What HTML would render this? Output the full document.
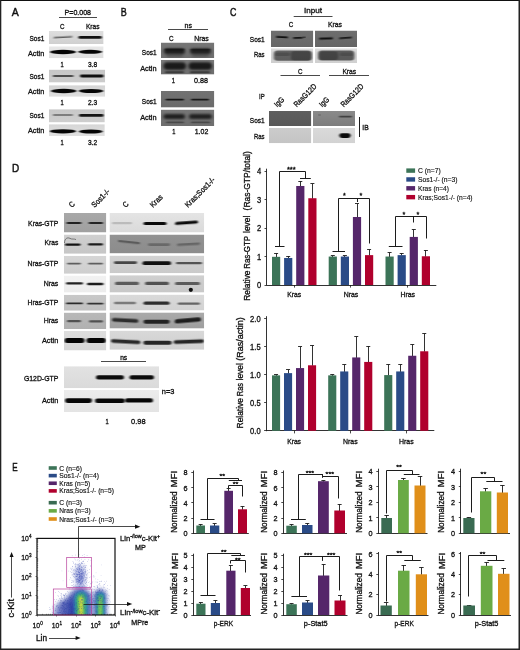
<!DOCTYPE html>
<html><head><meta charset="utf-8"><title>Figure</title>
<style>
html,body{margin:0;padding:0;background:#fff;}
body{width:520px;height:650px;overflow:hidden;position:relative;font-family:"Liberation Sans",sans-serif;}
svg{display:block}
svg text{font-family:"Liberation Sans",sans-serif;stroke:#111;stroke-width:0.32px;}
</style></head><body>
<svg width="520" height="650" viewBox="0 0 520 650">
<defs>
<filter id="bl" x="-20%" y="-100%" width="140%" height="300%"><feGaussianBlur stdDeviation="1.0 0.75"/></filter>
<filter id="bl0" x="-50%" y="-50%" width="200%" height="200%"><feGaussianBlur stdDeviation="0.5"/></filter>
<filter id="bl2" x="-20%" y="-100%" width="140%" height="300%"><feGaussianBlur stdDeviation="1.6 1.2"/></filter>
<filter id="bl3" x="-30%" y="-30%" width="160%" height="160%"><feGaussianBlur stdDeviation="2.2"/></filter>
<filter id="bl4" x="-30%" y="-30%" width="160%" height="160%"><feGaussianBlur stdDeviation="1.2"/></filter>
</defs>
<rect x="0" y="0" width="520" height="650" fill="#fff"/>

<text x="11.70" y="16.00" font-size="11.2" text-anchor="start" textLength="7.00" lengthAdjust="spacingAndGlyphs" fill="#111" style="stroke-width:0.45px">A</text>
<text x="77.80" y="15.00" font-size="7.4" text-anchor="middle" textLength="26.50" lengthAdjust="spacingAndGlyphs" fill="#111">P=0.008</text>
<line x1="59.00" y1="17.50" x2="97.00" y2="17.50" stroke="#1c1c1c" stroke-width="0.8"/>
<text x="62.20" y="29.00" font-size="7.8" text-anchor="middle" textLength="4.50" lengthAdjust="spacingAndGlyphs" fill="#111">C</text>
<text x="92.70" y="29.00" font-size="7.8" text-anchor="middle" textLength="13.60" lengthAdjust="spacingAndGlyphs" fill="#111">Kras</text>
<svg x="49.00" y="31.00" width="54.60" height="13.00" viewBox="49.00 31.00 54.60 13.00">
<linearGradient id="bg1" x1="0" y1="0" x2="0" y2="1"><stop offset="0" stop-color="#dedede"/><stop offset="1" stop-color="#d0d0d0"/></linearGradient>
<rect x="49.00" y="31.00" width="54.60" height="13.00" fill="url(#bg1)"/>
<rect x="53.50" y="36.40" width="19.00" height="1.60" rx="0.80" fill="#000" opacity="0.55" filter="url(#bl)" transform="rotate(-3 63.00 37.20)"/>
<rect x="78.40" y="36.00" width="23.40" height="2.80" rx="1.40" fill="#000" opacity="0.93" filter="url(#bl)"/>
</svg>
<svg x="49.00" y="46.30" width="54.60" height="11.90" viewBox="49.00 46.30 54.60 11.90">
<linearGradient id="bg2" x1="0" y1="0" x2="0" y2="1"><stop offset="0" stop-color="#e8e8e8"/><stop offset="1" stop-color="#dedede"/></linearGradient>
<rect x="49.00" y="46.30" width="54.60" height="11.90" fill="url(#bg2)"/>
<ellipse cx="63.00" cy="52.00" rx="13.00" ry="2.15" fill="#000" opacity="0.98" filter="url(#bl)"/>
<ellipse cx="90.20" cy="51.80" rx="12.20" ry="2.00" fill="#000" opacity="0.98" filter="url(#bl)"/>
</svg>
<svg x="49.00" y="69.60" width="56.20" height="13.00" viewBox="49.00 69.60 56.20 13.00">
<linearGradient id="bg3" x1="0" y1="0" x2="0" y2="1"><stop offset="0" stop-color="#c6c6c6"/><stop offset="1" stop-color="#cccccc"/></linearGradient>
<rect x="49.00" y="69.60" width="56.20" height="13.00" fill="url(#bg3)"/>
<rect x="52.80" y="75.10" width="20.80" height="1.80" rx="0.90" fill="#000" opacity="0.62" filter="url(#bl)"/>
<rect x="80.00" y="74.60" width="23.60" height="2.80" rx="1.40" fill="#000" opacity="0.92" filter="url(#bl)"/>
</svg>
<svg x="49.00" y="85.20" width="56.20" height="11.60" viewBox="49.00 85.20 56.20 11.60">
<linearGradient id="bg4" x1="0" y1="0" x2="0" y2="1"><stop offset="0" stop-color="#d4d4d4"/><stop offset="1" stop-color="#dedede"/></linearGradient>
<rect x="49.00" y="85.20" width="56.20" height="11.60" fill="url(#bg4)"/>
<ellipse cx="63.75" cy="91.00" rx="12.75" ry="2.15" fill="#000" opacity="0.98" filter="url(#bl)"/>
<ellipse cx="91.15" cy="91.00" rx="12.35" ry="2.00" fill="#000" opacity="0.98" filter="url(#bl)"/>
</svg>
<svg x="49.00" y="109.20" width="55.80" height="13.20" viewBox="49.00 109.20 55.80 13.20">
<linearGradient id="bg5" x1="0" y1="0" x2="0" y2="1"><stop offset="0" stop-color="#c8c8c8"/><stop offset="1" stop-color="#cecece"/></linearGradient>
<rect x="49.00" y="109.20" width="55.80" height="13.20" fill="url(#bg5)"/>
<rect x="52.80" y="114.20" width="20.20" height="1.60" rx="0.80" fill="#000" opacity="0.5" filter="url(#bl)"/>
<rect x="79.00" y="114.00" width="24.60" height="2.80" rx="1.40" fill="#000" opacity="0.9" filter="url(#bl)"/>
</svg>
<svg x="49.00" y="124.20" width="55.80" height="11.80" viewBox="49.00 124.20 55.80 11.80">
<linearGradient id="bg6" x1="0" y1="0" x2="0" y2="1"><stop offset="0" stop-color="#d6d6d6"/><stop offset="1" stop-color="#e0e0e0"/></linearGradient>
<rect x="49.00" y="124.20" width="55.80" height="11.80" fill="url(#bg6)"/>
<ellipse cx="62.90" cy="131.30" rx="13.10" ry="2.15" fill="#000" opacity="0.98" filter="url(#bl)"/>
<ellipse cx="90.80" cy="131.50" rx="12.00" ry="2.00" fill="#000" opacity="0.98" filter="url(#bl)"/>
</svg>
<text x="62.00" y="67.00" font-size="7.8" text-anchor="middle" textLength="3.20" lengthAdjust="spacingAndGlyphs" fill="#111">1</text>
<text x="92.50" y="67.00" font-size="7.8" text-anchor="middle" textLength="9.20" lengthAdjust="spacingAndGlyphs" fill="#111">3.8</text>
<text x="62.00" y="105.00" font-size="7.8" text-anchor="middle" textLength="3.20" lengthAdjust="spacingAndGlyphs" fill="#111">1</text>
<text x="92.50" y="105.00" font-size="7.8" text-anchor="middle" textLength="9.20" lengthAdjust="spacingAndGlyphs" fill="#111">2.3</text>
<text x="62.00" y="144.60" font-size="7.8" text-anchor="middle" textLength="3.20" lengthAdjust="spacingAndGlyphs" fill="#111">1</text>
<text x="92.50" y="144.60" font-size="7.8" text-anchor="middle" textLength="9.20" lengthAdjust="spacingAndGlyphs" fill="#111">3.2</text>
<text x="44.30" y="41.00" font-size="7.8" text-anchor="end" textLength="14.80" lengthAdjust="spacingAndGlyphs" fill="#111">Sos1</text>
<text x="44.30" y="55.60" font-size="7.8" text-anchor="end" textLength="16.40" lengthAdjust="spacingAndGlyphs" fill="#111">Actin</text>
<text x="44.30" y="79.30" font-size="7.8" text-anchor="end" textLength="14.80" lengthAdjust="spacingAndGlyphs" fill="#111">Sos1</text>
<text x="44.30" y="94.00" font-size="7.8" text-anchor="end" textLength="16.40" lengthAdjust="spacingAndGlyphs" fill="#111">Actin</text>
<text x="44.30" y="118.40" font-size="7.8" text-anchor="end" textLength="14.80" lengthAdjust="spacingAndGlyphs" fill="#111">Sos1</text>
<text x="44.30" y="133.00" font-size="7.8" text-anchor="end" textLength="16.40" lengthAdjust="spacingAndGlyphs" fill="#111">Actin</text>
<text x="120.80" y="15.80" font-size="11.2" text-anchor="start" textLength="6.00" lengthAdjust="spacingAndGlyphs" fill="#111" style="stroke-width:0.45px">B</text>
<text x="188.20" y="28.20" font-size="7.4" text-anchor="middle" textLength="7.40" lengthAdjust="spacingAndGlyphs" fill="#111">ns</text>
<line x1="168.00" y1="29.50" x2="208.00" y2="29.50" stroke="#1c1c1c" stroke-width="0.8"/>
<text x="171.20" y="41.00" font-size="7.8" text-anchor="middle" textLength="4.60" lengthAdjust="spacingAndGlyphs" fill="#111">C</text>
<text x="201.50" y="41.00" font-size="7.8" text-anchor="middle" textLength="14.60" lengthAdjust="spacingAndGlyphs" fill="#111">Nras</text>
<svg x="161.00" y="42.50" width="53.30" height="15.50" viewBox="161.00 42.50 53.30 15.50">
<linearGradient id="bg7" x1="0" y1="0" x2="0" y2="1"><stop offset="0" stop-color="#767676"/><stop offset="1" stop-color="#6e6e6e"/></linearGradient>
<rect x="161.00" y="42.50" width="53.30" height="15.50" fill="url(#bg7)"/>
<rect x="164.00" y="48.40" width="21.00" height="5.60" rx="2.80" fill="#000" opacity="0.72" filter="url(#bl2)"/>
<rect x="190.00" y="48.50" width="21.00" height="5.40" rx="2.70" fill="#000" opacity="0.7" filter="url(#bl2)"/>
<rect x="164.50" y="48.60" width="20.00" height="2.00" rx="1.00" fill="#000" opacity="0.5" filter="url(#bl)"/>
<rect x="190.50" y="48.70" width="20.00" height="1.80" rx="0.90" fill="#000" opacity="0.45" filter="url(#bl)"/>
<rect x="166.00" y="54.00" width="17.00" height="3.00" rx="1.50" fill="#000" opacity="0.25" filter="url(#bl2)"/>
<rect x="192.00" y="54.00" width="17.00" height="3.00" rx="1.50" fill="#000" opacity="0.25" filter="url(#bl2)"/>
</svg>
<svg x="161.00" y="60.00" width="53.30" height="14.60" viewBox="161.00 60.00 53.30 14.60">
<linearGradient id="bg8" x1="0" y1="0" x2="0" y2="1"><stop offset="0" stop-color="#7a7a7a"/><stop offset="1" stop-color="#6c6c6c"/></linearGradient>
<rect x="161.00" y="60.00" width="53.30" height="14.60" fill="url(#bg8)"/>
<rect x="163.50" y="62.25" width="22.50" height="7.50" rx="3.75" fill="#000" opacity="0.78" filter="url(#bl2)"/>
<rect x="188.50" y="62.25" width="23.50" height="7.50" rx="3.75" fill="#000" opacity="0.78" filter="url(#bl2)"/>
<rect x="165.00" y="71.30" width="19.00" height="2.00" rx="1.00" fill="#000" opacity="0.45" filter="url(#bl)"/>
<rect x="190.00" y="71.30" width="20.00" height="2.00" rx="1.00" fill="#000" opacity="0.45" filter="url(#bl)"/>
</svg>
<svg x="161.00" y="91.00" width="53.30" height="16.60" viewBox="161.00 91.00 53.30 16.60">
<linearGradient id="bg9" x1="0" y1="0" x2="0" y2="1"><stop offset="0" stop-color="#727272"/><stop offset="1" stop-color="#6a6a6a"/></linearGradient>
<rect x="161.00" y="91.00" width="53.30" height="16.60" fill="url(#bg9)"/>
<rect x="165.50" y="98.70" width="18.50" height="1.80" rx="0.90" fill="#000" opacity="0.8" filter="url(#bl)"/>
<rect x="191.00" y="98.70" width="18.00" height="1.80" rx="0.90" fill="#000" opacity="0.78" filter="url(#bl)"/>
</svg>
<svg x="161.00" y="109.60" width="53.30" height="16.40" viewBox="161.00 109.60 53.30 16.40">
<linearGradient id="bg10" x1="0" y1="0" x2="0" y2="1"><stop offset="0" stop-color="#767676"/><stop offset="1" stop-color="#6e6e6e"/></linearGradient>
<rect x="161.00" y="109.60" width="53.30" height="16.40" fill="url(#bg10)"/>
<rect x="163.50" y="113.90" width="21.50" height="5.00" rx="2.50" fill="#000" opacity="0.72" filter="url(#bl2)"/>
<rect x="189.00" y="113.90" width="23.00" height="5.00" rx="2.50" fill="#000" opacity="0.7" filter="url(#bl2)"/>
<rect x="166.00" y="121.50" width="18.00" height="1.80" rx="0.90" fill="#000" opacity="0.35" filter="url(#bl)"/>
<rect x="191.00" y="121.50" width="19.00" height="1.80" rx="0.90" fill="#000" opacity="0.35" filter="url(#bl)"/>
</svg>
<text x="173.30" y="83.00" font-size="7.8" text-anchor="middle" textLength="3.20" lengthAdjust="spacingAndGlyphs" fill="#111">1</text>
<text x="201.00" y="83.00" font-size="7.8" text-anchor="middle" textLength="14.00" lengthAdjust="spacingAndGlyphs" fill="#111">0.88</text>
<text x="173.80" y="134.40" font-size="7.8" text-anchor="middle" textLength="3.20" lengthAdjust="spacingAndGlyphs" fill="#111">1</text>
<text x="201.50" y="134.40" font-size="7.8" text-anchor="middle" textLength="13.60" lengthAdjust="spacingAndGlyphs" fill="#111">1.02</text>
<text x="156.60" y="54.60" font-size="7.8" text-anchor="end" textLength="14.80" lengthAdjust="spacingAndGlyphs" fill="#111">Sos1</text>
<text x="156.60" y="70.60" font-size="7.8" text-anchor="end" textLength="16.40" lengthAdjust="spacingAndGlyphs" fill="#111">Actin</text>
<text x="156.60" y="104.30" font-size="7.8" text-anchor="end" textLength="14.80" lengthAdjust="spacingAndGlyphs" fill="#111">Sos1</text>
<text x="156.60" y="120.20" font-size="7.8" text-anchor="end" textLength="16.40" lengthAdjust="spacingAndGlyphs" fill="#111">Actin</text>
<text x="230.00" y="16.00" font-size="11.2" text-anchor="start" textLength="6.40" lengthAdjust="spacingAndGlyphs" fill="#111" style="stroke-width:0.45px">C</text>
<text x="313.00" y="13.00" font-size="7.8" text-anchor="middle" textLength="18.00" lengthAdjust="spacingAndGlyphs" fill="#111">Input</text>
<line x1="293.70" y1="16.50" x2="332.50" y2="16.50" stroke="#1c1c1c" stroke-width="0.8"/>
<text x="291.00" y="27.00" font-size="7.8" text-anchor="middle" textLength="4.50" lengthAdjust="spacingAndGlyphs" fill="#111">C</text>
<text x="335.00" y="27.00" font-size="7.8" text-anchor="middle" textLength="14.00" lengthAdjust="spacingAndGlyphs" fill="#111">Kras</text>
<svg x="271.00" y="30.50" width="42.30" height="16.50" viewBox="271.00 30.50 42.30 16.50">
<linearGradient id="bg11" x1="0" y1="0" x2="0" y2="1"><stop offset="0" stop-color="#707070"/><stop offset="1" stop-color="#666666"/></linearGradient>
<rect x="271.00" y="30.50" width="42.30" height="16.50" fill="url(#bg11)"/>
<rect x="276.00" y="36.30" width="12.00" height="1.80" rx="0.90" fill="#000" opacity="0.85" filter="url(#bl)" transform="rotate(3 282.00 37.20)"/>
<rect x="293.00" y="36.90" width="10.00" height="1.80" rx="0.90" fill="#000" opacity="0.8" filter="url(#bl)" transform="rotate(-2 298.00 37.80)"/>
<rect x="303.00" y="36.40" width="2.50" height="1.60" rx="0.80" fill="#000" opacity="0.7" filter="url(#bl)"/>
</svg>
<svg x="315.00" y="30.50" width="42.00" height="16.50" viewBox="315.00 30.50 42.00 16.50">
<linearGradient id="bg12" x1="0" y1="0" x2="0" y2="1"><stop offset="0" stop-color="#6e6e6e"/><stop offset="1" stop-color="#646464"/></linearGradient>
<rect x="315.00" y="30.50" width="42.00" height="16.50" fill="url(#bg12)"/>
<rect x="319.00" y="37.60" width="14.00" height="2.00" rx="1.00" fill="#000" opacity="0.85" filter="url(#bl)" transform="rotate(-2 326.00 38.60)"/>
<rect x="339.00" y="36.90" width="13.00" height="1.80" rx="0.90" fill="#000" opacity="0.75" filter="url(#bl)" transform="rotate(-4 345.50 37.80)"/>
</svg>
<svg x="271.00" y="48.30" width="42.30" height="14.70" viewBox="271.00 48.30 42.30 14.70">
<linearGradient id="bg13" x1="0" y1="0" x2="0" y2="1"><stop offset="0" stop-color="#dadada"/><stop offset="1" stop-color="#cecece"/></linearGradient>
<rect x="271.00" y="48.30" width="42.30" height="14.70" fill="url(#bg13)"/>
<rect x="273.8" y="50.4" width="38.0" height="10.399999999999999" rx="3.5" fill="#000" opacity="0.55" filter="url(#bl)"/><rect x="291" y="51.2" width="20.5" height="9.199999999999996" rx="3" fill="#000" opacity="0.28" filter="url(#bl)"/><rect x="275" y="52.5" width="15" height="3.5" rx="1.5" fill="#000" opacity="0.18" filter="url(#bl)"/>
</svg>
<svg x="315.00" y="48.30" width="42.00" height="14.70" viewBox="315.00 48.30 42.00 14.70">
<linearGradient id="bg14" x1="0" y1="0" x2="0" y2="1"><stop offset="0" stop-color="#dcdcdc"/><stop offset="1" stop-color="#d0d0d0"/></linearGradient>
<rect x="315.00" y="48.30" width="42.00" height="14.70" fill="url(#bg14)"/>
<rect x="318" y="50.6" width="36.39999999999998" height="10.0" rx="3.5" fill="#000" opacity="0.58" filter="url(#bl)"/><rect x="319.5" y="51.5" width="18.5" height="8.5" rx="3" fill="#000" opacity="0.25" filter="url(#bl)"/><rect x="340" y="52.5" width="13" height="3.5" rx="1.5" fill="#000" opacity="0.15" filter="url(#bl)"/>
</svg>
<text x="300.30" y="74.40" font-size="7.8" text-anchor="middle" textLength="4.50" lengthAdjust="spacingAndGlyphs" fill="#111">C</text>
<line x1="280.50" y1="75.50" x2="320.00" y2="75.50" stroke="#1c1c1c" stroke-width="0.8"/>
<text x="349.30" y="74.40" font-size="7.8" text-anchor="middle" textLength="13.80" lengthAdjust="spacingAndGlyphs" fill="#111">Kras</text>
<line x1="329.00" y1="75.50" x2="369.00" y2="75.50" stroke="#1c1c1c" stroke-width="0.8"/>
<text x="259.00" y="99.00" font-size="7.8" text-anchor="start" textLength="5.60" lengthAdjust="spacingAndGlyphs" fill="#111">IP</text>
<text x="277.30" y="107.50" font-size="7.8" text-anchor="start" textLength="10.50" lengthAdjust="spacingAndGlyphs" fill="#111" transform="rotate(-45 277.30 107.50)">IgG</text>
<text x="296.70" y="107.50" font-size="7.8" text-anchor="start" textLength="29.00" lengthAdjust="spacingAndGlyphs" fill="#111" transform="rotate(-45 296.70 107.50)">RasG12D</text>
<text x="322.30" y="107.50" font-size="7.8" text-anchor="start" textLength="10.50" lengthAdjust="spacingAndGlyphs" fill="#111" transform="rotate(-45 322.30 107.50)">IgG</text>
<text x="343.70" y="107.50" font-size="7.8" text-anchor="start" textLength="29.00" lengthAdjust="spacingAndGlyphs" fill="#111" transform="rotate(-45 343.70 107.50)">RasG12D</text>
<svg x="269.00" y="111.00" width="42.30" height="15.00" viewBox="269.00 111.00 42.30 15.00">
<linearGradient id="bg15" x1="0" y1="0" x2="0" y2="1"><stop offset="0" stop-color="#5e5e5e"/><stop offset="1" stop-color="#585858"/></linearGradient>
<rect x="269.00" y="111.00" width="42.30" height="15.00" fill="url(#bg15)"/>
</svg>
<svg x="313.00" y="111.00" width="42.00" height="15.00" viewBox="313.00 111.00 42.00 15.00">
<linearGradient id="bg16" x1="0" y1="0" x2="0" y2="1"><stop offset="0" stop-color="#8a8a8a"/><stop offset="1" stop-color="#7c7c7c"/></linearGradient>
<rect x="313.00" y="111.00" width="42.00" height="15.00" fill="url(#bg16)"/>
<rect x="339.00" y="115.70" width="13.00" height="1.80" rx="0.90" fill="#000" opacity="0.5" filter="url(#bl)"/>
<rect x="318.50" y="114.20" width="2.00" height="1.60" rx="0.80" fill="#000" opacity="0.4" filter="url(#bl)"/>
</svg>
<svg x="269.00" y="128.00" width="42.30" height="15.20" viewBox="269.00 128.00 42.30 15.20">
<linearGradient id="bg17" x1="0" y1="0" x2="0" y2="1"><stop offset="0" stop-color="#cccccc"/><stop offset="1" stop-color="#c4c4c4"/></linearGradient>
<rect x="269.00" y="128.00" width="42.30" height="15.20" fill="url(#bg17)"/>
</svg>
<svg x="313.00" y="128.00" width="42.00" height="15.20" viewBox="313.00 128.00 42.00 15.20">
<linearGradient id="bg18" x1="0" y1="0" x2="0" y2="1"><stop offset="0" stop-color="#dadada"/><stop offset="1" stop-color="#d2d2d2"/></linearGradient>
<rect x="313.00" y="128.00" width="42.00" height="15.20" fill="url(#bg18)"/>
<rect x="339.30" y="133.20" width="11.30" height="4.80" rx="2.40" fill="#000" opacity="0.95" filter="url(#bl)"/>
</svg>
<line x1="359.50" y1="117.00" x2="359.50" y2="137.00" stroke="#1c1c1c" stroke-width="1.0"/>
<text x="362.30" y="130.00" font-size="7.8" text-anchor="start" textLength="6.40" lengthAdjust="spacingAndGlyphs" fill="#111">IB</text>
<text x="264.60" y="42.40" font-size="7.8" text-anchor="end" textLength="14.80" lengthAdjust="spacingAndGlyphs" fill="#111">Sos1</text>
<text x="264.60" y="57.40" font-size="7.8" text-anchor="end" textLength="10.60" lengthAdjust="spacingAndGlyphs" fill="#111">Ras</text>
<text x="264.60" y="123.20" font-size="7.8" text-anchor="end" textLength="14.80" lengthAdjust="spacingAndGlyphs" fill="#111">Sos1</text>
<text x="264.60" y="139.00" font-size="7.8" text-anchor="end" textLength="10.60" lengthAdjust="spacingAndGlyphs" fill="#111">Ras</text>
<text x="12.00" y="172.20" font-size="11.2" text-anchor="start" textLength="7.20" lengthAdjust="spacingAndGlyphs" fill="#111" style="stroke-width:0.45px">D</text>
<text x="72.00" y="208.00" font-size="7.8" text-anchor="start" textLength="4.80" lengthAdjust="spacingAndGlyphs" fill="#111" transform="rotate(-45 72.00 208.00)">C</text>
<text x="94.60" y="208.00" font-size="7.8" text-anchor="start" textLength="22.50" lengthAdjust="spacingAndGlyphs" fill="#111" transform="rotate(-45 94.60 208.00)">Sos1-/-</text>
<text x="125.80" y="208.00" font-size="7.8" text-anchor="start" textLength="4.80" lengthAdjust="spacingAndGlyphs" fill="#111" transform="rotate(-45 125.80 208.00)">C</text>
<text x="153.00" y="208.00" font-size="7.8" text-anchor="start" textLength="14.50" lengthAdjust="spacingAndGlyphs" fill="#111" transform="rotate(-45 153.00 208.00)">Kras</text>
<text x="188.00" y="208.00" font-size="7.8" text-anchor="start" textLength="39.00" lengthAdjust="spacingAndGlyphs" fill="#111" transform="rotate(-45 188.00 208.00)">Kras;Sos1-/-</text>
<svg x="64.00" y="213.00" width="42.30" height="19.50" viewBox="64.00 213.00 42.30 19.50">
<linearGradient id="bg19" x1="0" y1="0" x2="0" y2="1"><stop offset="0" stop-color="#a8a8a8"/><stop offset="1" stop-color="#a0a0a0"/></linearGradient>
<rect x="64.00" y="213.00" width="42.30" height="19.50" fill="url(#bg19)"/>
<rect x="66.50" y="222.10" width="15.00" height="2.00" rx="1.00" fill="#000" opacity="0.8" filter="url(#bl)"/>
<rect x="88.50" y="221.90" width="14.50" height="2.00" rx="1.00" fill="#000" opacity="0.78" filter="url(#bl)"/>
</svg>
<svg x="64.00" y="234.50" width="42.30" height="19.30" viewBox="64.00 234.50 42.30 19.30">
<linearGradient id="bg20" x1="0" y1="0" x2="0" y2="1"><stop offset="0" stop-color="#d0d0d0"/><stop offset="1" stop-color="#c6c6c6"/></linearGradient>
<rect x="64.00" y="234.50" width="42.30" height="19.30" fill="url(#bg20)"/>
<rect x="65.00" y="243.40" width="15.50" height="2.40" rx="1.20" fill="#000" opacity="0.9" filter="url(#bl)"/>
<rect x="88.00" y="243.30" width="15.00" height="2.20" rx="1.10" fill="#000" opacity="0.86" filter="url(#bl)"/>
<path d="M64.5 243 C64.5 238.5 67.5 237 70 238.4 C72 239.6 74.5 238.6 76 239.6" fill="none" stroke="#222" stroke-width="0.8" opacity="0.65" filter="url(#bl0)"/>
</svg>
<svg x="64.00" y="255.80" width="42.30" height="18.00" viewBox="64.00 255.80 42.30 18.00">
<linearGradient id="bg21" x1="0" y1="0" x2="0" y2="1"><stop offset="0" stop-color="#d6d6d6"/><stop offset="1" stop-color="#cecece"/></linearGradient>
<rect x="64.00" y="255.80" width="42.30" height="18.00" fill="url(#bg21)"/>
<rect x="67.00" y="262.80" width="14.00" height="1.60" rx="0.80" fill="#000" opacity="0.55" filter="url(#bl)"/>
<rect x="88.00" y="262.70" width="15.00" height="1.80" rx="0.90" fill="#000" opacity="0.55" filter="url(#bl)"/>
</svg>
<svg x="64.00" y="275.50" width="42.30" height="17.10" viewBox="64.00 275.50 42.30 17.10">
<linearGradient id="bg22" x1="0" y1="0" x2="0" y2="1"><stop offset="0" stop-color="#f2f2f2"/><stop offset="1" stop-color="#ececec"/></linearGradient>
<rect x="64.00" y="275.50" width="42.30" height="17.10" fill="url(#bg22)"/>
<rect x="66.00" y="282.30" width="17.00" height="2.20" rx="1.10" fill="#000" opacity="0.85" filter="url(#bl)"/>
<rect x="87.00" y="282.80" width="16.50" height="2.40" rx="1.20" fill="#000" opacity="0.88" filter="url(#bl)"/>
</svg>
<svg x="64.00" y="294.80" width="42.30" height="15.90" viewBox="64.00 294.80 42.30 15.90">
<linearGradient id="bg23" x1="0" y1="0" x2="0" y2="1"><stop offset="0" stop-color="#c8c8c8"/><stop offset="1" stop-color="#c0c0c0"/></linearGradient>
<rect x="64.00" y="294.80" width="42.30" height="15.90" fill="url(#bg23)"/>
<rect x="66.00" y="302.50" width="17.00" height="1.80" rx="0.90" fill="#000" opacity="0.78" filter="url(#bl)"/>
<rect x="87.00" y="302.70" width="16.50" height="1.80" rx="0.90" fill="#000" opacity="0.74" filter="url(#bl)"/>
</svg>
<svg x="64.00" y="312.60" width="42.30" height="16.40" viewBox="64.00 312.60 42.30 16.40">
<linearGradient id="bg24" x1="0" y1="0" x2="0" y2="1"><stop offset="0" stop-color="#b8b8b8"/><stop offset="1" stop-color="#b0b0b0"/></linearGradient>
<rect x="64.00" y="312.60" width="42.30" height="16.40" fill="url(#bg24)"/>
<rect x="67.00" y="320.10" width="14.00" height="2.20" rx="1.10" fill="#000" opacity="0.55" filter="url(#bl)"/>
<rect x="89.00" y="320.30" width="14.00" height="2.20" rx="1.10" fill="#000" opacity="0.55" filter="url(#bl)"/>
</svg>
<svg x="64.00" y="331.00" width="42.30" height="19.50" viewBox="64.00 331.00 42.30 19.50">
<linearGradient id="bg25" x1="0" y1="0" x2="0" y2="1"><stop offset="0" stop-color="#dedede"/><stop offset="1" stop-color="#d6d6d6"/></linearGradient>
<rect x="64.00" y="331.00" width="42.30" height="19.50" fill="url(#bg25)"/>
<rect x="64.60" y="337.90" width="19.90" height="5.00" rx="2.50" fill="#000" opacity="0.98" filter="url(#bl)"/>
<rect x="86.50" y="337.90" width="19.30" height="5.00" rx="2.50" fill="#000" opacity="0.98" filter="url(#bl)"/>
</svg>
<svg x="109.50" y="213.00" width="94.70" height="19.50" viewBox="109.50 213.00 94.70 19.50">
<linearGradient id="bg26" x1="0" y1="0" x2="0" y2="1"><stop offset="0" stop-color="#e4e4e4"/><stop offset="1" stop-color="#dadada"/></linearGradient>
<rect x="109.50" y="213.00" width="94.70" height="19.50" fill="url(#bg26)"/>
<rect x="112.00" y="222.10" width="20.00" height="2.20" rx="1.10" fill="#000" opacity="0.16" filter="url(#bl)"/>
<rect x="143.50" y="222.10" width="23.00" height="3.00" rx="1.50" fill="#000" opacity="0.95" filter="url(#bl)"/>
<rect x="175.00" y="221.30" width="23.00" height="3.00" rx="1.50" fill="#000" opacity="0.95" filter="url(#bl)" transform="rotate(-4 186.50 222.80)"/>
</svg>
<svg x="109.50" y="234.50" width="94.70" height="18.90" viewBox="109.50 234.50 94.70 18.90">
<linearGradient id="bg27" x1="0" y1="0" x2="0" y2="1"><stop offset="0" stop-color="#929292"/><stop offset="1" stop-color="#8c8c8c"/></linearGradient>
<rect x="109.50" y="234.50" width="94.70" height="18.90" fill="url(#bg27)"/>
<rect x="118.00" y="241.10" width="22.00" height="2.20" rx="1.10" fill="#000" opacity="0.36" filter="url(#bl)" transform="rotate(6 129.00 242.20)"/>
<rect x="148.00" y="243.30" width="22.00" height="2.60" rx="1.30" fill="#000" opacity="0.26" filter="url(#bl)"/>
<rect x="177.00" y="243.00" width="23.00" height="2.40" rx="1.20" fill="#000" opacity="0.28" filter="url(#bl)" transform="rotate(-3 188.50 244.20)"/>
</svg>
<svg x="109.50" y="255.60" width="94.70" height="17.60" viewBox="109.50 255.60 94.70 17.60">
<linearGradient id="bg28" x1="0" y1="0" x2="0" y2="1"><stop offset="0" stop-color="#d2d2d2"/><stop offset="1" stop-color="#cacaca"/></linearGradient>
<rect x="109.50" y="255.60" width="94.70" height="17.60" fill="url(#bg28)"/>
<rect x="114.00" y="261.30" width="23.00" height="2.60" rx="1.30" fill="#000" opacity="0.66" filter="url(#bl)"/>
<rect x="142.50" y="261.30" width="28.50" height="3.80" rx="1.90" fill="#000" opacity="0.92" filter="url(#bl)"/>
<rect x="176.00" y="262.10" width="26.00" height="2.20" rx="1.10" fill="#000" opacity="0.6" filter="url(#bl)"/>
</svg>
<svg x="109.50" y="275.20" width="94.70" height="17.40" viewBox="109.50 275.20 94.70 17.40">
<linearGradient id="bg29" x1="0" y1="0" x2="0" y2="1"><stop offset="0" stop-color="#d0d0d0"/><stop offset="1" stop-color="#c8c8c8"/></linearGradient>
<rect x="109.50" y="275.20" width="94.70" height="17.40" fill="url(#bg29)"/>
<rect x="115.00" y="281.80" width="24.00" height="3.20" rx="1.60" fill="#000" opacity="0.55" filter="url(#bl)"/>
<rect x="145.00" y="281.70" width="24.00" height="3.40" rx="1.70" fill="#000" opacity="0.6" filter="url(#bl)"/>
<rect x="175.00" y="282.10" width="25.00" height="3.00" rx="1.50" fill="#000" opacity="0.55" filter="url(#bl)"/>
<circle cx="190.8" cy="289.8" r="2.1" fill="#0a0a0a" filter="url(#bl0)"/>
</svg>
<svg x="109.50" y="294.60" width="94.70" height="15.90" viewBox="109.50 294.60 94.70 15.90">
<linearGradient id="bg30" x1="0" y1="0" x2="0" y2="1"><stop offset="0" stop-color="#dadada"/><stop offset="1" stop-color="#d2d2d2"/></linearGradient>
<rect x="109.50" y="294.60" width="94.70" height="15.90" fill="url(#bg30)"/>
<rect x="114.00" y="301.80" width="22.00" height="2.40" rx="1.20" fill="#000" opacity="0.42" filter="url(#bl)"/>
<rect x="143.50" y="301.60" width="26.10" height="3.20" rx="1.60" fill="#000" opacity="0.78" filter="url(#bl)"/>
<rect x="177.70" y="302.40" width="22.30" height="2.40" rx="1.20" fill="#000" opacity="0.52" filter="url(#bl)"/>
</svg>
<svg x="109.50" y="312.40" width="94.70" height="16.20" viewBox="109.50 312.40 94.70 16.20">
<linearGradient id="bg31" x1="0" y1="0" x2="0" y2="1"><stop offset="0" stop-color="#aaaaaa"/><stop offset="1" stop-color="#9e9e9e"/></linearGradient>
<rect x="109.50" y="312.40" width="94.70" height="16.20" fill="url(#bg31)"/>
<rect x="112.00" y="318.60" width="26.30" height="3.60" rx="1.80" fill="#000" opacity="0.72" filter="url(#bl)" transform="rotate(3 125.15 320.40)"/>
<rect x="143.50" y="319.70" width="26.10" height="4.00" rx="2.00" fill="#000" opacity="0.78" filter="url(#bl)"/>
<rect x="174.70" y="318.20" width="26.30" height="4.40" rx="2.20" fill="#000" opacity="0.82" filter="url(#bl)" transform="rotate(-5 187.85 320.40)"/>
</svg>
<svg x="109.50" y="330.60" width="94.70" height="19.20" viewBox="109.50 330.60 94.70 19.20">
<linearGradient id="bg32" x1="0" y1="0" x2="0" y2="1"><stop offset="0" stop-color="#d8d8d8"/><stop offset="1" stop-color="#d0d0d0"/></linearGradient>
<rect x="109.50" y="330.60" width="94.70" height="19.20" fill="url(#bg32)"/>
<rect x="111.00" y="339.70" width="29.40" height="3.80" rx="1.90" fill="#000" opacity="0.8" filter="url(#bl)" transform="rotate(3 125.70 341.60)"/>
<rect x="143.40" y="340.80" width="28.30" height="4.00" rx="2.00" fill="#000" opacity="0.82" filter="url(#bl)"/>
<rect x="173.70" y="339.70" width="30.30" height="3.80" rx="1.90" fill="#000" opacity="0.82" filter="url(#bl)" transform="rotate(-2 188.85 341.60)"/>
</svg>
<text x="58.30" y="226.40" font-size="7.8" text-anchor="end" textLength="30.20" lengthAdjust="spacingAndGlyphs" fill="#111">Kras-GTP</text>
<text x="58.30" y="245.20" font-size="7.8" text-anchor="end" textLength="13.80" lengthAdjust="spacingAndGlyphs" fill="#111">Kras</text>
<text x="58.30" y="266.40" font-size="7.8" text-anchor="end" textLength="30.70" lengthAdjust="spacingAndGlyphs" fill="#111">Nras-GTP</text>
<text x="58.30" y="285.80" font-size="7.8" text-anchor="end" textLength="14.60" lengthAdjust="spacingAndGlyphs" fill="#111">Nras</text>
<text x="58.30" y="305.40" font-size="7.8" text-anchor="end" textLength="30.70" lengthAdjust="spacingAndGlyphs" fill="#111">Hras-GTP</text>
<text x="58.30" y="323.00" font-size="7.8" text-anchor="end" textLength="14.60" lengthAdjust="spacingAndGlyphs" fill="#111">Hras</text>
<text x="58.30" y="343.00" font-size="7.8" text-anchor="end" textLength="16.40" lengthAdjust="spacingAndGlyphs" fill="#111">Actin</text>
<text x="123.70" y="359.50" font-size="6.8" text-anchor="middle" textLength="7.00" lengthAdjust="spacingAndGlyphs" fill="#111">ns</text>
<line x1="101.00" y1="361.50" x2="146.00" y2="361.50" stroke="#1c1c1c" stroke-width="0.8"/>
<svg x="64.00" y="366.20" width="95.00" height="22.00" viewBox="64.00 366.20 95.00 22.00">
<linearGradient id="bg33" x1="0" y1="0" x2="0" y2="1"><stop offset="0" stop-color="#e2e2e2"/><stop offset="1" stop-color="#dadada"/></linearGradient>
<rect x="64.00" y="366.20" width="95.00" height="22.00" fill="url(#bg33)"/>
<rect x="96.00" y="375.30" width="28.00" height="4.20" rx="2.10" fill="#000" opacity="0.95" filter="url(#bl)"/>
<rect x="129.50" y="375.30" width="24.50" height="4.20" rx="2.10" fill="#000" opacity="0.95" filter="url(#bl)"/>
</svg>
<svg x="64.00" y="390.00" width="95.00" height="22.00" viewBox="64.00 390.00 95.00 22.00">
<linearGradient id="bg34" x1="0" y1="0" x2="0" y2="1"><stop offset="0" stop-color="#ececec"/><stop offset="1" stop-color="#e4e4e4"/></linearGradient>
<rect x="64.00" y="390.00" width="95.00" height="22.00" fill="url(#bg34)"/>
<rect x="65.00" y="398.30" width="27.00" height="4.60" rx="2.30" fill="#000" opacity="0.97" filter="url(#bl)"/>
<rect x="95.00" y="398.50" width="30.00" height="4.60" rx="2.30" fill="#000" opacity="0.97" filter="url(#bl)"/>
<rect x="125.00" y="398.20" width="28.00" height="4.40" rx="2.20" fill="#000" opacity="0.97" filter="url(#bl)"/>
</svg>
<text x="58.30" y="380.60" font-size="7.8" text-anchor="end" textLength="34.40" lengthAdjust="spacingAndGlyphs" fill="#111">G12D-GTP</text>
<text x="58.30" y="402.80" font-size="7.8" text-anchor="end" textLength="16.40" lengthAdjust="spacingAndGlyphs" fill="#111">Actin</text>
<text x="161.80" y="393.80" font-size="7.8" text-anchor="start" textLength="12.60" lengthAdjust="spacingAndGlyphs" fill="#111">n=3</text>
<text x="107.00" y="424.00" font-size="7.8" text-anchor="middle" textLength="3.20" lengthAdjust="spacingAndGlyphs" fill="#111">1</text>
<text x="138.30" y="424.00" font-size="7.8" text-anchor="middle" textLength="14.50" lengthAdjust="spacingAndGlyphs" fill="#111">0.98</text>
<line x1="266.50" y1="168.70" x2="266.50" y2="285.40" stroke="#1c1c1c" stroke-width="0.9"/>
<line x1="264.50" y1="285.50" x2="266.70" y2="285.50" stroke="#1c1c1c" stroke-width="0.8"/>
<text x="261.20" y="287.98" font-size="8.4" text-anchor="end" textLength="4.20" lengthAdjust="spacingAndGlyphs" fill="#111">0</text>
<line x1="264.50" y1="256.50" x2="266.70" y2="256.50" stroke="#1c1c1c" stroke-width="0.8"/>
<text x="261.20" y="259.53" font-size="8.4" text-anchor="end" textLength="4.20" lengthAdjust="spacingAndGlyphs" fill="#111">1</text>
<line x1="264.50" y1="228.50" x2="266.70" y2="228.50" stroke="#1c1c1c" stroke-width="0.8"/>
<text x="261.20" y="231.08" font-size="8.4" text-anchor="end" textLength="4.20" lengthAdjust="spacingAndGlyphs" fill="#111">2</text>
<line x1="264.50" y1="199.50" x2="266.70" y2="199.50" stroke="#1c1c1c" stroke-width="0.8"/>
<text x="261.20" y="202.63" font-size="8.4" text-anchor="end" textLength="4.20" lengthAdjust="spacingAndGlyphs" fill="#111">3</text>
<line x1="264.50" y1="171.50" x2="266.70" y2="171.50" stroke="#1c1c1c" stroke-width="0.8"/>
<text x="261.20" y="174.18" font-size="8.4" text-anchor="end" textLength="4.20" lengthAdjust="spacingAndGlyphs" fill="#111">4</text>
<line x1="266.30" y1="285.50" x2="436.30" y2="285.50" stroke="#1c1c1c" stroke-width="0.9"/>
<text x="249.60" y="300.70" font-size="8.8" text-anchor="start" textLength="30.20" lengthAdjust="spacingAndGlyphs" fill="#111" transform="rotate(-90 249.60 300.70)">Relative</text>
<text x="249.60" y="268.70" font-size="8.8" text-anchor="start" textLength="32.70" lengthAdjust="spacingAndGlyphs" fill="#111" transform="rotate(-90 249.60 268.70)">Ras-GTP</text>
<text x="249.60" y="232.90" font-size="8.8" text-anchor="start" textLength="17.20" lengthAdjust="spacingAndGlyphs" fill="#111" transform="rotate(-90 249.60 232.90)">level</text>
<text x="249.60" y="210.40" font-size="8.8" text-anchor="start" textLength="59.20" lengthAdjust="spacingAndGlyphs" fill="#111" transform="rotate(-90 249.60 210.40)">(Ras-GTP/total)</text>
<line x1="276.50" y1="257.33" x2="276.50" y2="253.14" stroke="#1c1c1c" stroke-width="0.9"/>
<line x1="274.10" y1="253.50" x2="278.10" y2="253.50" stroke="#1c1c1c" stroke-width="0.9"/>
<rect x="272.00" y="256.83" width="8.20" height="28.17" fill="#3c7458"/>
<line x1="288.50" y1="258.47" x2="288.50" y2="256.27" stroke="#1c1c1c" stroke-width="0.9"/>
<line x1="286.20" y1="256.50" x2="290.20" y2="256.50" stroke="#1c1c1c" stroke-width="0.9"/>
<rect x="284.10" y="257.97" width="8.20" height="27.03" fill="#2a4b87"/>
<line x1="300.50" y1="186.49" x2="300.50" y2="181.16" stroke="#1c1c1c" stroke-width="0.9"/>
<line x1="298.30" y1="181.50" x2="302.30" y2="181.50" stroke="#1c1c1c" stroke-width="0.9"/>
<rect x="296.20" y="185.99" width="8.20" height="99.01" fill="#55266a"/>
<line x1="312.50" y1="198.73" x2="312.50" y2="183.72" stroke="#1c1c1c" stroke-width="0.9"/>
<line x1="310.40" y1="183.50" x2="314.40" y2="183.50" stroke="#1c1c1c" stroke-width="0.9"/>
<rect x="308.30" y="198.23" width="8.20" height="86.77" fill="#b0002d"/>
<line x1="294.50" y1="285.00" x2="294.50" y2="287.60" stroke="#1c1c1c" stroke-width="0.8"/>
<text x="294.25" y="297.10" font-size="7.8" text-anchor="middle" textLength="13.80" lengthAdjust="spacingAndGlyphs" fill="#111">Kras</text>
<line x1="332.50" y1="257.05" x2="332.50" y2="255.98" stroke="#1c1c1c" stroke-width="0.9"/>
<line x1="330.80" y1="255.50" x2="334.80" y2="255.50" stroke="#1c1c1c" stroke-width="0.9"/>
<rect x="328.70" y="256.55" width="8.20" height="28.45" fill="#3c7458"/>
<line x1="344.50" y1="257.05" x2="344.50" y2="255.98" stroke="#1c1c1c" stroke-width="0.9"/>
<line x1="342.90" y1="255.50" x2="346.90" y2="255.50" stroke="#1c1c1c" stroke-width="0.9"/>
<rect x="340.80" y="256.55" width="8.20" height="28.45" fill="#2a4b87"/>
<line x1="357.50" y1="217.50" x2="357.50" y2="203.63" stroke="#1c1c1c" stroke-width="0.9"/>
<line x1="355.00" y1="203.50" x2="359.00" y2="203.50" stroke="#1c1c1c" stroke-width="0.9"/>
<rect x="352.90" y="217.00" width="8.20" height="68.00" fill="#55266a"/>
<line x1="369.50" y1="255.63" x2="369.50" y2="249.44" stroke="#1c1c1c" stroke-width="0.9"/>
<line x1="367.10" y1="249.50" x2="371.10" y2="249.50" stroke="#1c1c1c" stroke-width="0.9"/>
<rect x="365.00" y="255.13" width="8.20" height="29.87" fill="#b0002d"/>
<line x1="350.50" y1="285.00" x2="350.50" y2="287.60" stroke="#1c1c1c" stroke-width="0.8"/>
<text x="350.95" y="297.10" font-size="7.8" text-anchor="middle" textLength="14.60" lengthAdjust="spacingAndGlyphs" fill="#111">Nras</text>
<line x1="389.50" y1="257.05" x2="389.50" y2="252.57" stroke="#1c1c1c" stroke-width="0.9"/>
<line x1="387.60" y1="252.50" x2="391.60" y2="252.50" stroke="#1c1c1c" stroke-width="0.9"/>
<rect x="385.50" y="256.55" width="8.20" height="28.45" fill="#3c7458"/>
<line x1="401.50" y1="255.63" x2="401.50" y2="253.14" stroke="#1c1c1c" stroke-width="0.9"/>
<line x1="399.70" y1="253.50" x2="403.70" y2="253.50" stroke="#1c1c1c" stroke-width="0.9"/>
<rect x="397.60" y="255.13" width="8.20" height="29.87" fill="#2a4b87"/>
<line x1="413.50" y1="237.42" x2="413.50" y2="229.52" stroke="#1c1c1c" stroke-width="0.9"/>
<line x1="411.80" y1="229.50" x2="415.80" y2="229.50" stroke="#1c1c1c" stroke-width="0.9"/>
<rect x="409.70" y="236.92" width="8.20" height="48.08" fill="#55266a"/>
<line x1="425.50" y1="256.77" x2="425.50" y2="250.01" stroke="#1c1c1c" stroke-width="0.9"/>
<line x1="423.90" y1="250.50" x2="427.90" y2="250.50" stroke="#1c1c1c" stroke-width="0.9"/>
<rect x="421.80" y="256.27" width="8.20" height="28.73" fill="#b0002d"/>
<line x1="407.50" y1="285.00" x2="407.50" y2="287.60" stroke="#1c1c1c" stroke-width="0.8"/>
<text x="407.75" y="297.10" font-size="7.8" text-anchor="middle" textLength="14.60" lengthAdjust="spacingAndGlyphs" fill="#111">Hras</text>
<polyline points="279.50,246.50 279.50,171.50 305.50,171.50 305.50,178.50" fill="none" stroke="#1c1c1c" stroke-width="1.0"/>
<line x1="275.00" y1="246.50" x2="284.50" y2="246.50" stroke="#1c1c1c" stroke-width="1.0"/>
<line x1="300.00" y1="178.50" x2="310.80" y2="178.50" stroke="#1c1c1c" stroke-width="1.0"/>
<text x="291.30" y="171.60" font-size="6.4" text-anchor="middle" textLength="8.80" lengthAdjust="spacingAndGlyphs" fill="#111">***</text>
<polyline points="338.50,251.50 338.50,198.50 369.50,198.50 369.50,243.50" fill="none" stroke="#1c1c1c" stroke-width="1.0"/>
<line x1="332.50" y1="251.50" x2="345.00" y2="251.50" stroke="#1c1c1c" stroke-width="1.0"/>
<line x1="357.50" y1="198.30" x2="357.50" y2="202.00" stroke="#1c1c1c" stroke-width="1.0"/>
<text x="344.50" y="198.40" font-size="6.4" text-anchor="middle" textLength="2.80" lengthAdjust="spacingAndGlyphs" fill="#111">*</text>
<text x="360.80" y="198.40" font-size="6.4" text-anchor="middle" textLength="2.80" lengthAdjust="spacingAndGlyphs" fill="#111">*</text>
<polyline points="395.50,246.50 395.50,216.50 426.50,216.50 426.50,238.50" fill="none" stroke="#1c1c1c" stroke-width="1.0"/>
<line x1="388.80" y1="246.50" x2="402.50" y2="246.50" stroke="#1c1c1c" stroke-width="1.0"/>
<line x1="413.50" y1="216.30" x2="413.50" y2="222.50" stroke="#1c1c1c" stroke-width="1.0"/>
<text x="403.80" y="216.80" font-size="6.4" text-anchor="middle" textLength="2.80" lengthAdjust="spacingAndGlyphs" fill="#111">*</text>
<text x="418.00" y="216.80" font-size="6.4" text-anchor="middle" textLength="2.80" lengthAdjust="spacingAndGlyphs" fill="#111">*</text>
<rect x="406.30" y="168.40" width="8.80" height="4.40" fill="#3c7458"/>
<text x="418.00" y="173.10" font-size="7.8" text-anchor="start" textLength="22.80" lengthAdjust="spacingAndGlyphs" fill="#111" style="stroke-width:0.15px">C (n=7)</text>
<rect x="406.30" y="177.25" width="8.80" height="4.40" fill="#2a4b87"/>
<text x="418.00" y="181.95" font-size="7.8" text-anchor="start" textLength="39.50" lengthAdjust="spacingAndGlyphs" fill="#111" style="stroke-width:0.15px">Sos1-/- (n=3)</text>
<rect x="406.30" y="186.10" width="8.80" height="4.40" fill="#55266a"/>
<text x="418.00" y="190.80" font-size="7.8" text-anchor="start" textLength="31.00" lengthAdjust="spacingAndGlyphs" fill="#111" style="stroke-width:0.15px">Kras (n=4)</text>
<rect x="406.30" y="194.95" width="8.80" height="4.40" fill="#b0002d"/>
<text x="418.00" y="199.65" font-size="7.8" text-anchor="start" textLength="54.60" lengthAdjust="spacingAndGlyphs" fill="#111" style="stroke-width:0.15px">Kras;Sos1-/- (n=4)</text>
<line x1="266.50" y1="316.20" x2="266.50" y2="431.20" stroke="#1c1c1c" stroke-width="0.9"/>
<line x1="264.10" y1="430.50" x2="266.30" y2="430.50" stroke="#1c1c1c" stroke-width="0.8"/>
<text x="260.60" y="433.78" font-size="8.4" text-anchor="end" textLength="10.51" lengthAdjust="spacingAndGlyphs" fill="#111">0.0</text>
<line x1="264.10" y1="402.50" x2="266.30" y2="402.50" stroke="#1c1c1c" stroke-width="0.8"/>
<text x="260.60" y="405.78" font-size="8.4" text-anchor="end" textLength="10.51" lengthAdjust="spacingAndGlyphs" fill="#111">0.5</text>
<line x1="264.10" y1="374.50" x2="266.30" y2="374.50" stroke="#1c1c1c" stroke-width="0.8"/>
<text x="260.60" y="377.78" font-size="8.4" text-anchor="end" textLength="10.51" lengthAdjust="spacingAndGlyphs" fill="#111">1.0</text>
<line x1="264.10" y1="346.50" x2="266.30" y2="346.50" stroke="#1c1c1c" stroke-width="0.8"/>
<text x="260.60" y="349.78" font-size="8.4" text-anchor="end" textLength="10.51" lengthAdjust="spacingAndGlyphs" fill="#111">1.5</text>
<line x1="264.10" y1="318.50" x2="266.30" y2="318.50" stroke="#1c1c1c" stroke-width="0.8"/>
<text x="260.60" y="321.78" font-size="8.4" text-anchor="end" textLength="10.51" lengthAdjust="spacingAndGlyphs" fill="#111">2.0</text>
<line x1="265.90" y1="430.50" x2="434.30" y2="430.50" stroke="#1c1c1c" stroke-width="0.9"/>
<text x="243.30" y="428.40" font-size="8.8" text-anchor="start" textLength="30.30" lengthAdjust="spacingAndGlyphs" fill="#111" transform="rotate(-90 243.30 428.40)">Relative</text>
<text x="243.30" y="396.20" font-size="8.8" text-anchor="start" textLength="13.20" lengthAdjust="spacingAndGlyphs" fill="#111" transform="rotate(-90 243.30 396.20)">Ras</text>
<text x="243.30" y="380.50" font-size="8.8" text-anchor="start" textLength="17.40" lengthAdjust="spacingAndGlyphs" fill="#111" transform="rotate(-90 243.30 380.50)">level</text>
<text x="243.30" y="360.80" font-size="8.8" text-anchor="start" textLength="43.50" lengthAdjust="spacingAndGlyphs" fill="#111" transform="rotate(-90 243.30 360.80)">(Ras/actin)</text>
<line x1="276.50" y1="375.86" x2="276.50" y2="374.80" stroke="#1c1c1c" stroke-width="0.9"/>
<line x1="274.05" y1="374.50" x2="278.05" y2="374.50" stroke="#1c1c1c" stroke-width="0.9"/>
<rect x="272.00" y="375.36" width="8.10" height="55.44" fill="#3c7458"/>
<line x1="288.50" y1="373.62" x2="288.50" y2="369.76" stroke="#1c1c1c" stroke-width="0.9"/>
<line x1="286.05" y1="369.50" x2="290.05" y2="369.50" stroke="#1c1c1c" stroke-width="0.9"/>
<rect x="284.00" y="373.12" width="8.10" height="57.68" fill="#2a4b87"/>
<line x1="300.50" y1="368.58" x2="300.50" y2="346.80" stroke="#1c1c1c" stroke-width="0.9"/>
<line x1="298.05" y1="346.50" x2="302.05" y2="346.50" stroke="#1c1c1c" stroke-width="0.9"/>
<rect x="296.00" y="368.08" width="8.10" height="62.72" fill="#55266a"/>
<line x1="312.50" y1="365.78" x2="312.50" y2="345.40" stroke="#1c1c1c" stroke-width="0.9"/>
<line x1="310.05" y1="345.50" x2="314.05" y2="345.50" stroke="#1c1c1c" stroke-width="0.9"/>
<rect x="308.00" y="365.28" width="8.10" height="65.52" fill="#b0002d"/>
<line x1="294.50" y1="430.80" x2="294.50" y2="433.40" stroke="#1c1c1c" stroke-width="0.8"/>
<text x="294.10" y="444.00" font-size="7.8" text-anchor="middle" textLength="13.80" lengthAdjust="spacingAndGlyphs" fill="#111">Kras</text>
<line x1="332.50" y1="375.86" x2="332.50" y2="374.80" stroke="#1c1c1c" stroke-width="0.9"/>
<line x1="330.25" y1="374.50" x2="334.25" y2="374.50" stroke="#1c1c1c" stroke-width="0.9"/>
<rect x="328.20" y="375.36" width="8.10" height="55.44" fill="#3c7458"/>
<line x1="344.50" y1="371.94" x2="344.50" y2="364.72" stroke="#1c1c1c" stroke-width="0.9"/>
<line x1="342.25" y1="364.50" x2="346.25" y2="364.50" stroke="#1c1c1c" stroke-width="0.9"/>
<rect x="340.20" y="371.44" width="8.10" height="59.36" fill="#2a4b87"/>
<line x1="356.50" y1="357.94" x2="356.50" y2="336.72" stroke="#1c1c1c" stroke-width="0.9"/>
<line x1="354.25" y1="336.50" x2="358.25" y2="336.50" stroke="#1c1c1c" stroke-width="0.9"/>
<rect x="352.20" y="357.44" width="8.10" height="73.36" fill="#55266a"/>
<line x1="368.50" y1="362.42" x2="368.50" y2="346.24" stroke="#1c1c1c" stroke-width="0.9"/>
<line x1="366.25" y1="346.50" x2="370.25" y2="346.50" stroke="#1c1c1c" stroke-width="0.9"/>
<rect x="364.20" y="361.92" width="8.10" height="68.88" fill="#b0002d"/>
<line x1="350.50" y1="430.80" x2="350.50" y2="433.40" stroke="#1c1c1c" stroke-width="0.8"/>
<text x="350.30" y="444.00" font-size="7.8" text-anchor="middle" textLength="14.60" lengthAdjust="spacingAndGlyphs" fill="#111">Nras</text>
<line x1="388.50" y1="375.58" x2="388.50" y2="364.44" stroke="#1c1c1c" stroke-width="0.9"/>
<line x1="386.25" y1="364.50" x2="390.25" y2="364.50" stroke="#1c1c1c" stroke-width="0.9"/>
<rect x="384.20" y="375.08" width="8.10" height="55.72" fill="#3c7458"/>
<line x1="400.50" y1="371.94" x2="400.50" y2="364.44" stroke="#1c1c1c" stroke-width="0.9"/>
<line x1="398.25" y1="364.50" x2="402.25" y2="364.50" stroke="#1c1c1c" stroke-width="0.9"/>
<rect x="396.20" y="371.44" width="8.10" height="59.36" fill="#2a4b87"/>
<line x1="412.50" y1="356.26" x2="412.50" y2="344.56" stroke="#1c1c1c" stroke-width="0.9"/>
<line x1="410.25" y1="344.50" x2="414.25" y2="344.50" stroke="#1c1c1c" stroke-width="0.9"/>
<rect x="408.20" y="355.76" width="8.10" height="75.04" fill="#55266a"/>
<line x1="424.50" y1="351.78" x2="424.50" y2="333.36" stroke="#1c1c1c" stroke-width="0.9"/>
<line x1="422.25" y1="333.50" x2="426.25" y2="333.50" stroke="#1c1c1c" stroke-width="0.9"/>
<rect x="420.20" y="351.28" width="8.10" height="79.52" fill="#b0002d"/>
<line x1="406.50" y1="430.80" x2="406.50" y2="433.40" stroke="#1c1c1c" stroke-width="0.8"/>
<text x="406.30" y="444.00" font-size="7.8" text-anchor="middle" textLength="14.60" lengthAdjust="spacingAndGlyphs" fill="#111">Hras</text>
<text x="12.20" y="471.20" font-size="11.2" text-anchor="start" textLength="5.40" lengthAdjust="spacingAndGlyphs" fill="#111" style="stroke-width:0.45px">E</text>
<rect x="48.70" y="466.20" width="8.10" height="3.60" fill="#3c7458"/>
<text x="59.30" y="470.50" font-size="7.4" text-anchor="start" textLength="22.60" lengthAdjust="spacingAndGlyphs" fill="#111" style="stroke-width:0.15px">C (n=6)</text>
<rect x="48.70" y="473.83" width="8.10" height="3.60" fill="#2a4b87"/>
<text x="59.30" y="478.13" font-size="7.4" text-anchor="start" textLength="39.60" lengthAdjust="spacingAndGlyphs" fill="#111" style="stroke-width:0.15px">Sos1-/- (n=4)</text>
<rect x="48.70" y="481.46" width="8.10" height="3.60" fill="#55266a"/>
<text x="59.30" y="485.76" font-size="7.4" text-anchor="start" textLength="31.00" lengthAdjust="spacingAndGlyphs" fill="#111" style="stroke-width:0.15px">Kras (n=5)</text>
<rect x="48.70" y="489.09" width="8.10" height="3.60" fill="#b0002d"/>
<text x="59.30" y="493.39" font-size="7.4" text-anchor="start" textLength="54.60" lengthAdjust="spacingAndGlyphs" fill="#111" style="stroke-width:0.15px">Kras;Sos1-/- (n=5)</text>
<rect x="48.70" y="500.90" width="8.10" height="3.60" fill="#3a6b52"/>
<text x="59.30" y="505.20" font-size="7.4" text-anchor="start" textLength="22.60" lengthAdjust="spacingAndGlyphs" fill="#111" style="stroke-width:0.15px">C (n=3)</text>
<rect x="48.70" y="509.05" width="8.10" height="3.60" fill="#6aaa45"/>
<text x="59.30" y="513.35" font-size="7.4" text-anchor="start" textLength="31.40" lengthAdjust="spacingAndGlyphs" fill="#111" style="stroke-width:0.15px">Nras (n=3)</text>
<rect x="48.70" y="517.20" width="8.10" height="3.60" fill="#e08f1a"/>
<text x="59.30" y="521.50" font-size="7.4" text-anchor="start" textLength="55.00" lengthAdjust="spacingAndGlyphs" fill="#111" style="stroke-width:0.15px">Nras;Sos1-/- (n=3)</text>
<svg x="37" y="538.4" width="78" height="76.60000000000002" viewBox="37 538.4 78 76.60000000000002">
<ellipse cx="66" cy="613" rx="12" ry="13" fill="#3344aa" opacity="0.6" filter="url(#bl3)"/>
<ellipse cx="72" cy="610" rx="12" ry="14" fill="#3040a6" opacity="0.5" filter="url(#bl3)"/>
<rect x="68" y="588" width="24.5" height="45" rx="12.25" fill="#2c3ea4" opacity="0.74" filter="url(#bl3)"/>
<rect x="93.5" y="589" width="13.299999999999997" height="45" rx="6.649999999999999" fill="#2c3ea4" opacity="0.72" filter="url(#bl3)"/>
<ellipse cx="80" cy="574" rx="5.2" ry="9.5" fill="#4456bc" opacity="0.42" filter="url(#bl3)"/>
<ellipse cx="80.5" cy="586" rx="4.5" ry="7" fill="#4456bc" opacity="0.35" filter="url(#bl3)"/>
<rect x="74" y="591" width="14" height="45" rx="7.0" fill="#2c8cb0" opacity="0.9" filter="url(#bl4)"/>
<rect x="95.8" y="592" width="9.200000000000003" height="45" rx="4.600000000000001" fill="#2c8cb0" opacity="0.88" filter="url(#bl4)"/>
<rect x="76.3" y="593.5" width="9.400000000000006" height="45" rx="4.700000000000003" fill="#4cb868" opacity="0.95" filter="url(#bl4)"/>
<rect x="97.6" y="595" width="5.400000000000006" height="45" rx="2.700000000000003" fill="#4cb868" opacity="0.92" filter="url(#bl4)"/>
<rect x="79" y="596.5" width="4" height="45" rx="2.0" fill="#d2dc3c" opacity="0.95" filter="url(#bl4)"/>
<rect x="99.2" y="598" width="2.200000000000003" height="45" rx="1.1000000000000014" fill="#9ad44c" opacity="0.85" filter="url(#bl4)"/>
<rect x="78.5" y="578.3" width="0.5" height="0.5" fill="#3848b0" opacity="0.75"/><rect x="78.6" y="572.1" width="0.5" height="0.5" fill="#3848b0" opacity="0.75"/><rect x="75.8" y="572.9" width="0.5" height="0.5" fill="#3848b0" opacity="0.75"/><rect x="83.9" y="577.7" width="0.5" height="0.5" fill="#3848b0" opacity="0.75"/><rect x="83.6" y="576.4" width="0.5" height="0.5" fill="#3848b0" opacity="0.75"/><rect x="81.1" y="575.9" width="0.5" height="0.5" fill="#3848b0" opacity="0.75"/><rect x="72.8" y="580.9" width="0.5" height="0.5" fill="#3848b0" opacity="0.75"/><rect x="81.5" y="578.2" width="0.5" height="0.5" fill="#3848b0" opacity="0.75"/><rect x="72.7" y="561.4" width="0.5" height="0.5" fill="#3848b0" opacity="0.75"/><rect x="75.9" y="571.0" width="0.5" height="0.5" fill="#3848b0" opacity="0.75"/><rect x="80.7" y="574.2" width="0.5" height="0.5" fill="#3848b0" opacity="0.75"/><rect x="81.6" y="569.7" width="0.5" height="0.5" fill="#3848b0" opacity="0.75"/><rect x="80.7" y="577.5" width="0.5" height="0.5" fill="#3848b0" opacity="0.75"/><rect x="76.9" y="587.4" width="0.5" height="0.5" fill="#3848b0" opacity="0.75"/><rect x="81.7" y="583.5" width="0.5" height="0.5" fill="#3848b0" opacity="0.75"/><rect x="77.0" y="569.0" width="0.5" height="0.5" fill="#3848b0" opacity="0.75"/><rect x="78.1" y="573.7" width="0.5" height="0.5" fill="#3848b0" opacity="0.75"/><rect x="82.0" y="576.4" width="0.5" height="0.5" fill="#3848b0" opacity="0.75"/><rect x="77.7" y="567.3" width="0.5" height="0.5" fill="#3848b0" opacity="0.75"/><rect x="77.4" y="583.7" width="0.5" height="0.5" fill="#3848b0" opacity="0.75"/><rect x="76.3" y="576.3" width="0.5" height="0.5" fill="#3848b0" opacity="0.75"/><rect x="81.2" y="563.3" width="0.5" height="0.5" fill="#3848b0" opacity="0.75"/><rect x="79.7" y="584.3" width="0.5" height="0.5" fill="#3848b0" opacity="0.75"/><rect x="71.4" y="572.1" width="0.5" height="0.5" fill="#3848b0" opacity="0.75"/><rect x="79.1" y="568.4" width="0.5" height="0.5" fill="#3848b0" opacity="0.75"/><rect x="81.5" y="574.0" width="0.5" height="0.5" fill="#3848b0" opacity="0.75"/><rect x="73.6" y="580.7" width="0.5" height="0.5" fill="#3848b0" opacity="0.75"/><rect x="82.2" y="581.6" width="0.5" height="0.5" fill="#3848b0" opacity="0.75"/><rect x="85.3" y="577.2" width="0.5" height="0.5" fill="#3848b0" opacity="0.75"/><rect x="80.0" y="564.8" width="0.5" height="0.5" fill="#3848b0" opacity="0.75"/><rect x="82.0" y="569.9" width="0.5" height="0.5" fill="#3848b0" opacity="0.75"/><rect x="77.7" y="565.0" width="0.5" height="0.5" fill="#3848b0" opacity="0.75"/><rect x="75.6" y="570.5" width="0.5" height="0.5" fill="#3848b0" opacity="0.75"/><rect x="84.7" y="559.3" width="0.5" height="0.5" fill="#3848b0" opacity="0.75"/><rect x="73.7" y="576.3" width="0.5" height="0.5" fill="#3848b0" opacity="0.75"/><rect x="85.3" y="578.8" width="0.5" height="0.5" fill="#3848b0" opacity="0.75"/><rect x="71.9" y="555.6" width="0.5" height="0.5" fill="#3848b0" opacity="0.75"/><rect x="80.9" y="569.0" width="0.5" height="0.5" fill="#3848b0" opacity="0.75"/><rect x="75.0" y="581.8" width="0.5" height="0.5" fill="#3848b0" opacity="0.75"/><rect x="83.9" y="575.7" width="0.5" height="0.5" fill="#3848b0" opacity="0.75"/><rect x="80.5" y="577.8" width="0.5" height="0.5" fill="#3848b0" opacity="0.75"/><rect x="85.9" y="579.1" width="0.5" height="0.5" fill="#3848b0" opacity="0.75"/><rect x="81.6" y="578.6" width="0.5" height="0.5" fill="#3848b0" opacity="0.75"/><rect x="73.2" y="584.1" width="0.5" height="0.5" fill="#3848b0" opacity="0.75"/><rect x="83.3" y="578.5" width="0.5" height="0.5" fill="#3848b0" opacity="0.75"/><rect x="71.6" y="569.7" width="0.5" height="0.5" fill="#3848b0" opacity="0.75"/><rect x="82.9" y="560.9" width="0.5" height="0.5" fill="#3848b0" opacity="0.75"/><rect x="78.8" y="582.1" width="0.5" height="0.5" fill="#3848b0" opacity="0.75"/><rect x="74.3" y="586.6" width="0.5" height="0.5" fill="#3848b0" opacity="0.75"/><rect x="81.7" y="573.4" width="0.5" height="0.5" fill="#3848b0" opacity="0.75"/><rect x="80.8" y="579.4" width="0.5" height="0.5" fill="#3848b0" opacity="0.75"/><rect x="80.0" y="583.1" width="0.5" height="0.5" fill="#3848b0" opacity="0.75"/><rect x="76.9" y="571.4" width="0.5" height="0.5" fill="#3848b0" opacity="0.75"/><rect x="83.7" y="574.7" width="0.5" height="0.5" fill="#3848b0" opacity="0.75"/><rect x="76.0" y="581.6" width="0.5" height="0.5" fill="#3848b0" opacity="0.75"/><rect x="85.4" y="571.2" width="0.5" height="0.5" fill="#3848b0" opacity="0.75"/><rect x="74.0" y="573.5" width="0.5" height="0.5" fill="#3848b0" opacity="0.75"/><rect x="78.9" y="572.3" width="0.5" height="0.5" fill="#3848b0" opacity="0.75"/><rect x="85.1" y="566.8" width="0.5" height="0.5" fill="#3848b0" opacity="0.75"/><rect x="84.5" y="565.0" width="0.5" height="0.5" fill="#3848b0" opacity="0.75"/><rect x="76.4" y="579.2" width="0.5" height="0.5" fill="#3848b0" opacity="0.75"/><rect x="84.0" y="580.9" width="0.5" height="0.5" fill="#3848b0" opacity="0.75"/><rect x="80.9" y="575.6" width="0.5" height="0.5" fill="#3848b0" opacity="0.75"/><rect x="80.1" y="578.8" width="0.5" height="0.5" fill="#3848b0" opacity="0.75"/><rect x="78.8" y="576.6" width="0.5" height="0.5" fill="#3848b0" opacity="0.75"/><rect x="81.8" y="574.5" width="0.5" height="0.5" fill="#3848b0" opacity="0.75"/><rect x="82.6" y="578.7" width="0.5" height="0.5" fill="#3848b0" opacity="0.75"/><rect x="87.5" y="576.9" width="0.5" height="0.5" fill="#3848b0" opacity="0.75"/><rect x="77.8" y="571.7" width="0.5" height="0.5" fill="#3848b0" opacity="0.75"/><rect x="79.4" y="581.4" width="0.5" height="0.5" fill="#3848b0" opacity="0.75"/><rect x="78.2" y="577.4" width="0.5" height="0.5" fill="#3848b0" opacity="0.75"/><rect x="86.8" y="555.3" width="0.5" height="0.5" fill="#3848b0" opacity="0.75"/><rect x="75.0" y="576.3" width="0.5" height="0.5" fill="#3848b0" opacity="0.75"/><rect x="81.1" y="576.3" width="0.5" height="0.5" fill="#3848b0" opacity="0.75"/><rect x="77.8" y="579.4" width="0.5" height="0.5" fill="#3848b0" opacity="0.75"/><rect x="80.6" y="570.6" width="0.5" height="0.5" fill="#3848b0" opacity="0.75"/><rect x="89.2" y="577.2" width="0.5" height="0.5" fill="#3848b0" opacity="0.75"/><rect x="77.3" y="573.8" width="0.5" height="0.5" fill="#3848b0" opacity="0.75"/><rect x="78.6" y="574.0" width="0.5" height="0.5" fill="#3848b0" opacity="0.75"/><rect x="68.6" y="570.8" width="0.5" height="0.5" fill="#3848b0" opacity="0.75"/><rect x="83.5" y="565.7" width="0.5" height="0.5" fill="#3848b0" opacity="0.75"/><rect x="79.2" y="581.7" width="0.5" height="0.5" fill="#3848b0" opacity="0.75"/><rect x="82.9" y="585.7" width="0.5" height="0.5" fill="#3848b0" opacity="0.75"/><rect x="72.7" y="571.8" width="0.5" height="0.5" fill="#3848b0" opacity="0.75"/><rect x="78.1" y="579.2" width="0.5" height="0.5" fill="#3848b0" opacity="0.75"/><rect x="83.9" y="554.4" width="0.5" height="0.5" fill="#3848b0" opacity="0.75"/><rect x="83.9" y="563.6" width="0.5" height="0.5" fill="#3848b0" opacity="0.75"/><rect x="82.2" y="563.3" width="0.5" height="0.5" fill="#3848b0" opacity="0.75"/><rect x="80.2" y="583.5" width="0.5" height="0.5" fill="#3848b0" opacity="0.75"/><rect x="78.9" y="575.9" width="0.5" height="0.5" fill="#3848b0" opacity="0.75"/><rect x="82.7" y="575.6" width="0.5" height="0.5" fill="#3848b0" opacity="0.75"/><rect x="79.1" y="586.0" width="0.5" height="0.5" fill="#3848b0" opacity="0.75"/><rect x="83.7" y="572.3" width="0.5" height="0.5" fill="#3848b0" opacity="0.75"/><rect x="90.5" y="565.9" width="0.5" height="0.5" fill="#3848b0" opacity="0.75"/><rect x="83.2" y="572.5" width="0.5" height="0.5" fill="#3848b0" opacity="0.75"/><rect x="80.0" y="579.8" width="0.5" height="0.5" fill="#3848b0" opacity="0.75"/><rect x="80.4" y="579.3" width="0.5" height="0.5" fill="#3848b0" opacity="0.75"/><rect x="73.4" y="563.2" width="0.5" height="0.5" fill="#3848b0" opacity="0.75"/><rect x="82.0" y="567.3" width="0.5" height="0.5" fill="#3848b0" opacity="0.75"/><rect x="75.4" y="563.5" width="0.5" height="0.5" fill="#3848b0" opacity="0.75"/><rect x="84.6" y="580.1" width="0.5" height="0.5" fill="#3848b0" opacity="0.75"/><rect x="85.4" y="567.5" width="0.5" height="0.5" fill="#3848b0" opacity="0.75"/><rect x="79.5" y="565.9" width="0.5" height="0.5" fill="#3848b0" opacity="0.75"/><rect x="82.6" y="586.4" width="0.5" height="0.5" fill="#3848b0" opacity="0.75"/><rect x="75.9" y="586.2" width="0.5" height="0.5" fill="#3848b0" opacity="0.75"/><rect x="83.5" y="573.2" width="0.5" height="0.5" fill="#3848b0" opacity="0.75"/><rect x="71.6" y="585.0" width="0.5" height="0.5" fill="#3848b0" opacity="0.75"/><rect x="79.1" y="570.0" width="0.5" height="0.5" fill="#3848b0" opacity="0.75"/><rect x="81.1" y="577.6" width="0.5" height="0.5" fill="#3848b0" opacity="0.75"/><rect x="85.5" y="566.8" width="0.5" height="0.5" fill="#3848b0" opacity="0.75"/><rect x="84.0" y="585.7" width="0.5" height="0.5" fill="#3848b0" opacity="0.75"/><rect x="85.3" y="573.1" width="0.5" height="0.5" fill="#3848b0" opacity="0.75"/><rect x="76.5" y="582.1" width="0.5" height="0.5" fill="#3848b0" opacity="0.75"/><rect x="80.0" y="575.4" width="0.5" height="0.5" fill="#3848b0" opacity="0.75"/><rect x="85.2" y="572.5" width="0.5" height="0.5" fill="#3848b0" opacity="0.75"/><rect x="70.3" y="571.6" width="0.5" height="0.5" fill="#3848b0" opacity="0.75"/><rect x="72.1" y="580.6" width="0.5" height="0.5" fill="#3848b0" opacity="0.75"/><rect x="80.8" y="569.9" width="0.5" height="0.5" fill="#3848b0" opacity="0.75"/><rect x="79.5" y="580.7" width="0.5" height="0.5" fill="#3848b0" opacity="0.75"/><rect x="79.8" y="584.4" width="0.5" height="0.5" fill="#3848b0" opacity="0.75"/><rect x="79.3" y="582.3" width="0.5" height="0.5" fill="#3848b0" opacity="0.75"/><rect x="85.5" y="586.6" width="0.5" height="0.5" fill="#3848b0" opacity="0.75"/><rect x="76.8" y="581.1" width="0.5" height="0.5" fill="#3848b0" opacity="0.75"/><rect x="72.0" y="566.4" width="0.5" height="0.5" fill="#3848b0" opacity="0.75"/><rect x="71.6" y="582.5" width="0.5" height="0.5" fill="#3848b0" opacity="0.75"/><rect x="74.6" y="574.4" width="0.5" height="0.5" fill="#3848b0" opacity="0.75"/><rect x="78.7" y="574.3" width="0.5" height="0.5" fill="#3848b0" opacity="0.75"/><rect x="77.1" y="576.3" width="0.5" height="0.5" fill="#3848b0" opacity="0.75"/><rect x="86.7" y="574.8" width="0.5" height="0.5" fill="#3848b0" opacity="0.75"/><rect x="81.6" y="582.0" width="0.5" height="0.5" fill="#3848b0" opacity="0.75"/><rect x="78.7" y="565.1" width="0.5" height="0.5" fill="#3848b0" opacity="0.75"/><rect x="77.3" y="582.6" width="0.5" height="0.5" fill="#3848b0" opacity="0.75"/><rect x="72.9" y="570.0" width="0.5" height="0.5" fill="#3848b0" opacity="0.75"/><rect x="83.5" y="580.4" width="0.5" height="0.5" fill="#3848b0" opacity="0.75"/><rect x="79.5" y="580.5" width="0.5" height="0.5" fill="#3848b0" opacity="0.75"/><rect x="80.2" y="565.7" width="0.5" height="0.5" fill="#3848b0" opacity="0.75"/><rect x="73.2" y="569.7" width="0.5" height="0.5" fill="#3848b0" opacity="0.75"/><rect x="83.2" y="570.3" width="0.5" height="0.5" fill="#3848b0" opacity="0.75"/><rect x="75.9" y="568.7" width="0.5" height="0.5" fill="#3848b0" opacity="0.75"/><rect x="73.4" y="573.6" width="0.5" height="0.5" fill="#3848b0" opacity="0.75"/><rect x="74.8" y="577.2" width="0.5" height="0.5" fill="#3848b0" opacity="0.75"/><rect x="70.1" y="577.0" width="0.5" height="0.5" fill="#3848b0" opacity="0.75"/><rect x="76.9" y="559.9" width="0.5" height="0.5" fill="#3848b0" opacity="0.75"/><rect x="82.4" y="572.4" width="0.5" height="0.5" fill="#3848b0" opacity="0.75"/><rect x="70.6" y="567.9" width="0.5" height="0.5" fill="#3848b0" opacity="0.75"/><rect x="80.7" y="571.1" width="0.5" height="0.5" fill="#3848b0" opacity="0.75"/><rect x="82.6" y="580.1" width="0.5" height="0.5" fill="#3848b0" opacity="0.75"/><rect x="82.2" y="576.9" width="0.5" height="0.5" fill="#3848b0" opacity="0.75"/><rect x="84.8" y="579.4" width="0.5" height="0.5" fill="#3848b0" opacity="0.75"/><rect x="81.3" y="558.9" width="0.5" height="0.5" fill="#3848b0" opacity="0.75"/><rect x="83.1" y="584.3" width="0.5" height="0.5" fill="#3848b0" opacity="0.75"/><rect x="78.3" y="571.0" width="0.5" height="0.5" fill="#3848b0" opacity="0.75"/><rect x="87.3" y="561.3" width="0.5" height="0.5" fill="#3848b0" opacity="0.75"/><rect x="81.4" y="592.7" width="0.5" height="0.5" fill="#3848b0" opacity="0.75"/><rect x="75.8" y="579.7" width="0.5" height="0.5" fill="#3848b0" opacity="0.75"/><rect x="87.0" y="573.6" width="0.5" height="0.5" fill="#3848b0" opacity="0.75"/><rect x="81.7" y="581.3" width="0.5" height="0.5" fill="#3848b0" opacity="0.75"/><rect x="75.9" y="573.8" width="0.5" height="0.5" fill="#3848b0" opacity="0.75"/><rect x="80.7" y="580.7" width="0.5" height="0.5" fill="#3848b0" opacity="0.75"/><rect x="79.4" y="573.0" width="0.5" height="0.5" fill="#3848b0" opacity="0.75"/><rect x="75.4" y="571.8" width="0.5" height="0.5" fill="#3848b0" opacity="0.75"/><rect x="83.1" y="575.3" width="0.5" height="0.5" fill="#3848b0" opacity="0.75"/><rect x="76.1" y="568.2" width="0.5" height="0.5" fill="#3848b0" opacity="0.75"/><rect x="90.2" y="583.0" width="0.5" height="0.5" fill="#3848b0" opacity="0.75"/><rect x="82.0" y="555.1" width="0.5" height="0.5" fill="#3848b0" opacity="0.75"/><rect x="82.0" y="578.1" width="0.5" height="0.5" fill="#3848b0" opacity="0.75"/><rect x="86.2" y="577.7" width="0.5" height="0.5" fill="#3848b0" opacity="0.75"/><rect x="79.2" y="578.4" width="0.5" height="0.5" fill="#3848b0" opacity="0.75"/><rect x="71.7" y="582.2" width="0.5" height="0.5" fill="#3848b0" opacity="0.75"/><rect x="80.8" y="569.2" width="0.5" height="0.5" fill="#3848b0" opacity="0.75"/><rect x="84.8" y="588.1" width="0.5" height="0.5" fill="#3848b0" opacity="0.75"/><rect x="73.9" y="569.5" width="0.5" height="0.5" fill="#3848b0" opacity="0.75"/><rect x="80.7" y="575.9" width="0.5" height="0.5" fill="#3848b0" opacity="0.75"/><rect x="77.9" y="567.2" width="0.5" height="0.5" fill="#3848b0" opacity="0.75"/><rect x="88.0" y="582.3" width="0.5" height="0.5" fill="#3848b0" opacity="0.75"/><rect x="74.7" y="564.4" width="0.5" height="0.5" fill="#3848b0" opacity="0.75"/><rect x="86.3" y="581.9" width="0.5" height="0.5" fill="#3848b0" opacity="0.75"/><rect x="86.8" y="580.6" width="0.5" height="0.5" fill="#3848b0" opacity="0.75"/><rect x="76.0" y="576.5" width="0.5" height="0.5" fill="#3848b0" opacity="0.75"/><rect x="70.9" y="568.9" width="0.5" height="0.5" fill="#3848b0" opacity="0.75"/><rect x="79.3" y="578.4" width="0.5" height="0.5" fill="#3848b0" opacity="0.75"/><rect x="76.6" y="573.6" width="0.5" height="0.5" fill="#3848b0" opacity="0.75"/><rect x="81.3" y="577.3" width="0.5" height="0.5" fill="#3848b0" opacity="0.75"/><rect x="82.1" y="576.1" width="0.5" height="0.5" fill="#3848b0" opacity="0.75"/><rect x="78.2" y="580.4" width="0.5" height="0.5" fill="#3848b0" opacity="0.75"/><rect x="79.7" y="568.3" width="0.5" height="0.5" fill="#3848b0" opacity="0.75"/><rect x="77.0" y="574.5" width="0.5" height="0.5" fill="#3848b0" opacity="0.75"/><rect x="79.1" y="575.7" width="0.5" height="0.5" fill="#3848b0" opacity="0.75"/><rect x="79.5" y="575.8" width="0.5" height="0.5" fill="#3848b0" opacity="0.75"/><rect x="79.0" y="565.1" width="0.5" height="0.5" fill="#3848b0" opacity="0.75"/><rect x="81.2" y="582.4" width="0.5" height="0.5" fill="#3848b0" opacity="0.75"/><rect x="81.2" y="573.1" width="0.5" height="0.5" fill="#3848b0" opacity="0.75"/><rect x="81.3" y="567.3" width="0.5" height="0.5" fill="#3848b0" opacity="0.75"/><rect x="71.9" y="574.9" width="0.5" height="0.5" fill="#3848b0" opacity="0.75"/><rect x="75.8" y="580.0" width="0.5" height="0.5" fill="#3848b0" opacity="0.75"/><rect x="75.2" y="554.8" width="0.5" height="0.5" fill="#3848b0" opacity="0.75"/><rect x="75.3" y="586.3" width="0.5" height="0.5" fill="#3848b0" opacity="0.75"/><rect x="78.0" y="564.2" width="0.5" height="0.5" fill="#3848b0" opacity="0.75"/><rect x="76.4" y="578.4" width="0.5" height="0.5" fill="#3848b0" opacity="0.75"/><rect x="81.5" y="575.8" width="0.5" height="0.5" fill="#3848b0" opacity="0.75"/><rect x="85.4" y="579.8" width="0.5" height="0.5" fill="#3848b0" opacity="0.75"/><rect x="79.4" y="579.0" width="0.5" height="0.5" fill="#3848b0" opacity="0.75"/><rect x="86.1" y="581.8" width="0.5" height="0.5" fill="#3848b0" opacity="0.75"/><rect x="83.6" y="566.4" width="0.5" height="0.5" fill="#3848b0" opacity="0.75"/><rect x="78.9" y="580.0" width="0.5" height="0.5" fill="#3848b0" opacity="0.75"/><rect x="78.3" y="582.5" width="0.5" height="0.5" fill="#3848b0" opacity="0.75"/><rect x="81.9" y="581.3" width="0.5" height="0.5" fill="#3848b0" opacity="0.75"/><rect x="78.7" y="593.6" width="0.5" height="0.5" fill="#3848b0" opacity="0.75"/><rect x="84.5" y="572.9" width="0.5" height="0.5" fill="#3848b0" opacity="0.75"/><rect x="79.9" y="594.0" width="0.5" height="0.5" fill="#3848b0" opacity="0.75"/><rect x="78.1" y="581.1" width="0.5" height="0.5" fill="#3848b0" opacity="0.75"/><rect x="83.4" y="574.5" width="0.5" height="0.5" fill="#3848b0" opacity="0.75"/><rect x="74.8" y="575.9" width="0.5" height="0.5" fill="#3848b0" opacity="0.75"/><rect x="80.9" y="583.0" width="0.5" height="0.5" fill="#3848b0" opacity="0.75"/><rect x="82.6" y="574.7" width="0.5" height="0.5" fill="#3848b0" opacity="0.75"/><rect x="82.9" y="578.5" width="0.5" height="0.5" fill="#3848b0" opacity="0.75"/><rect x="80.3" y="574.9" width="0.5" height="0.5" fill="#3848b0" opacity="0.75"/><rect x="78.5" y="579.6" width="0.5" height="0.5" fill="#3848b0" opacity="0.75"/><rect x="75.3" y="569.8" width="0.5" height="0.5" fill="#3848b0" opacity="0.75"/><rect x="79.5" y="563.5" width="0.5" height="0.5" fill="#3848b0" opacity="0.75"/><rect x="77.8" y="559.4" width="0.5" height="0.5" fill="#3848b0" opacity="0.75"/><rect x="76.8" y="578.8" width="0.5" height="0.5" fill="#3848b0" opacity="0.75"/><rect x="81.8" y="574.1" width="0.5" height="0.5" fill="#3848b0" opacity="0.75"/><rect x="78.6" y="563.9" width="0.5" height="0.5" fill="#3848b0" opacity="0.75"/><rect x="86.8" y="578.4" width="0.5" height="0.5" fill="#3848b0" opacity="0.75"/><rect x="83.9" y="567.9" width="0.5" height="0.5" fill="#3848b0" opacity="0.75"/><rect x="78.8" y="560.9" width="0.5" height="0.5" fill="#3848b0" opacity="0.75"/><rect x="82.6" y="581.5" width="0.5" height="0.5" fill="#3848b0" opacity="0.75"/><rect x="71.9" y="574.1" width="0.5" height="0.5" fill="#3848b0" opacity="0.75"/><rect x="82.0" y="561.3" width="0.5" height="0.5" fill="#3848b0" opacity="0.75"/><rect x="72.2" y="566.5" width="0.5" height="0.5" fill="#3848b0" opacity="0.75"/><rect x="77.0" y="564.0" width="0.5" height="0.5" fill="#3848b0" opacity="0.75"/><rect x="79.6" y="576.4" width="0.5" height="0.5" fill="#3848b0" opacity="0.75"/><rect x="82.0" y="579.8" width="0.5" height="0.5" fill="#3848b0" opacity="0.75"/><rect x="85.5" y="583.2" width="0.5" height="0.5" fill="#3848b0" opacity="0.75"/><rect x="74.3" y="570.7" width="0.5" height="0.5" fill="#3848b0" opacity="0.75"/><rect x="75.3" y="566.4" width="0.5" height="0.5" fill="#3848b0" opacity="0.75"/><rect x="79.2" y="574.5" width="0.5" height="0.5" fill="#3848b0" opacity="0.75"/><rect x="81.5" y="562.6" width="0.5" height="0.5" fill="#3848b0" opacity="0.75"/><rect x="74.5" y="574.3" width="0.5" height="0.5" fill="#3848b0" opacity="0.75"/><rect x="78.7" y="572.2" width="0.5" height="0.5" fill="#3848b0" opacity="0.75"/><rect x="79.2" y="568.8" width="0.5" height="0.5" fill="#3848b0" opacity="0.75"/><rect x="82.3" y="577.2" width="0.5" height="0.5" fill="#3848b0" opacity="0.75"/><rect x="79.1" y="569.5" width="0.5" height="0.5" fill="#3848b0" opacity="0.75"/><rect x="78.8" y="554.1" width="0.5" height="0.5" fill="#3848b0" opacity="0.75"/><rect x="75.6" y="574.8" width="0.5" height="0.5" fill="#3848b0" opacity="0.75"/><rect x="73.5" y="576.0" width="0.5" height="0.5" fill="#3848b0" opacity="0.75"/><rect x="80.1" y="564.2" width="0.5" height="0.5" fill="#3848b0" opacity="0.75"/><rect x="78.5" y="572.1" width="0.5" height="0.5" fill="#3848b0" opacity="0.75"/><rect x="81.3" y="579.1" width="0.5" height="0.5" fill="#3848b0" opacity="0.75"/><rect x="79.4" y="568.1" width="0.5" height="0.5" fill="#3848b0" opacity="0.75"/><rect x="78.9" y="574.0" width="0.5" height="0.5" fill="#3848b0" opacity="0.75"/><rect x="82.4" y="576.7" width="0.5" height="0.5" fill="#3848b0" opacity="0.75"/><rect x="76.6" y="564.3" width="0.5" height="0.5" fill="#3848b0" opacity="0.75"/><rect x="78.0" y="568.9" width="0.5" height="0.5" fill="#3848b0" opacity="0.75"/><rect x="75.1" y="573.6" width="0.5" height="0.5" fill="#3848b0" opacity="0.75"/><rect x="77.5" y="575.3" width="0.5" height="0.5" fill="#3848b0" opacity="0.75"/><rect x="81.6" y="571.4" width="0.5" height="0.5" fill="#3848b0" opacity="0.75"/><rect x="88.8" y="572.1" width="0.5" height="0.5" fill="#3848b0" opacity="0.75"/><rect x="83.9" y="575.4" width="0.5" height="0.5" fill="#3848b0" opacity="0.75"/><rect x="84.0" y="556.7" width="0.5" height="0.5" fill="#3848b0" opacity="0.75"/><rect x="76.5" y="576.4" width="0.5" height="0.5" fill="#3848b0" opacity="0.75"/><rect x="81.9" y="592.0" width="0.5" height="0.5" fill="#3848b0" opacity="0.75"/><rect x="80.8" y="584.1" width="0.5" height="0.5" fill="#3848b0" opacity="0.75"/><rect x="82.6" y="581.6" width="0.5" height="0.5" fill="#3848b0" opacity="0.75"/><rect x="81.5" y="573.3" width="0.5" height="0.5" fill="#3848b0" opacity="0.75"/><rect x="81.5" y="566.4" width="0.5" height="0.5" fill="#3848b0" opacity="0.75"/><rect x="84.2" y="566.9" width="0.5" height="0.5" fill="#3848b0" opacity="0.75"/><rect x="80.5" y="590.4" width="0.5" height="0.5" fill="#3848b0" opacity="0.75"/><rect x="78.6" y="574.6" width="0.5" height="0.5" fill="#3848b0" opacity="0.75"/><rect x="84.2" y="574.7" width="0.5" height="0.5" fill="#3848b0" opacity="0.75"/><rect x="76.3" y="576.4" width="0.5" height="0.5" fill="#3848b0" opacity="0.75"/><rect x="81.8" y="579.8" width="0.5" height="0.5" fill="#3848b0" opacity="0.75"/><rect x="76.4" y="587.6" width="0.5" height="0.5" fill="#3848b0" opacity="0.75"/><rect x="86.2" y="574.6" width="0.5" height="0.5" fill="#3848b0" opacity="0.75"/><rect x="80.6" y="571.3" width="0.5" height="0.5" fill="#3848b0" opacity="0.75"/><rect x="85.2" y="569.2" width="0.5" height="0.5" fill="#3848b0" opacity="0.75"/><rect x="82.2" y="570.9" width="0.5" height="0.5" fill="#3848b0" opacity="0.75"/><rect x="76.7" y="579.9" width="0.5" height="0.5" fill="#3848b0" opacity="0.75"/><rect x="84.8" y="574.4" width="0.5" height="0.5" fill="#3848b0" opacity="0.75"/><rect x="76.8" y="580.6" width="0.5" height="0.5" fill="#3848b0" opacity="0.75"/><rect x="79.3" y="576.8" width="0.5" height="0.5" fill="#3848b0" opacity="0.75"/><rect x="85.6" y="583.0" width="0.5" height="0.5" fill="#3848b0" opacity="0.75"/><rect x="77.4" y="591.6" width="0.5" height="0.5" fill="#3848b0" opacity="0.75"/><rect x="79.5" y="580.4" width="0.5" height="0.5" fill="#3848b0" opacity="0.75"/><rect x="76.9" y="574.2" width="0.5" height="0.5" fill="#3848b0" opacity="0.75"/><rect x="72.5" y="587.9" width="0.5" height="0.5" fill="#3848b0" opacity="0.75"/><rect x="85.0" y="565.4" width="0.5" height="0.5" fill="#3848b0" opacity="0.75"/><rect x="73.5" y="562.3" width="0.5" height="0.5" fill="#3848b0" opacity="0.75"/><rect x="84.2" y="571.1" width="0.5" height="0.5" fill="#3848b0" opacity="0.75"/><rect x="79.3" y="572.2" width="0.5" height="0.5" fill="#3848b0" opacity="0.75"/><rect x="79.0" y="566.3" width="0.5" height="0.5" fill="#3848b0" opacity="0.75"/><rect x="79.6" y="563.7" width="0.5" height="0.5" fill="#3848b0" opacity="0.75"/><rect x="79.2" y="576.8" width="0.5" height="0.5" fill="#3848b0" opacity="0.75"/><rect x="81.4" y="572.8" width="0.5" height="0.5" fill="#3848b0" opacity="0.75"/><rect x="75.9" y="575.7" width="0.5" height="0.5" fill="#3848b0" opacity="0.75"/><rect x="77.6" y="586.2" width="0.5" height="0.5" fill="#3848b0" opacity="0.75"/><rect x="82.6" y="573.6" width="0.5" height="0.5" fill="#3848b0" opacity="0.75"/><rect x="77.6" y="569.2" width="0.5" height="0.5" fill="#3848b0" opacity="0.75"/><rect x="75.8" y="571.9" width="0.5" height="0.5" fill="#3848b0" opacity="0.75"/><rect x="80.7" y="578.4" width="0.5" height="0.5" fill="#3848b0" opacity="0.75"/><rect x="81.8" y="590.2" width="0.5" height="0.5" fill="#3848b0" opacity="0.75"/><rect x="76.7" y="574.6" width="0.5" height="0.5" fill="#3848b0" opacity="0.75"/><rect x="90.7" y="560.5" width="0.5" height="0.5" fill="#3848b0" opacity="0.75"/><rect x="77.4" y="575.8" width="0.5" height="0.5" fill="#3848b0" opacity="0.75"/><rect x="80.1" y="577.6" width="0.5" height="0.5" fill="#3848b0" opacity="0.75"/><rect x="78.5" y="577.2" width="0.5" height="0.5" fill="#3848b0" opacity="0.75"/><rect x="79.7" y="580.3" width="0.5" height="0.5" fill="#3848b0" opacity="0.75"/><rect x="71.9" y="567.9" width="0.5" height="0.5" fill="#3848b0" opacity="0.75"/><rect x="79.5" y="566.8" width="0.5" height="0.5" fill="#3848b0" opacity="0.75"/><rect x="75.3" y="579.2" width="0.5" height="0.5" fill="#3848b0" opacity="0.75"/><rect x="76.9" y="579.3" width="0.5" height="0.5" fill="#3848b0" opacity="0.75"/><rect x="82.5" y="576.8" width="0.5" height="0.5" fill="#3848b0" opacity="0.75"/><rect x="81.5" y="573.7" width="0.5" height="0.5" fill="#3848b0" opacity="0.75"/><rect x="73.9" y="574.3" width="0.5" height="0.5" fill="#3848b0" opacity="0.75"/><rect x="81.3" y="570.5" width="0.5" height="0.5" fill="#3848b0" opacity="0.75"/><rect x="79.1" y="580.1" width="0.5" height="0.5" fill="#3848b0" opacity="0.75"/><rect x="76.0" y="579.3" width="0.5" height="0.5" fill="#3848b0" opacity="0.75"/><rect x="87.0" y="570.3" width="0.5" height="0.5" fill="#3848b0" opacity="0.75"/><rect x="80.1" y="573.4" width="0.5" height="0.5" fill="#3848b0" opacity="0.75"/><rect x="85.7" y="576.9" width="0.5" height="0.5" fill="#3848b0" opacity="0.75"/><rect x="83.1" y="569.3" width="0.5" height="0.5" fill="#3848b0" opacity="0.75"/><rect x="79.4" y="574.4" width="0.5" height="0.5" fill="#3848b0" opacity="0.75"/><rect x="72.4" y="585.3" width="0.5" height="0.5" fill="#3848b0" opacity="0.75"/><rect x="83.1" y="561.4" width="0.5" height="0.5" fill="#3848b0" opacity="0.75"/><rect x="82.5" y="573.5" width="0.5" height="0.5" fill="#3848b0" opacity="0.75"/><rect x="81.3" y="577.2" width="0.5" height="0.5" fill="#3848b0" opacity="0.75"/><rect x="73.5" y="572.9" width="0.5" height="0.5" fill="#3848b0" opacity="0.75"/><rect x="85.5" y="570.2" width="0.5" height="0.5" fill="#3848b0" opacity="0.75"/><rect x="75.4" y="564.3" width="0.5" height="0.5" fill="#3848b0" opacity="0.75"/><rect x="74.6" y="577.0" width="0.5" height="0.5" fill="#3848b0" opacity="0.75"/><rect x="86.3" y="577.7" width="0.5" height="0.5" fill="#3848b0" opacity="0.75"/><rect x="80.5" y="591.3" width="0.5" height="0.5" fill="#3848b0" opacity="0.75"/><rect x="77.4" y="569.4" width="0.5" height="0.5" fill="#3848b0" opacity="0.75"/><rect x="81.6" y="578.6" width="0.5" height="0.5" fill="#3848b0" opacity="0.75"/><rect x="75.4" y="565.7" width="0.5" height="0.5" fill="#3848b0" opacity="0.75"/><rect x="80.7" y="576.4" width="0.5" height="0.5" fill="#3848b0" opacity="0.75"/><rect x="74.3" y="573.0" width="0.5" height="0.5" fill="#3848b0" opacity="0.75"/><rect x="77.3" y="578.0" width="0.5" height="0.5" fill="#3848b0" opacity="0.75"/><rect x="79.0" y="573.9" width="0.5" height="0.5" fill="#3848b0" opacity="0.75"/><rect x="78.1" y="582.4" width="0.5" height="0.5" fill="#3848b0" opacity="0.75"/><rect x="85.1" y="571.7" width="0.5" height="0.5" fill="#3848b0" opacity="0.75"/><rect x="82.9" y="568.8" width="0.5" height="0.5" fill="#3848b0" opacity="0.75"/><rect x="79.8" y="580.1" width="0.5" height="0.5" fill="#3848b0" opacity="0.75"/><rect x="85.6" y="571.6" width="0.5" height="0.5" fill="#3848b0" opacity="0.75"/><rect x="79.2" y="576.0" width="0.5" height="0.5" fill="#3848b0" opacity="0.75"/><rect x="73.5" y="574.6" width="0.5" height="0.5" fill="#3848b0" opacity="0.75"/><rect x="76.8" y="577.3" width="0.5" height="0.5" fill="#3848b0" opacity="0.75"/><rect x="75.0" y="559.7" width="0.5" height="0.5" fill="#3848b0" opacity="0.75"/><rect x="79.7" y="576.5" width="0.5" height="0.5" fill="#3848b0" opacity="0.75"/><rect x="77.3" y="581.2" width="0.5" height="0.5" fill="#3848b0" opacity="0.75"/><rect x="78.4" y="570.0" width="0.5" height="0.5" fill="#3848b0" opacity="0.75"/><rect x="81.4" y="562.7" width="0.5" height="0.5" fill="#3848b0" opacity="0.75"/><rect x="76.8" y="574.3" width="0.5" height="0.5" fill="#3848b0" opacity="0.75"/><rect x="82.9" y="573.3" width="0.5" height="0.5" fill="#3848b0" opacity="0.75"/><rect x="80.7" y="569.6" width="0.5" height="0.5" fill="#3848b0" opacity="0.75"/><rect x="80.7" y="587.0" width="0.5" height="0.5" fill="#3848b0" opacity="0.75"/><rect x="76.8" y="592.2" width="0.5" height="0.5" fill="#3848b0" opacity="0.75"/><rect x="76.9" y="574.6" width="0.5" height="0.5" fill="#3848b0" opacity="0.75"/><rect x="80.2" y="582.2" width="0.5" height="0.5" fill="#3848b0" opacity="0.75"/><rect x="74.6" y="558.7" width="0.5" height="0.5" fill="#3848b0" opacity="0.75"/><rect x="81.9" y="580.5" width="0.5" height="0.5" fill="#3848b0" opacity="0.75"/><rect x="82.0" y="594.2" width="0.5" height="0.5" fill="#3848b0" opacity="0.75"/><rect x="80.3" y="576.4" width="0.5" height="0.5" fill="#3848b0" opacity="0.75"/><rect x="83.2" y="577.3" width="0.5" height="0.5" fill="#3848b0" opacity="0.75"/><rect x="86.2" y="565.2" width="0.5" height="0.5" fill="#3848b0" opacity="0.75"/><rect x="78.0" y="548.7" width="0.5" height="0.5" fill="#3848b0" opacity="0.75"/><rect x="82.7" y="571.7" width="0.5" height="0.5" fill="#3848b0" opacity="0.75"/><rect x="83.2" y="590.7" width="0.5" height="0.5" fill="#3848b0" opacity="0.75"/><rect x="79.5" y="572.6" width="0.5" height="0.5" fill="#3848b0" opacity="0.75"/><rect x="77.5" y="568.2" width="0.5" height="0.5" fill="#3848b0" opacity="0.75"/><rect x="77.0" y="579.3" width="0.5" height="0.5" fill="#3848b0" opacity="0.75"/><rect x="79.6" y="575.0" width="0.5" height="0.5" fill="#3848b0" opacity="0.75"/><rect x="78.8" y="581.4" width="0.5" height="0.5" fill="#3848b0" opacity="0.75"/><rect x="81.5" y="573.4" width="0.5" height="0.5" fill="#3848b0" opacity="0.75"/><rect x="82.2" y="573.4" width="0.5" height="0.5" fill="#3848b0" opacity="0.75"/><rect x="74.9" y="585.4" width="0.5" height="0.5" fill="#3848b0" opacity="0.75"/><rect x="81.4" y="567.3" width="0.5" height="0.5" fill="#3848b0" opacity="0.75"/><rect x="83.8" y="577.1" width="0.5" height="0.5" fill="#3848b0" opacity="0.75"/><rect x="73.2" y="586.6" width="0.5" height="0.5" fill="#3848b0" opacity="0.75"/><rect x="80.8" y="581.2" width="0.5" height="0.5" fill="#3848b0" opacity="0.75"/><rect x="80.3" y="573.4" width="0.5" height="0.5" fill="#3848b0" opacity="0.75"/><rect x="73.3" y="581.8" width="0.5" height="0.5" fill="#3848b0" opacity="0.75"/><rect x="79.6" y="572.4" width="0.5" height="0.5" fill="#3848b0" opacity="0.75"/><rect x="80.9" y="575.1" width="0.5" height="0.5" fill="#3848b0" opacity="0.75"/><rect x="82.2" y="571.7" width="0.5" height="0.5" fill="#3848b0" opacity="0.75"/><rect x="79.4" y="558.5" width="0.5" height="0.5" fill="#3848b0" opacity="0.75"/><rect x="77.8" y="579.6" width="0.5" height="0.5" fill="#3848b0" opacity="0.75"/><rect x="84.8" y="571.8" width="0.5" height="0.5" fill="#3848b0" opacity="0.75"/><rect x="79.0" y="586.4" width="0.5" height="0.5" fill="#3848b0" opacity="0.75"/><rect x="78.2" y="580.0" width="0.5" height="0.5" fill="#3848b0" opacity="0.75"/><rect x="86.2" y="574.8" width="0.5" height="0.5" fill="#3848b0" opacity="0.75"/><rect x="84.4" y="569.2" width="0.5" height="0.5" fill="#3848b0" opacity="0.75"/><rect x="80.3" y="573.9" width="0.5" height="0.5" fill="#3848b0" opacity="0.75"/><rect x="80.0" y="583.0" width="0.5" height="0.5" fill="#3848b0" opacity="0.75"/><rect x="89.1" y="569.5" width="0.5" height="0.5" fill="#3848b0" opacity="0.75"/><rect x="77.2" y="578.2" width="0.5" height="0.5" fill="#3848b0" opacity="0.75"/><rect x="75.3" y="578.2" width="0.5" height="0.5" fill="#3848b0" opacity="0.75"/><rect x="81.8" y="572.4" width="0.5" height="0.5" fill="#3848b0" opacity="0.75"/><rect x="81.6" y="562.9" width="0.5" height="0.5" fill="#3848b0" opacity="0.75"/><rect x="82.5" y="562.9" width="0.5" height="0.5" fill="#3848b0" opacity="0.75"/><rect x="76.7" y="570.3" width="0.5" height="0.5" fill="#3848b0" opacity="0.75"/><rect x="77.9" y="580.9" width="0.5" height="0.5" fill="#3848b0" opacity="0.75"/><rect x="79.8" y="571.5" width="0.5" height="0.5" fill="#3848b0" opacity="0.75"/><rect x="81.7" y="586.4" width="0.5" height="0.5" fill="#3848b0" opacity="0.75"/><rect x="79.5" y="577.2" width="0.5" height="0.5" fill="#3848b0" opacity="0.75"/><rect x="84.5" y="576.5" width="0.5" height="0.5" fill="#3848b0" opacity="0.75"/><rect x="74.4" y="593.2" width="0.5" height="0.5" fill="#3848b0" opacity="0.75"/><rect x="88.3" y="559.6" width="0.5" height="0.5" fill="#3848b0" opacity="0.75"/><rect x="79.3" y="577.6" width="0.5" height="0.5" fill="#3848b0" opacity="0.75"/><rect x="83.4" y="579.5" width="0.5" height="0.5" fill="#3848b0" opacity="0.75"/><rect x="78.4" y="566.6" width="0.5" height="0.5" fill="#3848b0" opacity="0.75"/><rect x="79.9" y="582.3" width="0.5" height="0.5" fill="#3848b0" opacity="0.75"/><rect x="75.1" y="566.8" width="0.5" height="0.5" fill="#3848b0" opacity="0.75"/><rect x="79.4" y="560.0" width="0.5" height="0.5" fill="#3848b0" opacity="0.75"/><rect x="78.5" y="571.2" width="0.5" height="0.5" fill="#3848b0" opacity="0.75"/><rect x="81.3" y="569.2" width="0.5" height="0.5" fill="#3848b0" opacity="0.75"/><rect x="76.0" y="571.5" width="0.5" height="0.5" fill="#3848b0" opacity="0.75"/><rect x="79.3" y="569.5" width="0.5" height="0.5" fill="#3848b0" opacity="0.75"/><rect x="79.5" y="580.1" width="0.5" height="0.5" fill="#3848b0" opacity="0.75"/><rect x="62.5" y="605.1" width="0.5" height="0.5" fill="#3040a6" opacity="0.75"/><rect x="62.9" y="607.8" width="0.5" height="0.5" fill="#3040a6" opacity="0.75"/><rect x="71.7" y="598.5" width="0.5" height="0.5" fill="#3040a6" opacity="0.75"/><rect x="71.2" y="607.8" width="0.5" height="0.5" fill="#3040a6" opacity="0.75"/><rect x="55.2" y="610.0" width="0.5" height="0.5" fill="#3040a6" opacity="0.75"/><rect x="76.4" y="594.9" width="0.5" height="0.5" fill="#3040a6" opacity="0.75"/><rect x="73.7" y="609.5" width="0.5" height="0.5" fill="#3040a6" opacity="0.75"/><rect x="71.3" y="611.1" width="0.5" height="0.5" fill="#3040a6" opacity="0.75"/><rect x="77.1" y="606.4" width="0.5" height="0.5" fill="#3040a6" opacity="0.75"/><rect x="74.1" y="605.1" width="0.5" height="0.5" fill="#3040a6" opacity="0.75"/><rect x="73.1" y="602.3" width="0.5" height="0.5" fill="#3040a6" opacity="0.75"/><rect x="71.1" y="606.9" width="0.5" height="0.5" fill="#3040a6" opacity="0.75"/><rect x="60.0" y="602.5" width="0.5" height="0.5" fill="#3040a6" opacity="0.75"/><rect x="69.4" y="614.6" width="0.5" height="0.5" fill="#3040a6" opacity="0.75"/><rect x="71.0" y="611.7" width="0.5" height="0.5" fill="#3040a6" opacity="0.75"/><rect x="65.3" y="604.2" width="0.5" height="0.5" fill="#3040a6" opacity="0.75"/><rect x="74.2" y="608.4" width="0.5" height="0.5" fill="#3040a6" opacity="0.75"/><rect x="66.1" y="604.0" width="0.5" height="0.5" fill="#3040a6" opacity="0.75"/><rect x="66.2" y="612.4" width="0.5" height="0.5" fill="#3040a6" opacity="0.75"/><rect x="70.5" y="599.5" width="0.5" height="0.5" fill="#3040a6" opacity="0.75"/><rect x="71.0" y="609.3" width="0.5" height="0.5" fill="#3040a6" opacity="0.75"/><rect x="61.0" y="613.4" width="0.5" height="0.5" fill="#3040a6" opacity="0.75"/><rect x="66.0" y="605.7" width="0.5" height="0.5" fill="#3040a6" opacity="0.75"/><rect x="63.2" y="611.1" width="0.5" height="0.5" fill="#3040a6" opacity="0.75"/><rect x="63.5" y="613.7" width="0.5" height="0.5" fill="#3040a6" opacity="0.75"/><rect x="83.5" y="590.2" width="0.5" height="0.5" fill="#3040a6" opacity="0.75"/><rect x="65.0" y="611.5" width="0.5" height="0.5" fill="#3040a6" opacity="0.75"/><rect x="67.3" y="603.3" width="0.5" height="0.5" fill="#3040a6" opacity="0.75"/><rect x="83.1" y="608.6" width="0.5" height="0.5" fill="#3040a6" opacity="0.75"/><rect x="56.5" y="614.0" width="0.5" height="0.5" fill="#3040a6" opacity="0.75"/><rect x="64.0" y="609.0" width="0.5" height="0.5" fill="#3040a6" opacity="0.75"/><rect x="76.8" y="608.8" width="0.5" height="0.5" fill="#3040a6" opacity="0.75"/><rect x="58.3" y="596.1" width="0.5" height="0.5" fill="#3040a6" opacity="0.75"/><rect x="76.3" y="613.2" width="0.5" height="0.5" fill="#3040a6" opacity="0.75"/><rect x="62.3" y="614.0" width="0.5" height="0.5" fill="#3040a6" opacity="0.75"/><rect x="71.5" y="612.5" width="0.5" height="0.5" fill="#3040a6" opacity="0.75"/><rect x="52.2" y="605.9" width="0.5" height="0.5" fill="#3040a6" opacity="0.75"/><rect x="74.3" y="613.1" width="0.5" height="0.5" fill="#3040a6" opacity="0.75"/><rect x="74.2" y="590.8" width="0.5" height="0.5" fill="#3040a6" opacity="0.75"/><rect x="69.2" y="611.4" width="0.5" height="0.5" fill="#3040a6" opacity="0.75"/><rect x="85.9" y="601.3" width="0.5" height="0.5" fill="#3040a6" opacity="0.75"/><rect x="65.7" y="608.3" width="0.5" height="0.5" fill="#3040a6" opacity="0.75"/><rect x="74.2" y="604.9" width="0.5" height="0.5" fill="#3040a6" opacity="0.75"/><rect x="76.0" y="602.5" width="0.5" height="0.5" fill="#3040a6" opacity="0.75"/><rect x="69.9" y="604.3" width="0.5" height="0.5" fill="#3040a6" opacity="0.75"/><rect x="69.1" y="603.2" width="0.5" height="0.5" fill="#3040a6" opacity="0.75"/><rect x="70.1" y="604.1" width="0.5" height="0.5" fill="#3040a6" opacity="0.75"/><rect x="69.4" y="614.9" width="0.5" height="0.5" fill="#3040a6" opacity="0.75"/><rect x="61.2" y="607.2" width="0.5" height="0.5" fill="#3040a6" opacity="0.75"/><rect x="71.8" y="611.7" width="0.5" height="0.5" fill="#3040a6" opacity="0.75"/><rect x="65.7" y="593.3" width="0.5" height="0.5" fill="#3040a6" opacity="0.75"/><rect x="76.7" y="610.3" width="0.5" height="0.5" fill="#3040a6" opacity="0.75"/><rect x="68.1" y="606.1" width="0.5" height="0.5" fill="#3040a6" opacity="0.75"/><rect x="69.8" y="605.0" width="0.5" height="0.5" fill="#3040a6" opacity="0.75"/><rect x="60.8" y="602.8" width="0.5" height="0.5" fill="#3040a6" opacity="0.75"/><rect x="63.8" y="603.7" width="0.5" height="0.5" fill="#3040a6" opacity="0.75"/><rect x="59.9" y="612.5" width="0.5" height="0.5" fill="#3040a6" opacity="0.75"/><rect x="58.8" y="612.6" width="0.5" height="0.5" fill="#3040a6" opacity="0.75"/><rect x="60.9" y="610.5" width="0.5" height="0.5" fill="#3040a6" opacity="0.75"/><rect x="77.6" y="609.4" width="0.5" height="0.5" fill="#3040a6" opacity="0.75"/><rect x="62.9" y="608.3" width="0.5" height="0.5" fill="#3040a6" opacity="0.75"/><rect x="69.0" y="595.9" width="0.5" height="0.5" fill="#3040a6" opacity="0.75"/><rect x="63.7" y="609.1" width="0.5" height="0.5" fill="#3040a6" opacity="0.75"/><rect x="64.7" y="608.6" width="0.5" height="0.5" fill="#3040a6" opacity="0.75"/><rect x="73.1" y="613.4" width="0.5" height="0.5" fill="#3040a6" opacity="0.75"/><rect x="74.3" y="612.1" width="0.5" height="0.5" fill="#3040a6" opacity="0.75"/><rect x="66.0" y="607.9" width="0.5" height="0.5" fill="#3040a6" opacity="0.75"/><rect x="66.1" y="605.8" width="0.5" height="0.5" fill="#3040a6" opacity="0.75"/><rect x="66.7" y="595.9" width="0.5" height="0.5" fill="#3040a6" opacity="0.75"/><rect x="65.7" y="607.8" width="0.5" height="0.5" fill="#3040a6" opacity="0.75"/><rect x="61.2" y="607.8" width="0.5" height="0.5" fill="#3040a6" opacity="0.75"/><rect x="71.6" y="606.8" width="0.5" height="0.5" fill="#3040a6" opacity="0.75"/><rect x="82.5" y="589.8" width="0.5" height="0.5" fill="#3040a6" opacity="0.75"/><rect x="66.6" y="595.2" width="0.5" height="0.5" fill="#3040a6" opacity="0.75"/><rect x="50.5" y="608.9" width="0.5" height="0.5" fill="#3040a6" opacity="0.75"/><rect x="71.6" y="605.9" width="0.5" height="0.5" fill="#3040a6" opacity="0.75"/><rect x="71.9" y="592.3" width="0.5" height="0.5" fill="#3040a6" opacity="0.75"/><rect x="74.0" y="610.6" width="0.5" height="0.5" fill="#3040a6" opacity="0.75"/><rect x="68.2" y="603.9" width="0.5" height="0.5" fill="#3040a6" opacity="0.75"/><rect x="72.5" y="604.6" width="0.5" height="0.5" fill="#3040a6" opacity="0.75"/><rect x="69.6" y="604.4" width="0.5" height="0.5" fill="#3040a6" opacity="0.75"/><rect x="52.3" y="607.8" width="0.5" height="0.5" fill="#3040a6" opacity="0.75"/><rect x="69.4" y="613.3" width="0.5" height="0.5" fill="#3040a6" opacity="0.75"/><rect x="61.9" y="607.8" width="0.5" height="0.5" fill="#3040a6" opacity="0.75"/><rect x="72.3" y="609.0" width="0.5" height="0.5" fill="#3040a6" opacity="0.75"/><rect x="61.6" y="594.6" width="0.5" height="0.5" fill="#3040a6" opacity="0.75"/><rect x="74.5" y="613.7" width="0.5" height="0.5" fill="#3040a6" opacity="0.75"/><rect x="63.7" y="603.0" width="0.5" height="0.5" fill="#3040a6" opacity="0.75"/><rect x="74.2" y="601.6" width="0.5" height="0.5" fill="#3040a6" opacity="0.75"/><rect x="55.3" y="601.0" width="0.5" height="0.5" fill="#3040a6" opacity="0.75"/><rect x="63.2" y="602.9" width="0.5" height="0.5" fill="#3040a6" opacity="0.75"/><rect x="69.6" y="602.8" width="0.5" height="0.5" fill="#3040a6" opacity="0.75"/><rect x="77.2" y="607.5" width="0.5" height="0.5" fill="#3040a6" opacity="0.75"/><rect x="63.9" y="609.5" width="0.5" height="0.5" fill="#3040a6" opacity="0.75"/><rect x="67.9" y="605.8" width="0.5" height="0.5" fill="#3040a6" opacity="0.75"/><rect x="70.3" y="603.2" width="0.5" height="0.5" fill="#3040a6" opacity="0.75"/><rect x="55.1" y="592.5" width="0.5" height="0.5" fill="#3040a6" opacity="0.75"/><rect x="59.1" y="602.7" width="0.5" height="0.5" fill="#3040a6" opacity="0.75"/><rect x="67.8" y="608.4" width="0.5" height="0.5" fill="#3040a6" opacity="0.75"/><rect x="71.9" y="608.8" width="0.5" height="0.5" fill="#3040a6" opacity="0.75"/><rect x="62.4" y="603.0" width="0.5" height="0.5" fill="#3040a6" opacity="0.75"/><rect x="53.2" y="606.8" width="0.5" height="0.5" fill="#3040a6" opacity="0.75"/><rect x="71.4" y="611.7" width="0.5" height="0.5" fill="#3040a6" opacity="0.75"/><rect x="67.2" y="606.8" width="0.5" height="0.5" fill="#3040a6" opacity="0.75"/><rect x="74.6" y="608.1" width="0.5" height="0.5" fill="#3040a6" opacity="0.75"/><rect x="73.2" y="612.1" width="0.5" height="0.5" fill="#3040a6" opacity="0.75"/><rect x="64.0" y="605.5" width="0.5" height="0.5" fill="#3040a6" opacity="0.75"/><rect x="62.3" y="602.4" width="0.5" height="0.5" fill="#3040a6" opacity="0.75"/><rect x="68.2" y="612.0" width="0.5" height="0.5" fill="#3040a6" opacity="0.75"/><rect x="76.2" y="613.7" width="0.5" height="0.5" fill="#3040a6" opacity="0.75"/><rect x="76.4" y="599.2" width="0.5" height="0.5" fill="#3040a6" opacity="0.75"/><rect x="63.5" y="611.2" width="0.5" height="0.5" fill="#3040a6" opacity="0.75"/><rect x="78.0" y="608.7" width="0.5" height="0.5" fill="#3040a6" opacity="0.75"/><rect x="62.0" y="605.5" width="0.5" height="0.5" fill="#3040a6" opacity="0.75"/><rect x="63.4" y="602.0" width="0.5" height="0.5" fill="#3040a6" opacity="0.75"/><rect x="78.5" y="603.6" width="0.5" height="0.5" fill="#3040a6" opacity="0.75"/><rect x="76.3" y="610.4" width="0.5" height="0.5" fill="#3040a6" opacity="0.75"/><rect x="63.7" y="610.9" width="0.5" height="0.5" fill="#3040a6" opacity="0.75"/><rect x="79.4" y="612.4" width="0.5" height="0.5" fill="#3040a6" opacity="0.75"/><rect x="76.8" y="608.7" width="0.5" height="0.5" fill="#3040a6" opacity="0.75"/><rect x="71.6" y="606.6" width="0.5" height="0.5" fill="#3040a6" opacity="0.75"/><rect x="58.0" y="607.6" width="0.5" height="0.5" fill="#3040a6" opacity="0.75"/><rect x="69.7" y="604.0" width="0.5" height="0.5" fill="#3040a6" opacity="0.75"/><rect x="65.8" y="613.5" width="0.5" height="0.5" fill="#3040a6" opacity="0.75"/><rect x="82.0" y="612.4" width="0.5" height="0.5" fill="#3040a6" opacity="0.75"/><rect x="70.3" y="597.1" width="0.5" height="0.5" fill="#3040a6" opacity="0.75"/><rect x="81.5" y="608.5" width="0.5" height="0.5" fill="#3040a6" opacity="0.75"/><rect x="67.8" y="600.2" width="0.5" height="0.5" fill="#3040a6" opacity="0.75"/><rect x="67.6" y="600.3" width="0.5" height="0.5" fill="#3040a6" opacity="0.75"/><rect x="68.5" y="611.3" width="0.5" height="0.5" fill="#3040a6" opacity="0.75"/><rect x="68.2" y="610.0" width="0.5" height="0.5" fill="#3040a6" opacity="0.75"/><rect x="63.4" y="595.3" width="0.5" height="0.5" fill="#3040a6" opacity="0.75"/><rect x="66.7" y="602.7" width="0.5" height="0.5" fill="#3040a6" opacity="0.75"/><rect x="60.9" y="605.5" width="0.5" height="0.5" fill="#3040a6" opacity="0.75"/><rect x="70.0" y="599.7" width="0.5" height="0.5" fill="#3040a6" opacity="0.75"/><rect x="72.8" y="606.9" width="0.5" height="0.5" fill="#3040a6" opacity="0.75"/><rect x="68.9" y="607.2" width="0.5" height="0.5" fill="#3040a6" opacity="0.75"/><rect x="67.7" y="613.1" width="0.5" height="0.5" fill="#3040a6" opacity="0.75"/><rect x="67.4" y="591.2" width="0.5" height="0.5" fill="#3040a6" opacity="0.75"/><rect x="67.8" y="601.8" width="0.5" height="0.5" fill="#3040a6" opacity="0.75"/><rect x="72.6" y="603.7" width="0.5" height="0.5" fill="#3040a6" opacity="0.75"/><rect x="60.7" y="600.1" width="0.5" height="0.5" fill="#3040a6" opacity="0.75"/><rect x="58.1" y="591.2" width="0.5" height="0.5" fill="#3040a6" opacity="0.75"/><rect x="54.9" y="610.6" width="0.5" height="0.5" fill="#3040a6" opacity="0.75"/><rect x="63.5" y="594.9" width="0.5" height="0.5" fill="#3040a6" opacity="0.75"/><rect x="57.6" y="612.3" width="0.5" height="0.5" fill="#3040a6" opacity="0.75"/><rect x="62.6" y="605.4" width="0.5" height="0.5" fill="#3040a6" opacity="0.75"/><rect x="69.0" y="609.3" width="0.5" height="0.5" fill="#3040a6" opacity="0.75"/><rect x="65.8" y="611.2" width="0.5" height="0.5" fill="#3040a6" opacity="0.75"/><rect x="70.0" y="608.4" width="0.5" height="0.5" fill="#3040a6" opacity="0.75"/><rect x="64.5" y="598.7" width="0.5" height="0.5" fill="#3040a6" opacity="0.75"/><rect x="64.3" y="597.2" width="0.5" height="0.5" fill="#3040a6" opacity="0.75"/><rect x="76.6" y="611.8" width="0.5" height="0.5" fill="#3040a6" opacity="0.75"/><rect x="74.2" y="594.6" width="0.5" height="0.5" fill="#3040a6" opacity="0.75"/><rect x="80.9" y="613.7" width="0.5" height="0.5" fill="#3040a6" opacity="0.75"/><rect x="82.4" y="599.4" width="0.5" height="0.5" fill="#3040a6" opacity="0.75"/><rect x="71.7" y="611.0" width="0.5" height="0.5" fill="#3040a6" opacity="0.75"/><rect x="69.4" y="609.2" width="0.5" height="0.5" fill="#3040a6" opacity="0.75"/><rect x="75.4" y="597.5" width="0.5" height="0.5" fill="#3040a6" opacity="0.75"/><rect x="59.3" y="598.2" width="0.5" height="0.5" fill="#3040a6" opacity="0.75"/><rect x="64.1" y="603.8" width="0.5" height="0.5" fill="#3040a6" opacity="0.75"/><rect x="70.6" y="609.9" width="0.5" height="0.5" fill="#3040a6" opacity="0.75"/><rect x="68.2" y="603.3" width="0.5" height="0.5" fill="#3040a6" opacity="0.75"/><rect x="64.9" y="614.7" width="0.5" height="0.5" fill="#3040a6" opacity="0.75"/><rect x="73.3" y="608.7" width="0.5" height="0.5" fill="#3040a6" opacity="0.75"/><rect x="63.8" y="612.5" width="0.5" height="0.5" fill="#3040a6" opacity="0.75"/><rect x="76.1" y="606.1" width="0.5" height="0.5" fill="#3040a6" opacity="0.75"/><rect x="73.8" y="600.2" width="0.5" height="0.5" fill="#3040a6" opacity="0.75"/><rect x="75.1" y="609.4" width="0.5" height="0.5" fill="#3040a6" opacity="0.75"/><rect x="56.9" y="612.7" width="0.5" height="0.5" fill="#3040a6" opacity="0.75"/><rect x="63.2" y="606.8" width="0.5" height="0.5" fill="#3040a6" opacity="0.75"/><rect x="70.0" y="605.7" width="0.5" height="0.5" fill="#3040a6" opacity="0.75"/><rect x="69.8" y="604.1" width="0.5" height="0.5" fill="#3040a6" opacity="0.75"/><rect x="72.7" y="608.0" width="0.5" height="0.5" fill="#3040a6" opacity="0.75"/><rect x="69.5" y="588.7" width="0.5" height="0.5" fill="#3040a6" opacity="0.75"/><rect x="76.1" y="608.2" width="0.5" height="0.5" fill="#3040a6" opacity="0.75"/><rect x="55.5" y="608.7" width="0.5" height="0.5" fill="#3040a6" opacity="0.75"/><rect x="67.0" y="612.8" width="0.5" height="0.5" fill="#3040a6" opacity="0.75"/><rect x="65.4" y="600.2" width="0.5" height="0.5" fill="#3040a6" opacity="0.75"/><rect x="75.7" y="614.3" width="0.5" height="0.5" fill="#3040a6" opacity="0.75"/><rect x="78.8" y="614.0" width="0.5" height="0.5" fill="#3040a6" opacity="0.75"/><rect x="64.0" y="596.4" width="0.5" height="0.5" fill="#3040a6" opacity="0.75"/><rect x="63.4" y="603.3" width="0.5" height="0.5" fill="#3040a6" opacity="0.75"/><rect x="62.3" y="612.1" width="0.5" height="0.5" fill="#3040a6" opacity="0.75"/><rect x="70.3" y="606.1" width="0.5" height="0.5" fill="#3040a6" opacity="0.75"/><rect x="69.2" y="607.0" width="0.5" height="0.5" fill="#3040a6" opacity="0.75"/><rect x="69.5" y="613.3" width="0.5" height="0.5" fill="#3040a6" opacity="0.75"/><rect x="74.7" y="603.2" width="0.5" height="0.5" fill="#3040a6" opacity="0.75"/><rect x="56.5" y="605.7" width="0.5" height="0.5" fill="#3040a6" opacity="0.75"/><rect x="68.2" y="597.9" width="0.5" height="0.5" fill="#3040a6" opacity="0.75"/><rect x="64.4" y="613.1" width="0.5" height="0.5" fill="#3040a6" opacity="0.75"/><rect x="62.0" y="598.2" width="0.5" height="0.5" fill="#3040a6" opacity="0.75"/><rect x="71.6" y="614.6" width="0.5" height="0.5" fill="#3040a6" opacity="0.75"/><rect x="69.4" y="598.9" width="0.5" height="0.5" fill="#3040a6" opacity="0.75"/><rect x="73.5" y="613.5" width="0.5" height="0.5" fill="#3040a6" opacity="0.75"/><rect x="71.9" y="604.6" width="0.5" height="0.5" fill="#3040a6" opacity="0.75"/><rect x="70.1" y="613.5" width="0.5" height="0.5" fill="#3040a6" opacity="0.75"/><rect x="64.1" y="595.1" width="0.5" height="0.5" fill="#3040a6" opacity="0.75"/><rect x="70.3" y="611.4" width="0.5" height="0.5" fill="#3040a6" opacity="0.75"/><rect x="68.1" y="614.2" width="0.5" height="0.5" fill="#3040a6" opacity="0.75"/><rect x="63.9" y="607.4" width="0.5" height="0.5" fill="#3040a6" opacity="0.75"/><rect x="65.9" y="612.0" width="0.5" height="0.5" fill="#3040a6" opacity="0.75"/><rect x="79.2" y="606.2" width="0.5" height="0.5" fill="#3040a6" opacity="0.75"/><rect x="73.5" y="612.1" width="0.5" height="0.5" fill="#3040a6" opacity="0.75"/><rect x="80.4" y="606.7" width="0.5" height="0.5" fill="#3040a6" opacity="0.75"/><rect x="67.2" y="600.6" width="0.5" height="0.5" fill="#3040a6" opacity="0.75"/><rect x="71.7" y="611.0" width="0.5" height="0.5" fill="#3040a6" opacity="0.75"/><rect x="66.6" y="609.2" width="0.5" height="0.5" fill="#3040a6" opacity="0.75"/><rect x="65.1" y="600.3" width="0.5" height="0.5" fill="#3040a6" opacity="0.75"/><rect x="62.7" y="602.2" width="0.5" height="0.5" fill="#3040a6" opacity="0.75"/><rect x="58.5" y="614.5" width="0.5" height="0.5" fill="#3040a6" opacity="0.75"/><rect x="74.2" y="603.9" width="0.5" height="0.5" fill="#3040a6" opacity="0.75"/><rect x="57.6" y="602.8" width="0.5" height="0.5" fill="#3040a6" opacity="0.75"/><rect x="63.6" y="610.4" width="0.5" height="0.5" fill="#3040a6" opacity="0.75"/><rect x="65.5" y="593.8" width="0.5" height="0.5" fill="#3040a6" opacity="0.75"/><rect x="69.6" y="597.3" width="0.5" height="0.5" fill="#3040a6" opacity="0.75"/><rect x="74.3" y="599.6" width="0.5" height="0.5" fill="#3040a6" opacity="0.75"/><rect x="63.1" y="602.0" width="0.5" height="0.5" fill="#3040a6" opacity="0.75"/><rect x="74.0" y="612.2" width="0.5" height="0.5" fill="#3040a6" opacity="0.75"/><rect x="70.2" y="597.2" width="0.5" height="0.5" fill="#3040a6" opacity="0.75"/><rect x="64.4" y="604.1" width="0.5" height="0.5" fill="#3040a6" opacity="0.75"/><rect x="61.2" y="611.6" width="0.5" height="0.5" fill="#3040a6" opacity="0.75"/><rect x="62.8" y="603.0" width="0.5" height="0.5" fill="#3040a6" opacity="0.75"/><rect x="60.7" y="593.6" width="0.5" height="0.5" fill="#3040a6" opacity="0.75"/><rect x="69.2" y="601.2" width="0.5" height="0.5" fill="#3040a6" opacity="0.75"/><rect x="49.1" y="609.2" width="0.5" height="0.5" fill="#3040a6" opacity="0.75"/><rect x="76.5" y="610.1" width="0.5" height="0.5" fill="#3040a6" opacity="0.75"/><rect x="75.9" y="604.9" width="0.5" height="0.5" fill="#3040a6" opacity="0.75"/><rect x="75.4" y="613.4" width="0.5" height="0.5" fill="#3040a6" opacity="0.75"/><rect x="57.2" y="605.2" width="0.5" height="0.5" fill="#3040a6" opacity="0.75"/><rect x="58.0" y="607.2" width="0.5" height="0.5" fill="#3040a6" opacity="0.75"/><rect x="72.0" y="600.5" width="0.5" height="0.5" fill="#3040a6" opacity="0.75"/><rect x="66.5" y="609.9" width="0.5" height="0.5" fill="#3040a6" opacity="0.75"/><rect x="66.9" y="615.0" width="0.5" height="0.5" fill="#3040a6" opacity="0.75"/><rect x="75.3" y="608.6" width="0.5" height="0.5" fill="#3040a6" opacity="0.75"/><rect x="58.5" y="613.2" width="0.5" height="0.5" fill="#3040a6" opacity="0.75"/><rect x="64.7" y="612.4" width="0.5" height="0.5" fill="#3040a6" opacity="0.75"/><rect x="76.0" y="604.8" width="0.5" height="0.5" fill="#3040a6" opacity="0.75"/><rect x="64.2" y="611.0" width="0.5" height="0.5" fill="#3040a6" opacity="0.75"/><rect x="71.6" y="598.8" width="0.5" height="0.5" fill="#3040a6" opacity="0.75"/><rect x="59.2" y="609.7" width="0.5" height="0.5" fill="#3040a6" opacity="0.75"/><rect x="73.4" y="596.3" width="0.5" height="0.5" fill="#3040a6" opacity="0.75"/><rect x="62.3" y="609.2" width="0.5" height="0.5" fill="#3040a6" opacity="0.75"/><rect x="64.5" y="606.9" width="0.5" height="0.5" fill="#3040a6" opacity="0.75"/><rect x="71.3" y="602.3" width="0.5" height="0.5" fill="#3040a6" opacity="0.75"/><rect x="71.3" y="603.5" width="0.5" height="0.5" fill="#3040a6" opacity="0.75"/><rect x="64.2" y="611.8" width="0.5" height="0.5" fill="#3040a6" opacity="0.75"/><rect x="64.0" y="610.0" width="0.5" height="0.5" fill="#3040a6" opacity="0.75"/><rect x="79.2" y="608.2" width="0.5" height="0.5" fill="#3040a6" opacity="0.75"/><rect x="67.0" y="613.1" width="0.5" height="0.5" fill="#3040a6" opacity="0.75"/><rect x="59.0" y="612.3" width="0.5" height="0.5" fill="#3040a6" opacity="0.75"/><rect x="64.4" y="602.4" width="0.5" height="0.5" fill="#3040a6" opacity="0.75"/><rect x="80.4" y="602.0" width="0.5" height="0.5" fill="#3040a6" opacity="0.75"/><rect x="80.3" y="612.6" width="0.5" height="0.5" fill="#3040a6" opacity="0.75"/><rect x="78.2" y="601.2" width="0.5" height="0.5" fill="#3040a6" opacity="0.75"/><rect x="67.2" y="607.1" width="0.5" height="0.5" fill="#3040a6" opacity="0.75"/><rect x="85.2" y="609.2" width="0.5" height="0.5" fill="#3040a6" opacity="0.75"/><rect x="65.0" y="603.6" width="0.5" height="0.5" fill="#3040a6" opacity="0.75"/><rect x="71.1" y="610.3" width="0.5" height="0.5" fill="#3040a6" opacity="0.75"/><rect x="65.7" y="611.3" width="0.5" height="0.5" fill="#3040a6" opacity="0.75"/><rect x="78.2" y="601.0" width="0.5" height="0.5" fill="#3040a6" opacity="0.75"/><rect x="58.5" y="600.3" width="0.5" height="0.5" fill="#3040a6" opacity="0.75"/><rect x="60.7" y="595.1" width="0.5" height="0.5" fill="#3040a6" opacity="0.75"/><rect x="71.2" y="595.0" width="0.5" height="0.5" fill="#3040a6" opacity="0.75"/><rect x="56.7" y="605.8" width="0.5" height="0.5" fill="#3040a6" opacity="0.75"/><rect x="54.6" y="613.5" width="0.5" height="0.5" fill="#3040a6" opacity="0.75"/><rect x="62.8" y="606.1" width="0.5" height="0.5" fill="#3040a6" opacity="0.75"/><rect x="68.4" y="611.8" width="0.5" height="0.5" fill="#3040a6" opacity="0.75"/><rect x="65.6" y="608.1" width="0.5" height="0.5" fill="#3040a6" opacity="0.75"/><rect x="64.2" y="608.8" width="0.5" height="0.5" fill="#3040a6" opacity="0.75"/><rect x="59.8" y="608.4" width="0.5" height="0.5" fill="#3040a6" opacity="0.75"/><rect x="54.5" y="604.6" width="0.5" height="0.5" fill="#3040a6" opacity="0.75"/><rect x="81.4" y="608.6" width="0.5" height="0.5" fill="#3040a6" opacity="0.75"/><rect x="59.2" y="609.8" width="0.5" height="0.5" fill="#3040a6" opacity="0.75"/><rect x="61.2" y="596.4" width="0.5" height="0.5" fill="#3040a6" opacity="0.75"/><rect x="62.8" y="613.2" width="0.5" height="0.5" fill="#3040a6" opacity="0.75"/><rect x="70.7" y="607.3" width="0.5" height="0.5" fill="#3040a6" opacity="0.75"/><rect x="61.5" y="600.4" width="0.5" height="0.5" fill="#3040a6" opacity="0.75"/><rect x="77.4" y="609.7" width="0.5" height="0.5" fill="#3040a6" opacity="0.75"/><rect x="61.3" y="593.2" width="0.5" height="0.5" fill="#3040a6" opacity="0.75"/><rect x="60.0" y="607.5" width="0.5" height="0.5" fill="#3040a6" opacity="0.75"/><rect x="69.5" y="606.9" width="0.5" height="0.5" fill="#3040a6" opacity="0.75"/><rect x="66.1" y="598.4" width="0.5" height="0.5" fill="#3040a6" opacity="0.75"/><rect x="62.7" y="613.9" width="0.5" height="0.5" fill="#3040a6" opacity="0.75"/><rect x="56.1" y="606.1" width="0.5" height="0.5" fill="#3040a6" opacity="0.75"/><rect x="60.1" y="612.2" width="0.5" height="0.5" fill="#3040a6" opacity="0.75"/><rect x="70.7" y="602.8" width="0.5" height="0.5" fill="#3040a6" opacity="0.75"/><rect x="71.3" y="601.7" width="0.5" height="0.5" fill="#3040a6" opacity="0.75"/><rect x="62.4" y="607.9" width="0.5" height="0.5" fill="#3040a6" opacity="0.75"/><rect x="49.0" y="607.2" width="0.5" height="0.5" fill="#3040a6" opacity="0.75"/><rect x="61.0" y="597.8" width="0.5" height="0.5" fill="#3040a6" opacity="0.75"/><rect x="65.0" y="613.3" width="0.5" height="0.5" fill="#3040a6" opacity="0.75"/><rect x="59.9" y="598.8" width="0.5" height="0.5" fill="#3040a6" opacity="0.75"/><rect x="78.9" y="610.8" width="0.5" height="0.5" fill="#3040a6" opacity="0.75"/><rect x="74.6" y="602.2" width="0.5" height="0.5" fill="#3040a6" opacity="0.75"/><rect x="73.6" y="609.8" width="0.5" height="0.5" fill="#3040a6" opacity="0.75"/><rect x="72.5" y="608.2" width="0.5" height="0.5" fill="#3040a6" opacity="0.75"/><rect x="76.4" y="603.5" width="0.5" height="0.5" fill="#3040a6" opacity="0.75"/><rect x="61.3" y="597.7" width="0.5" height="0.5" fill="#3040a6" opacity="0.75"/><rect x="76.1" y="602.8" width="0.5" height="0.5" fill="#3040a6" opacity="0.75"/><rect x="60.7" y="601.4" width="0.5" height="0.5" fill="#3040a6" opacity="0.75"/><rect x="64.9" y="599.1" width="0.5" height="0.5" fill="#3040a6" opacity="0.75"/><rect x="66.0" y="603.6" width="0.5" height="0.5" fill="#3040a6" opacity="0.75"/><rect x="64.1" y="601.3" width="0.5" height="0.5" fill="#3040a6" opacity="0.75"/><rect x="68.3" y="604.8" width="0.5" height="0.5" fill="#3040a6" opacity="0.75"/><rect x="68.8" y="609.7" width="0.5" height="0.5" fill="#3040a6" opacity="0.75"/><rect x="70.4" y="592.7" width="0.5" height="0.5" fill="#3040a6" opacity="0.75"/><rect x="64.3" y="602.4" width="0.5" height="0.5" fill="#3040a6" opacity="0.75"/><rect x="73.4" y="597.0" width="0.5" height="0.5" fill="#3040a6" opacity="0.75"/><rect x="63.0" y="605.9" width="0.5" height="0.5" fill="#3040a6" opacity="0.75"/><rect x="65.6" y="614.9" width="0.5" height="0.5" fill="#3040a6" opacity="0.75"/><rect x="64.9" y="614.8" width="0.5" height="0.5" fill="#3040a6" opacity="0.75"/><rect x="57.7" y="595.3" width="0.5" height="0.5" fill="#3040a6" opacity="0.75"/><rect x="76.5" y="611.0" width="0.5" height="0.5" fill="#3040a6" opacity="0.75"/><rect x="71.4" y="608.9" width="0.5" height="0.5" fill="#3040a6" opacity="0.75"/><rect x="71.4" y="599.5" width="0.5" height="0.5" fill="#3040a6" opacity="0.75"/><rect x="74.6" y="604.3" width="0.5" height="0.5" fill="#3040a6" opacity="0.75"/><rect x="74.9" y="608.6" width="0.5" height="0.5" fill="#3040a6" opacity="0.75"/><rect x="54.2" y="599.0" width="0.5" height="0.5" fill="#3040a6" opacity="0.75"/><rect x="75.9" y="607.0" width="0.5" height="0.5" fill="#3040a6" opacity="0.75"/><rect x="65.2" y="609.7" width="0.5" height="0.5" fill="#3040a6" opacity="0.75"/><rect x="65.0" y="604.2" width="0.5" height="0.5" fill="#3040a6" opacity="0.75"/><rect x="68.7" y="609.0" width="0.5" height="0.5" fill="#3040a6" opacity="0.75"/><rect x="78.6" y="608.3" width="0.5" height="0.5" fill="#3040a6" opacity="0.75"/><rect x="68.9" y="609.0" width="0.5" height="0.5" fill="#3040a6" opacity="0.75"/><rect x="67.0" y="602.9" width="0.5" height="0.5" fill="#3040a6" opacity="0.75"/><rect x="67.5" y="603.5" width="0.5" height="0.5" fill="#3040a6" opacity="0.75"/><rect x="79.5" y="611.7" width="0.5" height="0.5" fill="#3040a6" opacity="0.75"/><rect x="64.9" y="594.6" width="0.5" height="0.5" fill="#3040a6" opacity="0.75"/><rect x="67.6" y="605.1" width="0.5" height="0.5" fill="#3040a6" opacity="0.75"/><rect x="60.4" y="600.0" width="0.5" height="0.5" fill="#3040a6" opacity="0.75"/><rect x="52.2" y="612.0" width="0.5" height="0.5" fill="#3040a6" opacity="0.75"/><rect x="67.8" y="607.0" width="0.5" height="0.5" fill="#3040a6" opacity="0.75"/><rect x="78.1" y="608.9" width="0.5" height="0.5" fill="#3040a6" opacity="0.75"/><rect x="69.2" y="605.4" width="0.5" height="0.5" fill="#3040a6" opacity="0.75"/><rect x="65.6" y="608.2" width="0.5" height="0.5" fill="#3040a6" opacity="0.75"/><rect x="61.8" y="614.8" width="0.5" height="0.5" fill="#3040a6" opacity="0.75"/><rect x="58.2" y="612.0" width="0.5" height="0.5" fill="#3040a6" opacity="0.75"/><rect x="63.0" y="602.7" width="0.5" height="0.5" fill="#3040a6" opacity="0.75"/><rect x="79.5" y="603.8" width="0.5" height="0.5" fill="#3040a6" opacity="0.75"/><rect x="62.7" y="605.6" width="0.5" height="0.5" fill="#3040a6" opacity="0.75"/><rect x="64.2" y="595.4" width="0.5" height="0.5" fill="#3040a6" opacity="0.75"/><rect x="81.1" y="606.1" width="0.5" height="0.5" fill="#3040a6" opacity="0.75"/><rect x="63.2" y="604.4" width="0.5" height="0.5" fill="#3040a6" opacity="0.75"/><rect x="54.8" y="614.4" width="0.5" height="0.5" fill="#3040a6" opacity="0.75"/><rect x="56.0" y="599.1" width="0.5" height="0.5" fill="#3040a6" opacity="0.75"/><rect x="70.0" y="602.7" width="0.5" height="0.5" fill="#3040a6" opacity="0.75"/><rect x="73.5" y="608.1" width="0.5" height="0.5" fill="#3040a6" opacity="0.75"/><rect x="59.8" y="612.4" width="0.5" height="0.5" fill="#3040a6" opacity="0.75"/><rect x="73.9" y="594.6" width="0.5" height="0.5" fill="#3040a6" opacity="0.75"/><rect x="80.8" y="611.5" width="0.5" height="0.5" fill="#3040a6" opacity="0.75"/><rect x="97.1" y="587.0" width="0.5" height="0.5" fill="#3848b0" opacity="0.65"/><rect x="85.2" y="597.6" width="0.5" height="0.5" fill="#3848b0" opacity="0.65"/><rect x="99.6" y="589.8" width="0.5" height="0.5" fill="#3848b0" opacity="0.65"/><rect x="83.9" y="585.8" width="0.5" height="0.5" fill="#3848b0" opacity="0.65"/><rect x="89.1" y="602.4" width="0.5" height="0.5" fill="#3848b0" opacity="0.65"/><rect x="77.5" y="595.9" width="0.5" height="0.5" fill="#3848b0" opacity="0.65"/><rect x="95.1" y="611.1" width="0.5" height="0.5" fill="#3848b0" opacity="0.65"/><rect x="96.3" y="597.9" width="0.5" height="0.5" fill="#3848b0" opacity="0.65"/><rect x="81.6" y="593.4" width="0.5" height="0.5" fill="#3848b0" opacity="0.65"/><rect x="85.7" y="601.0" width="0.5" height="0.5" fill="#3848b0" opacity="0.65"/><rect x="90.6" y="611.7" width="0.5" height="0.5" fill="#3848b0" opacity="0.65"/><rect x="93.3" y="592.5" width="0.5" height="0.5" fill="#3848b0" opacity="0.65"/><rect x="103.4" y="606.6" width="0.5" height="0.5" fill="#3848b0" opacity="0.65"/><rect x="91.8" y="595.0" width="0.5" height="0.5" fill="#3848b0" opacity="0.65"/><rect x="76.0" y="592.8" width="0.5" height="0.5" fill="#3848b0" opacity="0.65"/><rect x="98.3" y="594.4" width="0.5" height="0.5" fill="#3848b0" opacity="0.65"/><rect x="80.4" y="601.4" width="0.5" height="0.5" fill="#3848b0" opacity="0.65"/><rect x="93.0" y="604.2" width="0.5" height="0.5" fill="#3848b0" opacity="0.65"/><rect x="96.2" y="609.9" width="0.5" height="0.5" fill="#3848b0" opacity="0.65"/><rect x="84.3" y="606.9" width="0.5" height="0.5" fill="#3848b0" opacity="0.65"/><rect x="83.1" y="604.9" width="0.5" height="0.5" fill="#3848b0" opacity="0.65"/><rect x="92.4" y="601.7" width="0.5" height="0.5" fill="#3848b0" opacity="0.65"/><rect x="98.7" y="599.9" width="0.5" height="0.5" fill="#3848b0" opacity="0.65"/><rect x="99.9" y="606.1" width="0.5" height="0.5" fill="#3848b0" opacity="0.65"/><rect x="92.1" y="596.0" width="0.5" height="0.5" fill="#3848b0" opacity="0.65"/><rect x="85.0" y="596.3" width="0.5" height="0.5" fill="#3848b0" opacity="0.65"/><rect x="89.4" y="599.8" width="0.5" height="0.5" fill="#3848b0" opacity="0.65"/><rect x="114.8" y="604.5" width="0.5" height="0.5" fill="#3848b0" opacity="0.65"/><rect x="97.2" y="594.0" width="0.5" height="0.5" fill="#3848b0" opacity="0.65"/><rect x="85.3" y="597.8" width="0.5" height="0.5" fill="#3848b0" opacity="0.65"/><rect x="92.5" y="592.7" width="0.5" height="0.5" fill="#3848b0" opacity="0.65"/><rect x="103.9" y="596.1" width="0.5" height="0.5" fill="#3848b0" opacity="0.65"/><rect x="99.6" y="583.6" width="0.5" height="0.5" fill="#3848b0" opacity="0.65"/><rect x="90.9" y="601.9" width="0.5" height="0.5" fill="#3848b0" opacity="0.65"/><rect x="92.5" y="604.2" width="0.5" height="0.5" fill="#3848b0" opacity="0.65"/><rect x="93.2" y="601.1" width="0.5" height="0.5" fill="#3848b0" opacity="0.65"/><rect x="75.9" y="595.0" width="0.5" height="0.5" fill="#3848b0" opacity="0.65"/><rect x="72.3" y="604.4" width="0.5" height="0.5" fill="#3848b0" opacity="0.65"/><rect x="93.5" y="598.6" width="0.5" height="0.5" fill="#3848b0" opacity="0.65"/><rect x="84.4" y="595.9" width="0.5" height="0.5" fill="#3848b0" opacity="0.65"/><rect x="105.8" y="612.1" width="0.5" height="0.5" fill="#3848b0" opacity="0.65"/><rect x="90.5" y="609.0" width="0.5" height="0.5" fill="#3848b0" opacity="0.65"/><rect x="78.3" y="586.5" width="0.5" height="0.5" fill="#3848b0" opacity="0.65"/><rect x="87.1" y="593.9" width="0.5" height="0.5" fill="#3848b0" opacity="0.65"/><rect x="86.5" y="601.3" width="0.5" height="0.5" fill="#3848b0" opacity="0.65"/><rect x="91.4" y="601.9" width="0.5" height="0.5" fill="#3848b0" opacity="0.65"/><rect x="90.7" y="606.5" width="0.5" height="0.5" fill="#3848b0" opacity="0.65"/><rect x="105.2" y="591.3" width="0.5" height="0.5" fill="#3848b0" opacity="0.65"/><rect x="92.3" y="598.1" width="0.5" height="0.5" fill="#3848b0" opacity="0.65"/><rect x="93.9" y="589.3" width="0.5" height="0.5" fill="#3848b0" opacity="0.65"/><rect x="76.9" y="583.8" width="0.5" height="0.5" fill="#3848b0" opacity="0.65"/><rect x="95.2" y="601.3" width="0.5" height="0.5" fill="#3848b0" opacity="0.65"/><rect x="91.6" y="583.4" width="0.5" height="0.5" fill="#3848b0" opacity="0.65"/><rect x="88.0" y="594.7" width="0.5" height="0.5" fill="#3848b0" opacity="0.65"/><rect x="79.7" y="593.6" width="0.5" height="0.5" fill="#3848b0" opacity="0.65"/><rect x="96.6" y="603.8" width="0.5" height="0.5" fill="#3848b0" opacity="0.65"/><rect x="90.8" y="603.6" width="0.5" height="0.5" fill="#3848b0" opacity="0.65"/><rect x="86.2" y="600.5" width="0.5" height="0.5" fill="#3848b0" opacity="0.65"/><rect x="91.3" y="603.9" width="0.5" height="0.5" fill="#3848b0" opacity="0.65"/><rect x="90.4" y="599.0" width="0.5" height="0.5" fill="#3848b0" opacity="0.65"/><rect x="89.9" y="595.5" width="0.5" height="0.5" fill="#3848b0" opacity="0.65"/><rect x="108.9" y="603.6" width="0.5" height="0.5" fill="#3848b0" opacity="0.65"/><rect x="102.2" y="589.1" width="0.5" height="0.5" fill="#3848b0" opacity="0.65"/><rect x="96.6" y="605.9" width="0.5" height="0.5" fill="#3848b0" opacity="0.65"/><rect x="106.1" y="609.2" width="0.5" height="0.5" fill="#3848b0" opacity="0.65"/><rect x="97.2" y="591.8" width="0.5" height="0.5" fill="#3848b0" opacity="0.65"/><rect x="84.0" y="601.9" width="0.5" height="0.5" fill="#3848b0" opacity="0.65"/><rect x="95.0" y="592.8" width="0.5" height="0.5" fill="#3848b0" opacity="0.65"/><rect x="87.9" y="597.2" width="0.5" height="0.5" fill="#3848b0" opacity="0.65"/><rect x="91.5" y="602.4" width="0.5" height="0.5" fill="#3848b0" opacity="0.65"/><rect x="88.7" y="591.3" width="0.5" height="0.5" fill="#3848b0" opacity="0.65"/><rect x="100.9" y="611.2" width="0.5" height="0.5" fill="#3848b0" opacity="0.65"/><rect x="90.2" y="607.2" width="0.5" height="0.5" fill="#3848b0" opacity="0.65"/><rect x="94.6" y="604.6" width="0.5" height="0.5" fill="#3848b0" opacity="0.65"/><rect x="94.9" y="594.7" width="0.5" height="0.5" fill="#3848b0" opacity="0.65"/><rect x="95.6" y="607.1" width="0.5" height="0.5" fill="#3848b0" opacity="0.65"/><rect x="83.8" y="613.8" width="0.5" height="0.5" fill="#3848b0" opacity="0.65"/><rect x="107.7" y="612.8" width="0.5" height="0.5" fill="#3848b0" opacity="0.65"/><rect x="106.9" y="605.2" width="0.5" height="0.5" fill="#3848b0" opacity="0.65"/><rect x="88.3" y="595.8" width="0.5" height="0.5" fill="#3848b0" opacity="0.65"/><rect x="84.5" y="600.8" width="0.5" height="0.5" fill="#3848b0" opacity="0.65"/><rect x="90.7" y="604.7" width="0.5" height="0.5" fill="#3848b0" opacity="0.65"/><rect x="109.2" y="599.8" width="0.5" height="0.5" fill="#3848b0" opacity="0.65"/><rect x="96.4" y="603.3" width="0.5" height="0.5" fill="#3848b0" opacity="0.65"/><rect x="93.2" y="598.5" width="0.5" height="0.5" fill="#3848b0" opacity="0.65"/><rect x="90.0" y="594.2" width="0.5" height="0.5" fill="#3848b0" opacity="0.65"/><rect x="92.4" y="599.8" width="0.5" height="0.5" fill="#3848b0" opacity="0.65"/><rect x="93.6" y="594.0" width="0.5" height="0.5" fill="#3848b0" opacity="0.65"/><rect x="91.3" y="600.3" width="0.5" height="0.5" fill="#3848b0" opacity="0.65"/><rect x="95.8" y="592.6" width="0.5" height="0.5" fill="#3848b0" opacity="0.65"/><rect x="94.4" y="606.9" width="0.5" height="0.5" fill="#3848b0" opacity="0.65"/><rect x="95.8" y="597.4" width="0.5" height="0.5" fill="#3848b0" opacity="0.65"/><rect x="87.1" y="598.3" width="0.5" height="0.5" fill="#3848b0" opacity="0.65"/><rect x="96.8" y="610.9" width="0.5" height="0.5" fill="#3848b0" opacity="0.65"/><rect x="89.7" y="595.5" width="0.5" height="0.5" fill="#3848b0" opacity="0.65"/><rect x="94.0" y="601.4" width="0.5" height="0.5" fill="#3848b0" opacity="0.65"/><rect x="83.7" y="594.8" width="0.5" height="0.5" fill="#3848b0" opacity="0.65"/><rect x="90.2" y="604.7" width="0.5" height="0.5" fill="#3848b0" opacity="0.65"/><rect x="81.5" y="592.9" width="0.5" height="0.5" fill="#3848b0" opacity="0.65"/><rect x="95.0" y="591.4" width="0.5" height="0.5" fill="#3848b0" opacity="0.65"/><rect x="91.9" y="602.5" width="0.5" height="0.5" fill="#3848b0" opacity="0.65"/><rect x="90.1" y="592.9" width="0.5" height="0.5" fill="#3848b0" opacity="0.65"/><rect x="90.5" y="597.7" width="0.5" height="0.5" fill="#3848b0" opacity="0.65"/><rect x="93.7" y="594.1" width="0.5" height="0.5" fill="#3848b0" opacity="0.65"/><rect x="99.7" y="588.3" width="0.5" height="0.5" fill="#3848b0" opacity="0.65"/><rect x="89.6" y="600.1" width="0.5" height="0.5" fill="#3848b0" opacity="0.65"/><rect x="98.7" y="595.7" width="0.5" height="0.5" fill="#3848b0" opacity="0.65"/><rect x="95.4" y="596.0" width="0.5" height="0.5" fill="#3848b0" opacity="0.65"/><rect x="96.9" y="612.2" width="0.5" height="0.5" fill="#3848b0" opacity="0.65"/><rect x="87.8" y="603.1" width="0.5" height="0.5" fill="#3848b0" opacity="0.65"/><rect x="83.6" y="606.8" width="0.5" height="0.5" fill="#3848b0" opacity="0.65"/><rect x="100.7" y="600.2" width="0.5" height="0.5" fill="#3848b0" opacity="0.65"/><rect x="81.9" y="602.8" width="0.5" height="0.5" fill="#3848b0" opacity="0.65"/><rect x="100.2" y="607.6" width="0.5" height="0.5" fill="#3848b0" opacity="0.65"/><rect x="97.5" y="587.2" width="0.5" height="0.5" fill="#3848b0" opacity="0.65"/><rect x="85.6" y="610.0" width="0.5" height="0.5" fill="#3848b0" opacity="0.65"/><rect x="81.2" y="607.9" width="0.5" height="0.5" fill="#3848b0" opacity="0.65"/><rect x="106.1" y="605.3" width="0.5" height="0.5" fill="#3848b0" opacity="0.65"/><rect x="100.0" y="597.7" width="0.5" height="0.5" fill="#3848b0" opacity="0.65"/><rect x="81.2" y="599.3" width="0.5" height="0.5" fill="#3848b0" opacity="0.65"/><rect x="89.4" y="599.7" width="0.5" height="0.5" fill="#3848b0" opacity="0.65"/><rect x="96.6" y="599.0" width="0.5" height="0.5" fill="#3848b0" opacity="0.65"/><rect x="92.5" y="603.0" width="0.5" height="0.5" fill="#3848b0" opacity="0.65"/><rect x="91.0" y="612.9" width="0.5" height="0.5" fill="#3848b0" opacity="0.65"/><rect x="94.5" y="600.6" width="0.5" height="0.5" fill="#3848b0" opacity="0.65"/><rect x="89.3" y="595.6" width="0.5" height="0.5" fill="#3848b0" opacity="0.65"/><rect x="101.8" y="601.1" width="0.5" height="0.5" fill="#3848b0" opacity="0.65"/><rect x="82.4" y="596.1" width="0.5" height="0.5" fill="#3848b0" opacity="0.65"/><rect x="89.9" y="596.9" width="0.5" height="0.5" fill="#3848b0" opacity="0.65"/><rect x="99.7" y="591.9" width="0.5" height="0.5" fill="#3848b0" opacity="0.65"/><rect x="94.9" y="601.0" width="0.5" height="0.5" fill="#3848b0" opacity="0.65"/><rect x="81.6" y="600.3" width="0.5" height="0.5" fill="#3848b0" opacity="0.65"/><rect x="90.2" y="603.5" width="0.5" height="0.5" fill="#3848b0" opacity="0.65"/><rect x="87.4" y="602.1" width="0.5" height="0.5" fill="#3848b0" opacity="0.65"/><rect x="77.7" y="592.4" width="0.5" height="0.5" fill="#3848b0" opacity="0.65"/><rect x="97.3" y="607.3" width="0.5" height="0.5" fill="#3848b0" opacity="0.65"/><rect x="90.9" y="595.8" width="0.5" height="0.5" fill="#3848b0" opacity="0.65"/><rect x="99.7" y="585.4" width="0.5" height="0.5" fill="#3848b0" opacity="0.65"/><rect x="84.6" y="604.7" width="0.5" height="0.5" fill="#3848b0" opacity="0.65"/><rect x="96.2" y="592.8" width="0.5" height="0.5" fill="#3848b0" opacity="0.65"/><rect x="75.9" y="610.2" width="0.5" height="0.5" fill="#3848b0" opacity="0.65"/><rect x="92.2" y="593.7" width="0.5" height="0.5" fill="#3848b0" opacity="0.65"/><rect x="91.4" y="606.3" width="0.5" height="0.5" fill="#3848b0" opacity="0.65"/><rect x="70.3" y="607.8" width="0.5" height="0.5" fill="#3848b0" opacity="0.65"/><rect x="96.9" y="585.4" width="0.5" height="0.5" fill="#3848b0" opacity="0.65"/><rect x="97.2" y="587.5" width="0.5" height="0.5" fill="#3848b0" opacity="0.65"/><rect x="100.1" y="602.8" width="0.5" height="0.5" fill="#3848b0" opacity="0.65"/><rect x="109.0" y="595.7" width="0.5" height="0.5" fill="#3848b0" opacity="0.65"/><rect x="91.0" y="607.3" width="0.5" height="0.5" fill="#3848b0" opacity="0.65"/><rect x="85.9" y="595.1" width="0.5" height="0.5" fill="#3848b0" opacity="0.65"/><rect x="88.0" y="599.5" width="0.5" height="0.5" fill="#3848b0" opacity="0.65"/><rect x="82.3" y="603.4" width="0.5" height="0.5" fill="#3848b0" opacity="0.65"/><rect x="95.3" y="600.5" width="0.5" height="0.5" fill="#3848b0" opacity="0.65"/><rect x="104.6" y="597.7" width="0.5" height="0.5" fill="#3848b0" opacity="0.65"/><rect x="101.5" y="596.2" width="0.5" height="0.5" fill="#3848b0" opacity="0.65"/><rect x="97.0" y="586.5" width="0.5" height="0.5" fill="#3848b0" opacity="0.65"/><rect x="92.6" y="598.8" width="0.5" height="0.5" fill="#3848b0" opacity="0.65"/><rect x="87.0" y="595.7" width="0.5" height="0.5" fill="#3848b0" opacity="0.65"/><rect x="88.2" y="595.0" width="0.5" height="0.5" fill="#3848b0" opacity="0.65"/><rect x="73.5" y="595.8" width="0.5" height="0.5" fill="#3848b0" opacity="0.65"/><rect x="86.6" y="596.3" width="0.5" height="0.5" fill="#3848b0" opacity="0.65"/><rect x="82.5" y="599.1" width="0.5" height="0.5" fill="#3848b0" opacity="0.65"/><rect x="97.3" y="598.2" width="0.5" height="0.5" fill="#3848b0" opacity="0.65"/><rect x="87.1" y="609.5" width="0.5" height="0.5" fill="#3848b0" opacity="0.65"/><rect x="98.8" y="606.5" width="0.5" height="0.5" fill="#3848b0" opacity="0.65"/><rect x="100.2" y="597.7" width="0.5" height="0.5" fill="#3848b0" opacity="0.65"/><rect x="90.0" y="607.8" width="0.5" height="0.5" fill="#3848b0" opacity="0.65"/><rect x="86.6" y="599.2" width="0.5" height="0.5" fill="#3848b0" opacity="0.65"/><rect x="94.0" y="602.6" width="0.5" height="0.5" fill="#3848b0" opacity="0.65"/><rect x="88.8" y="606.9" width="0.5" height="0.5" fill="#3848b0" opacity="0.65"/><rect x="89.6" y="605.1" width="0.5" height="0.5" fill="#3848b0" opacity="0.65"/><rect x="99.6" y="604.6" width="0.5" height="0.5" fill="#3848b0" opacity="0.65"/><rect x="96.9" y="591.9" width="0.5" height="0.5" fill="#3848b0" opacity="0.65"/><rect x="80.5" y="595.7" width="0.5" height="0.5" fill="#3848b0" opacity="0.65"/><rect x="94.8" y="610.5" width="0.5" height="0.5" fill="#3848b0" opacity="0.65"/><rect x="81.2" y="602.1" width="0.5" height="0.5" fill="#3848b0" opacity="0.65"/><rect x="84.2" y="594.9" width="0.5" height="0.5" fill="#3848b0" opacity="0.65"/><rect x="88.8" y="604.8" width="0.5" height="0.5" fill="#3848b0" opacity="0.65"/><rect x="92.7" y="608.3" width="0.5" height="0.5" fill="#3848b0" opacity="0.65"/><rect x="83.1" y="606.2" width="0.5" height="0.5" fill="#3848b0" opacity="0.65"/><rect x="98.4" y="600.5" width="0.5" height="0.5" fill="#3848b0" opacity="0.65"/><rect x="94.8" y="596.1" width="0.5" height="0.5" fill="#3848b0" opacity="0.65"/><rect x="82.3" y="597.2" width="0.5" height="0.5" fill="#3848b0" opacity="0.65"/><rect x="87.1" y="611.6" width="0.5" height="0.5" fill="#3848b0" opacity="0.65"/><rect x="92.6" y="602.2" width="0.5" height="0.5" fill="#3848b0" opacity="0.65"/><rect x="96.9" y="594.5" width="0.5" height="0.5" fill="#3848b0" opacity="0.65"/><rect x="98.3" y="602.6" width="0.5" height="0.5" fill="#3848b0" opacity="0.65"/><rect x="78.9" y="604.2" width="0.5" height="0.5" fill="#3848b0" opacity="0.65"/><rect x="95.4" y="603.2" width="0.5" height="0.5" fill="#3848b0" opacity="0.65"/><rect x="103.7" y="597.1" width="0.5" height="0.5" fill="#3848b0" opacity="0.65"/><rect x="95.1" y="605.2" width="0.5" height="0.5" fill="#3848b0" opacity="0.65"/><rect x="83.8" y="608.4" width="0.5" height="0.5" fill="#3848b0" opacity="0.65"/><rect x="79.4" y="590.9" width="0.5" height="0.5" fill="#3848b0" opacity="0.65"/><rect x="95.2" y="592.4" width="0.5" height="0.5" fill="#3848b0" opacity="0.65"/><rect x="90.1" y="588.5" width="0.5" height="0.5" fill="#3848b0" opacity="0.65"/><rect x="91.6" y="592.1" width="0.5" height="0.5" fill="#3848b0" opacity="0.65"/><rect x="93.7" y="589.3" width="0.5" height="0.5" fill="#3848b0" opacity="0.65"/><rect x="94.6" y="598.1" width="0.5" height="0.5" fill="#3848b0" opacity="0.65"/><rect x="91.5" y="599.5" width="0.5" height="0.5" fill="#3848b0" opacity="0.65"/><rect x="92.0" y="590.8" width="0.5" height="0.5" fill="#3848b0" opacity="0.65"/><rect x="70.5" y="600.2" width="0.5" height="0.5" fill="#3848b0" opacity="0.65"/><rect x="83.5" y="596.8" width="0.5" height="0.5" fill="#3848b0" opacity="0.65"/><rect x="94.4" y="586.1" width="0.5" height="0.5" fill="#3848b0" opacity="0.65"/><rect x="84.9" y="595.7" width="0.5" height="0.5" fill="#3848b0" opacity="0.65"/><rect x="82.5" y="602.3" width="0.5" height="0.5" fill="#3848b0" opacity="0.65"/><rect x="89.9" y="594.3" width="0.5" height="0.5" fill="#3848b0" opacity="0.65"/><rect x="83.1" y="605.7" width="0.5" height="0.5" fill="#3848b0" opacity="0.65"/><rect x="85.7" y="604.1" width="0.5" height="0.5" fill="#3848b0" opacity="0.65"/><rect x="94.6" y="586.7" width="0.5" height="0.5" fill="#3848b0" opacity="0.65"/><rect x="82.3" y="600.0" width="0.5" height="0.5" fill="#3848b0" opacity="0.65"/><rect x="93.7" y="605.5" width="0.5" height="0.5" fill="#3848b0" opacity="0.65"/><rect x="97.4" y="607.2" width="0.5" height="0.5" fill="#3848b0" opacity="0.65"/><rect x="88.0" y="598.5" width="0.5" height="0.5" fill="#3848b0" opacity="0.65"/><rect x="97.2" y="597.0" width="0.5" height="0.5" fill="#3848b0" opacity="0.65"/><rect x="99.5" y="588.9" width="0.5" height="0.5" fill="#3848b0" opacity="0.65"/><rect x="96.2" y="598.8" width="0.5" height="0.5" fill="#3848b0" opacity="0.65"/><rect x="75.3" y="606.9" width="0.5" height="0.5" fill="#3848b0" opacity="0.65"/><rect x="93.5" y="600.1" width="0.5" height="0.5" fill="#3848b0" opacity="0.65"/><rect x="82.4" y="596.7" width="0.5" height="0.5" fill="#3848b0" opacity="0.65"/><rect x="103.1" y="594.2" width="0.5" height="0.5" fill="#3848b0" opacity="0.65"/><rect x="63.2" y="594.0" width="0.5" height="0.5" fill="#3848b0" opacity="0.65"/><rect x="81.4" y="599.1" width="0.5" height="0.5" fill="#3848b0" opacity="0.65"/><rect x="87.9" y="593.6" width="0.5" height="0.5" fill="#3848b0" opacity="0.65"/><rect x="84.3" y="607.3" width="0.5" height="0.5" fill="#3848b0" opacity="0.65"/><rect x="79.5" y="613.7" width="0.5" height="0.5" fill="#3848b0" opacity="0.65"/><rect x="86.6" y="592.4" width="0.5" height="0.5" fill="#3848b0" opacity="0.65"/><rect x="97.3" y="603.9" width="0.5" height="0.5" fill="#3848b0" opacity="0.65"/><rect x="82.7" y="605.2" width="0.5" height="0.5" fill="#3848b0" opacity="0.65"/><rect x="76.3" y="593.5" width="0.5" height="0.5" fill="#3848b0" opacity="0.65"/><rect x="100.0" y="598.2" width="0.5" height="0.5" fill="#3848b0" opacity="0.65"/><rect x="80.6" y="603.6" width="0.5" height="0.5" fill="#3848b0" opacity="0.65"/><rect x="98.3" y="599.8" width="0.5" height="0.5" fill="#3848b0" opacity="0.65"/><rect x="76.5" y="597.6" width="0.5" height="0.5" fill="#3848b0" opacity="0.65"/><rect x="94.3" y="605.4" width="0.5" height="0.5" fill="#3848b0" opacity="0.65"/><rect x="105.8" y="598.2" width="0.5" height="0.5" fill="#3848b0" opacity="0.65"/><rect x="87.1" y="599.7" width="0.5" height="0.5" fill="#3848b0" opacity="0.65"/><rect x="100.6" y="593.4" width="0.5" height="0.5" fill="#3848b0" opacity="0.65"/><rect x="101.4" y="580.8" width="0.5" height="0.5" fill="#3848b0" opacity="0.65"/><rect x="97.4" y="595.3" width="0.5" height="0.5" fill="#3848b0" opacity="0.65"/><rect x="94.7" y="604.8" width="0.5" height="0.5" fill="#3848b0" opacity="0.65"/><rect x="81.5" y="599.4" width="0.5" height="0.5" fill="#3848b0" opacity="0.65"/><rect x="92.9" y="604.1" width="0.5" height="0.5" fill="#3848b0" opacity="0.65"/><rect x="83.6" y="593.1" width="0.5" height="0.5" fill="#3848b0" opacity="0.65"/><rect x="89.5" y="598.4" width="0.5" height="0.5" fill="#3848b0" opacity="0.65"/><rect x="79.0" y="606.5" width="0.5" height="0.5" fill="#3848b0" opacity="0.65"/><rect x="86.7" y="610.0" width="0.5" height="0.5" fill="#3848b0" opacity="0.65"/><rect x="97.8" y="600.1" width="0.5" height="0.5" fill="#3848b0" opacity="0.65"/><rect x="96.8" y="592.2" width="0.5" height="0.5" fill="#3848b0" opacity="0.65"/><rect x="88.4" y="596.0" width="0.5" height="0.5" fill="#3848b0" opacity="0.65"/><rect x="80.8" y="600.1" width="0.5" height="0.5" fill="#3848b0" opacity="0.65"/><rect x="89.8" y="610.0" width="0.5" height="0.5" fill="#3848b0" opacity="0.65"/><rect x="64.2" y="595.3" width="0.5" height="0.5" fill="#3848b0" opacity="0.65"/><rect x="83.7" y="596.8" width="0.5" height="0.5" fill="#3848b0" opacity="0.65"/><rect x="94.4" y="602.8" width="0.5" height="0.5" fill="#3848b0" opacity="0.65"/><rect x="91.2" y="596.7" width="0.5" height="0.5" fill="#3848b0" opacity="0.65"/><rect x="102.5" y="598.9" width="0.5" height="0.5" fill="#3848b0" opacity="0.65"/><rect x="90.8" y="593.9" width="0.5" height="0.5" fill="#3848b0" opacity="0.65"/><rect x="93.1" y="586.5" width="0.5" height="0.5" fill="#3848b0" opacity="0.65"/><rect x="100.7" y="596.5" width="0.5" height="0.5" fill="#3848b0" opacity="0.65"/><rect x="100.6" y="589.0" width="0.5" height="0.5" fill="#3848b0" opacity="0.65"/><rect x="99.0" y="588.7" width="0.5" height="0.5" fill="#3848b0" opacity="0.65"/><rect x="101.9" y="601.5" width="0.5" height="0.5" fill="#3848b0" opacity="0.65"/><rect x="108.8" y="606.1" width="0.5" height="0.5" fill="#3848b0" opacity="0.65"/><rect x="96.0" y="592.3" width="0.5" height="0.5" fill="#3848b0" opacity="0.65"/><rect x="95.3" y="598.4" width="0.5" height="0.5" fill="#3848b0" opacity="0.65"/><rect x="109.9" y="601.7" width="0.5" height="0.5" fill="#3848b0" opacity="0.65"/><rect x="89.0" y="585.9" width="0.5" height="0.5" fill="#3848b0" opacity="0.65"/><rect x="93.5" y="600.1" width="0.5" height="0.5" fill="#3848b0" opacity="0.65"/><rect x="100.0" y="598.4" width="0.5" height="0.5" fill="#3848b0" opacity="0.65"/><rect x="108.9" y="589.4" width="0.5" height="0.5" fill="#3848b0" opacity="0.65"/><rect x="95.8" y="611.7" width="0.5" height="0.5" fill="#3848b0" opacity="0.65"/><rect x="101.7" y="589.8" width="0.5" height="0.5" fill="#3848b0" opacity="0.65"/><rect x="89.9" y="583.8" width="0.5" height="0.5" fill="#3848b0" opacity="0.65"/><rect x="87.8" y="596.5" width="0.5" height="0.5" fill="#3848b0" opacity="0.65"/><rect x="100.2" y="603.9" width="0.5" height="0.5" fill="#3848b0" opacity="0.65"/><rect x="99.3" y="590.5" width="0.5" height="0.5" fill="#3848b0" opacity="0.65"/><rect x="96.3" y="611.2" width="0.5" height="0.5" fill="#3848b0" opacity="0.65"/><rect x="91.2" y="597.4" width="0.5" height="0.5" fill="#3848b0" opacity="0.65"/><rect x="100.1" y="600.9" width="0.5" height="0.5" fill="#3848b0" opacity="0.65"/><rect x="98.0" y="600.0" width="0.5" height="0.5" fill="#3848b0" opacity="0.65"/><rect x="104.1" y="594.8" width="0.5" height="0.5" fill="#3848b0" opacity="0.65"/><rect x="97.7" y="594.5" width="0.5" height="0.5" fill="#3848b0" opacity="0.65"/><rect x="95.2" y="594.3" width="0.5" height="0.5" fill="#3848b0" opacity="0.65"/><rect x="98.5" y="597.7" width="0.5" height="0.5" fill="#3848b0" opacity="0.65"/><rect x="106.7" y="606.5" width="0.5" height="0.5" fill="#3848b0" opacity="0.65"/><rect x="97.8" y="600.8" width="0.5" height="0.5" fill="#3848b0" opacity="0.65"/><rect x="101.5" y="602.1" width="0.5" height="0.5" fill="#3848b0" opacity="0.65"/><rect x="100.1" y="598.1" width="0.5" height="0.5" fill="#3848b0" opacity="0.65"/><rect x="97.7" y="589.7" width="0.5" height="0.5" fill="#3848b0" opacity="0.65"/><rect x="104.4" y="606.4" width="0.5" height="0.5" fill="#3848b0" opacity="0.65"/><rect x="103.3" y="599.5" width="0.5" height="0.5" fill="#3848b0" opacity="0.65"/><rect x="101.3" y="592.4" width="0.5" height="0.5" fill="#3848b0" opacity="0.65"/><rect x="91.1" y="601.3" width="0.5" height="0.5" fill="#3848b0" opacity="0.65"/><rect x="101.0" y="591.6" width="0.5" height="0.5" fill="#3848b0" opacity="0.65"/><rect x="95.2" y="606.2" width="0.5" height="0.5" fill="#3848b0" opacity="0.65"/><rect x="91.0" y="610.1" width="0.5" height="0.5" fill="#3848b0" opacity="0.65"/><rect x="103.2" y="615.0" width="0.5" height="0.5" fill="#3848b0" opacity="0.65"/><rect x="96.4" y="595.8" width="0.5" height="0.5" fill="#3848b0" opacity="0.65"/><rect x="97.5" y="597.2" width="0.5" height="0.5" fill="#3848b0" opacity="0.65"/><rect x="99.0" y="590.0" width="0.5" height="0.5" fill="#3848b0" opacity="0.65"/><rect x="105.4" y="589.7" width="0.5" height="0.5" fill="#3848b0" opacity="0.65"/><rect x="97.5" y="600.4" width="0.5" height="0.5" fill="#3848b0" opacity="0.65"/><rect x="97.3" y="592.5" width="0.5" height="0.5" fill="#3848b0" opacity="0.65"/><rect x="101.8" y="593.1" width="0.5" height="0.5" fill="#3848b0" opacity="0.65"/><rect x="93.8" y="595.2" width="0.5" height="0.5" fill="#3848b0" opacity="0.65"/><rect x="98.9" y="609.6" width="0.5" height="0.5" fill="#3848b0" opacity="0.65"/><rect x="94.5" y="603.8" width="0.5" height="0.5" fill="#3848b0" opacity="0.65"/><rect x="96.1" y="593.2" width="0.5" height="0.5" fill="#3848b0" opacity="0.65"/><rect x="98.4" y="598.2" width="0.5" height="0.5" fill="#3848b0" opacity="0.65"/><rect x="104.3" y="610.0" width="0.5" height="0.5" fill="#3848b0" opacity="0.65"/><rect x="96.8" y="606.6" width="0.5" height="0.5" fill="#3848b0" opacity="0.65"/><rect x="105.0" y="602.5" width="0.5" height="0.5" fill="#3848b0" opacity="0.65"/><rect x="96.2" y="603.2" width="0.5" height="0.5" fill="#3848b0" opacity="0.65"/><rect x="99.5" y="598.8" width="0.5" height="0.5" fill="#3848b0" opacity="0.65"/><rect x="98.7" y="601.3" width="0.5" height="0.5" fill="#3848b0" opacity="0.65"/><rect x="105.6" y="605.0" width="0.5" height="0.5" fill="#3848b0" opacity="0.65"/><rect x="99.0" y="604.0" width="0.5" height="0.5" fill="#3848b0" opacity="0.65"/><rect x="107.3" y="588.5" width="0.5" height="0.5" fill="#3848b0" opacity="0.65"/><rect x="107.4" y="585.3" width="0.5" height="0.5" fill="#3848b0" opacity="0.65"/><rect x="102.7" y="600.8" width="0.5" height="0.5" fill="#3848b0" opacity="0.65"/><rect x="107.4" y="598.2" width="0.5" height="0.5" fill="#3848b0" opacity="0.65"/><rect x="97.6" y="589.6" width="0.5" height="0.5" fill="#3848b0" opacity="0.65"/><rect x="93.7" y="602.1" width="0.5" height="0.5" fill="#3848b0" opacity="0.65"/><rect x="98.8" y="590.3" width="0.5" height="0.5" fill="#3848b0" opacity="0.65"/><rect x="102.7" y="589.9" width="0.5" height="0.5" fill="#3848b0" opacity="0.65"/><rect x="97.8" y="592.3" width="0.5" height="0.5" fill="#3848b0" opacity="0.65"/><rect x="108.3" y="607.7" width="0.5" height="0.5" fill="#3848b0" opacity="0.65"/><rect x="99.2" y="583.4" width="0.5" height="0.5" fill="#3848b0" opacity="0.65"/><rect x="101.4" y="596.6" width="0.5" height="0.5" fill="#3848b0" opacity="0.65"/><rect x="101.7" y="600.5" width="0.5" height="0.5" fill="#3848b0" opacity="0.65"/><rect x="98.4" y="603.4" width="0.5" height="0.5" fill="#3848b0" opacity="0.65"/><rect x="104.2" y="597.7" width="0.5" height="0.5" fill="#3848b0" opacity="0.65"/><rect x="98.0" y="592.2" width="0.5" height="0.5" fill="#3848b0" opacity="0.65"/><rect x="103.5" y="587.2" width="0.5" height="0.5" fill="#3848b0" opacity="0.65"/><rect x="99.2" y="590.0" width="0.5" height="0.5" fill="#3848b0" opacity="0.65"/><rect x="93.0" y="600.8" width="0.5" height="0.5" fill="#3848b0" opacity="0.65"/><rect x="99.9" y="596.3" width="0.5" height="0.5" fill="#3848b0" opacity="0.65"/><rect x="104.4" y="584.0" width="0.5" height="0.5" fill="#3848b0" opacity="0.65"/><rect x="99.7" y="598.3" width="0.5" height="0.5" fill="#3848b0" opacity="0.65"/><rect x="104.2" y="587.3" width="0.5" height="0.5" fill="#3848b0" opacity="0.65"/><rect x="103.6" y="597.8" width="0.5" height="0.5" fill="#3848b0" opacity="0.65"/><rect x="106.8" y="605.1" width="0.5" height="0.5" fill="#3848b0" opacity="0.65"/><rect x="102.7" y="613.2" width="0.5" height="0.5" fill="#3848b0" opacity="0.65"/><rect x="100.0" y="592.6" width="0.5" height="0.5" fill="#3848b0" opacity="0.65"/><rect x="98.3" y="588.5" width="0.5" height="0.5" fill="#3848b0" opacity="0.65"/><rect x="99.9" y="581.0" width="0.5" height="0.5" fill="#3848b0" opacity="0.65"/><rect x="99.6" y="599.4" width="0.5" height="0.5" fill="#3848b0" opacity="0.65"/><rect x="105.0" y="593.2" width="0.5" height="0.5" fill="#3848b0" opacity="0.65"/><rect x="106.9" y="590.8" width="0.5" height="0.5" fill="#3848b0" opacity="0.65"/><rect x="99.3" y="581.0" width="0.5" height="0.5" fill="#3848b0" opacity="0.65"/><rect x="96.2" y="589.7" width="0.5" height="0.5" fill="#3848b0" opacity="0.65"/><rect x="107.3" y="600.1" width="0.5" height="0.5" fill="#3848b0" opacity="0.65"/><rect x="94.6" y="600.2" width="0.5" height="0.5" fill="#3848b0" opacity="0.65"/><rect x="102.4" y="594.2" width="0.5" height="0.5" fill="#3848b0" opacity="0.65"/><rect x="100.1" y="593.6" width="0.5" height="0.5" fill="#3848b0" opacity="0.65"/><rect x="97.4" y="582.2" width="0.5" height="0.5" fill="#3848b0" opacity="0.65"/><rect x="99.6" y="606.0" width="0.5" height="0.5" fill="#3848b0" opacity="0.65"/><rect x="107.0" y="593.8" width="0.5" height="0.5" fill="#3848b0" opacity="0.65"/><rect x="96.4" y="594.3" width="0.5" height="0.5" fill="#3848b0" opacity="0.65"/><rect x="104.4" y="598.7" width="0.5" height="0.5" fill="#3848b0" opacity="0.65"/><rect x="97.2" y="598.8" width="0.5" height="0.5" fill="#3848b0" opacity="0.65"/><rect x="99.0" y="600.0" width="0.5" height="0.5" fill="#3848b0" opacity="0.65"/><rect x="98.0" y="584.5" width="0.5" height="0.5" fill="#3848b0" opacity="0.65"/><rect x="100.3" y="601.9" width="0.5" height="0.5" fill="#3848b0" opacity="0.65"/><rect x="94.6" y="595.2" width="0.5" height="0.5" fill="#3848b0" opacity="0.65"/><rect x="104.3" y="593.1" width="0.5" height="0.5" fill="#3848b0" opacity="0.65"/><rect x="96.8" y="611.8" width="0.5" height="0.5" fill="#3848b0" opacity="0.65"/><rect x="104.0" y="604.0" width="0.5" height="0.5" fill="#3848b0" opacity="0.65"/><rect x="95.4" y="608.7" width="0.5" height="0.5" fill="#3848b0" opacity="0.65"/><rect x="91.9" y="592.0" width="0.5" height="0.5" fill="#3848b0" opacity="0.65"/><rect x="103.6" y="606.4" width="0.5" height="0.5" fill="#3848b0" opacity="0.65"/><rect x="95.5" y="590.8" width="0.5" height="0.5" fill="#3848b0" opacity="0.65"/><rect x="101.0" y="581.0" width="0.5" height="0.5" fill="#3848b0" opacity="0.65"/><rect x="103.1" y="600.4" width="0.5" height="0.5" fill="#3848b0" opacity="0.65"/><rect x="97.8" y="600.2" width="0.5" height="0.5" fill="#3848b0" opacity="0.65"/><rect x="103.8" y="598.4" width="0.5" height="0.5" fill="#3848b0" opacity="0.65"/><rect x="102.5" y="607.8" width="0.5" height="0.5" fill="#3848b0" opacity="0.65"/><rect x="97.7" y="597.3" width="0.5" height="0.5" fill="#3848b0" opacity="0.65"/><rect x="97.5" y="604.0" width="0.5" height="0.5" fill="#3848b0" opacity="0.65"/><rect x="98.0" y="599.7" width="0.5" height="0.5" fill="#3848b0" opacity="0.65"/><rect x="100.7" y="596.5" width="0.5" height="0.5" fill="#3848b0" opacity="0.65"/><rect x="108.3" y="595.3" width="0.5" height="0.5" fill="#3848b0" opacity="0.65"/><rect x="106.9" y="602.4" width="0.5" height="0.5" fill="#3848b0" opacity="0.65"/><rect x="106.4" y="594.7" width="0.5" height="0.5" fill="#3848b0" opacity="0.65"/><rect x="104.5" y="601.9" width="0.5" height="0.5" fill="#3848b0" opacity="0.65"/><rect x="97.0" y="598.1" width="0.5" height="0.5" fill="#3848b0" opacity="0.65"/><rect x="99.4" y="595.7" width="0.5" height="0.5" fill="#3848b0" opacity="0.65"/><rect x="106.3" y="590.4" width="0.5" height="0.5" fill="#3848b0" opacity="0.65"/><rect x="91.9" y="582.5" width="0.5" height="0.5" fill="#3848b0" opacity="0.65"/><rect x="97.8" y="591.0" width="0.5" height="0.5" fill="#3848b0" opacity="0.65"/><rect x="100.1" y="600.4" width="0.5" height="0.5" fill="#3848b0" opacity="0.65"/><rect x="108.5" y="598.4" width="0.5" height="0.5" fill="#3848b0" opacity="0.65"/><rect x="102.2" y="590.3" width="0.5" height="0.5" fill="#3848b0" opacity="0.65"/><rect x="102.8" y="606.5" width="0.5" height="0.5" fill="#3848b0" opacity="0.65"/><rect x="106.5" y="580.9" width="0.5" height="0.5" fill="#3848b0" opacity="0.65"/><rect x="104.3" y="608.2" width="0.5" height="0.5" fill="#3848b0" opacity="0.65"/><rect x="104.0" y="584.5" width="0.5" height="0.5" fill="#3848b0" opacity="0.65"/><rect x="98.5" y="600.5" width="0.5" height="0.5" fill="#3848b0" opacity="0.65"/><rect x="102.0" y="589.7" width="0.5" height="0.5" fill="#3848b0" opacity="0.65"/><rect x="95.7" y="603.4" width="0.5" height="0.5" fill="#3848b0" opacity="0.65"/><rect x="93.6" y="607.1" width="0.5" height="0.5" fill="#3848b0" opacity="0.65"/><rect x="100.1" y="598.3" width="0.5" height="0.5" fill="#3848b0" opacity="0.65"/><rect x="93.6" y="591.4" width="0.5" height="0.5" fill="#3848b0" opacity="0.65"/><rect x="103.3" y="584.7" width="0.5" height="0.5" fill="#3848b0" opacity="0.65"/><rect x="110.0" y="585.2" width="0.5" height="0.5" fill="#3848b0" opacity="0.65"/><rect x="94.1" y="596.3" width="0.5" height="0.5" fill="#3848b0" opacity="0.65"/><rect x="102.3" y="601.6" width="0.5" height="0.5" fill="#3848b0" opacity="0.65"/><rect x="98.2" y="594.4" width="0.5" height="0.5" fill="#3848b0" opacity="0.65"/><rect x="98.9" y="591.6" width="0.5" height="0.5" fill="#3848b0" opacity="0.65"/><rect x="87.6" y="603.4" width="0.5" height="0.5" fill="#3848b0" opacity="0.65"/><rect x="101.2" y="597.2" width="0.5" height="0.5" fill="#3848b0" opacity="0.65"/><rect x="97.0" y="597.9" width="0.5" height="0.5" fill="#3848b0" opacity="0.65"/><rect x="99.9" y="595.4" width="0.5" height="0.5" fill="#3848b0" opacity="0.65"/><rect x="105.3" y="582.8" width="0.5" height="0.5" fill="#3848b0" opacity="0.65"/><rect x="101.2" y="587.8" width="0.5" height="0.5" fill="#3848b0" opacity="0.65"/><rect x="82.3" y="599.4" width="0.5" height="0.5" fill="#4a5cc0" opacity="0.55"/><rect x="75.6" y="584.0" width="0.5" height="0.5" fill="#4a5cc0" opacity="0.55"/><rect x="79.9" y="594.1" width="0.5" height="0.5" fill="#4a5cc0" opacity="0.55"/><rect x="76.5" y="568.8" width="0.5" height="0.5" fill="#4a5cc0" opacity="0.55"/><rect x="89.4" y="581.6" width="0.5" height="0.5" fill="#4a5cc0" opacity="0.55"/><rect x="82.2" y="595.4" width="0.5" height="0.5" fill="#4a5cc0" opacity="0.55"/><rect x="77.3" y="581.4" width="0.5" height="0.5" fill="#4a5cc0" opacity="0.55"/><rect x="86.3" y="589.0" width="0.5" height="0.5" fill="#4a5cc0" opacity="0.55"/><rect x="80.5" y="594.9" width="0.5" height="0.5" fill="#4a5cc0" opacity="0.55"/><rect x="104.4" y="581.1" width="0.5" height="0.5" fill="#4a5cc0" opacity="0.55"/><rect x="101.2" y="564.7" width="0.5" height="0.5" fill="#4a5cc0" opacity="0.55"/><rect x="97.2" y="581.7" width="0.5" height="0.5" fill="#4a5cc0" opacity="0.55"/><rect x="86.2" y="581.7" width="0.5" height="0.5" fill="#4a5cc0" opacity="0.55"/><rect x="79.5" y="572.7" width="0.5" height="0.5" fill="#4a5cc0" opacity="0.55"/><rect x="81.6" y="597.4" width="0.5" height="0.5" fill="#4a5cc0" opacity="0.55"/><rect x="94.9" y="581.7" width="0.5" height="0.5" fill="#4a5cc0" opacity="0.55"/><rect x="80.4" y="578.3" width="0.5" height="0.5" fill="#4a5cc0" opacity="0.55"/><rect x="74.6" y="602.3" width="0.5" height="0.5" fill="#4a5cc0" opacity="0.55"/><rect x="90.7" y="586.1" width="0.5" height="0.5" fill="#4a5cc0" opacity="0.55"/><rect x="80.8" y="575.2" width="0.5" height="0.5" fill="#4a5cc0" opacity="0.55"/><rect x="96.4" y="592.5" width="0.5" height="0.5" fill="#4a5cc0" opacity="0.55"/><rect x="76.8" y="594.5" width="0.5" height="0.5" fill="#4a5cc0" opacity="0.55"/><rect x="75.4" y="591.2" width="0.5" height="0.5" fill="#4a5cc0" opacity="0.55"/><rect x="76.7" y="581.0" width="0.5" height="0.5" fill="#4a5cc0" opacity="0.55"/><rect x="89.3" y="589.2" width="0.5" height="0.5" fill="#4a5cc0" opacity="0.55"/><rect x="93.7" y="577.0" width="0.5" height="0.5" fill="#4a5cc0" opacity="0.55"/><rect x="98.6" y="597.9" width="0.5" height="0.5" fill="#4a5cc0" opacity="0.55"/><rect x="84.9" y="589.5" width="0.5" height="0.5" fill="#4a5cc0" opacity="0.55"/><rect x="78.3" y="583.5" width="0.5" height="0.5" fill="#4a5cc0" opacity="0.55"/><rect x="73.6" y="585.9" width="0.5" height="0.5" fill="#4a5cc0" opacity="0.55"/><rect x="86.7" y="597.9" width="0.5" height="0.5" fill="#4a5cc0" opacity="0.55"/><rect x="93.2" y="592.8" width="0.5" height="0.5" fill="#4a5cc0" opacity="0.55"/><rect x="81.9" y="582.8" width="0.5" height="0.5" fill="#4a5cc0" opacity="0.55"/><rect x="82.1" y="587.1" width="0.5" height="0.5" fill="#4a5cc0" opacity="0.55"/><rect x="68.3" y="592.4" width="0.5" height="0.5" fill="#4a5cc0" opacity="0.55"/><rect x="71.5" y="580.1" width="0.5" height="0.5" fill="#4a5cc0" opacity="0.55"/><rect x="85.2" y="580.1" width="0.5" height="0.5" fill="#4a5cc0" opacity="0.55"/><rect x="99.4" y="584.1" width="0.5" height="0.5" fill="#4a5cc0" opacity="0.55"/><rect x="98.6" y="596.3" width="0.5" height="0.5" fill="#4a5cc0" opacity="0.55"/><rect x="80.7" y="588.8" width="0.5" height="0.5" fill="#4a5cc0" opacity="0.55"/><rect x="96.2" y="581.8" width="0.5" height="0.5" fill="#4a5cc0" opacity="0.55"/><rect x="85.8" y="579.6" width="0.5" height="0.5" fill="#4a5cc0" opacity="0.55"/><rect x="85.5" y="581.6" width="0.5" height="0.5" fill="#4a5cc0" opacity="0.55"/><rect x="85.7" y="594.6" width="0.5" height="0.5" fill="#4a5cc0" opacity="0.55"/><rect x="97.0" y="586.3" width="0.5" height="0.5" fill="#4a5cc0" opacity="0.55"/><rect x="86.7" y="593.2" width="0.5" height="0.5" fill="#4a5cc0" opacity="0.55"/><rect x="82.5" y="574.8" width="0.5" height="0.5" fill="#4a5cc0" opacity="0.55"/><rect x="94.6" y="576.0" width="0.5" height="0.5" fill="#4a5cc0" opacity="0.55"/><rect x="93.0" y="575.7" width="0.5" height="0.5" fill="#4a5cc0" opacity="0.55"/><rect x="100.8" y="575.0" width="0.5" height="0.5" fill="#4a5cc0" opacity="0.55"/><rect x="92.3" y="599.4" width="0.5" height="0.5" fill="#4a5cc0" opacity="0.55"/><rect x="76.7" y="599.3" width="0.5" height="0.5" fill="#4a5cc0" opacity="0.55"/><rect x="77.9" y="568.1" width="0.5" height="0.5" fill="#4a5cc0" opacity="0.55"/><rect x="91.2" y="591.7" width="0.5" height="0.5" fill="#4a5cc0" opacity="0.55"/><rect x="83.2" y="560.8" width="0.5" height="0.5" fill="#4a5cc0" opacity="0.55"/><rect x="84.5" y="582.1" width="0.5" height="0.5" fill="#4a5cc0" opacity="0.55"/><rect x="81.7" y="582.2" width="0.5" height="0.5" fill="#4a5cc0" opacity="0.55"/><rect x="69.5" y="579.6" width="0.5" height="0.5" fill="#4a5cc0" opacity="0.55"/><rect x="100.6" y="599.8" width="0.5" height="0.5" fill="#4a5cc0" opacity="0.55"/><rect x="81.9" y="578.2" width="0.5" height="0.5" fill="#4a5cc0" opacity="0.55"/><rect x="88.4" y="595.2" width="0.5" height="0.5" fill="#4a5cc0" opacity="0.55"/><rect x="91.2" y="573.8" width="0.5" height="0.5" fill="#4a5cc0" opacity="0.55"/><rect x="86.4" y="586.3" width="0.5" height="0.5" fill="#4a5cc0" opacity="0.55"/><rect x="97.4" y="596.5" width="0.5" height="0.5" fill="#4a5cc0" opacity="0.55"/><rect x="89.5" y="596.7" width="0.5" height="0.5" fill="#4a5cc0" opacity="0.55"/><rect x="81.6" y="599.8" width="0.5" height="0.5" fill="#4a5cc0" opacity="0.55"/><rect x="81.3" y="588.8" width="0.5" height="0.5" fill="#4a5cc0" opacity="0.55"/><rect x="92.9" y="576.2" width="0.5" height="0.5" fill="#4a5cc0" opacity="0.55"/><rect x="78.9" y="568.1" width="0.5" height="0.5" fill="#4a5cc0" opacity="0.55"/><rect x="86.4" y="584.5" width="0.5" height="0.5" fill="#4a5cc0" opacity="0.55"/><rect x="82.2" y="589.8" width="0.5" height="0.5" fill="#4a5cc0" opacity="0.55"/><rect x="66.7" y="584.8" width="0.5" height="0.5" fill="#4a5cc0" opacity="0.55"/><rect x="85.8" y="582.4" width="0.5" height="0.5" fill="#4a5cc0" opacity="0.55"/><rect x="91.9" y="601.8" width="0.5" height="0.5" fill="#4a5cc0" opacity="0.55"/><rect x="81.1" y="576.0" width="0.5" height="0.5" fill="#4a5cc0" opacity="0.55"/><rect x="79.8" y="585.9" width="0.5" height="0.5" fill="#4a5cc0" opacity="0.55"/><rect x="90.1" y="576.7" width="0.5" height="0.5" fill="#4a5cc0" opacity="0.55"/><rect x="93.6" y="575.2" width="0.5" height="0.5" fill="#4a5cc0" opacity="0.55"/><rect x="92.1" y="589.1" width="0.5" height="0.5" fill="#4a5cc0" opacity="0.55"/><rect x="89.0" y="605.7" width="0.5" height="0.5" fill="#4a5cc0" opacity="0.55"/><rect x="82.7" y="583.4" width="0.5" height="0.5" fill="#4a5cc0" opacity="0.55"/><rect x="89.1" y="593.3" width="0.5" height="0.5" fill="#4a5cc0" opacity="0.55"/><rect x="73.4" y="587.6" width="0.5" height="0.5" fill="#4a5cc0" opacity="0.55"/><rect x="78.6" y="591.1" width="0.5" height="0.5" fill="#4a5cc0" opacity="0.55"/><rect x="96.8" y="585.5" width="0.5" height="0.5" fill="#4a5cc0" opacity="0.55"/><rect x="84.1" y="586.8" width="0.5" height="0.5" fill="#4a5cc0" opacity="0.55"/><rect x="59.5" y="592.4" width="0.5" height="0.5" fill="#4a5cc0" opacity="0.55"/><rect x="89.8" y="586.6" width="0.5" height="0.5" fill="#4a5cc0" opacity="0.55"/><rect x="81.6" y="578.0" width="0.5" height="0.5" fill="#4a5cc0" opacity="0.55"/><rect x="83.5" y="596.6" width="0.5" height="0.5" fill="#4a5cc0" opacity="0.55"/><rect x="84.1" y="597.9" width="0.5" height="0.5" fill="#4a5cc0" opacity="0.55"/><rect x="62.8" y="580.6" width="0.5" height="0.5" fill="#4a5cc0" opacity="0.55"/><rect x="87.4" y="584.9" width="0.5" height="0.5" fill="#4a5cc0" opacity="0.55"/><rect x="70.7" y="578.6" width="0.5" height="0.5" fill="#4a5cc0" opacity="0.55"/><rect x="95.8" y="572.6" width="0.5" height="0.5" fill="#4a5cc0" opacity="0.55"/><rect x="76.4" y="574.5" width="0.5" height="0.5" fill="#4a5cc0" opacity="0.55"/><rect x="80.2" y="591.2" width="0.5" height="0.5" fill="#4a5cc0" opacity="0.55"/><rect x="90.1" y="565.5" width="0.5" height="0.5" fill="#4a5cc0" opacity="0.55"/><rect x="97.6" y="579.3" width="0.5" height="0.5" fill="#4a5cc0" opacity="0.55"/><rect x="79.9" y="601.0" width="0.5" height="0.5" fill="#4a5cc0" opacity="0.55"/><rect x="84.3" y="573.1" width="0.5" height="0.5" fill="#4a5cc0" opacity="0.55"/><rect x="79.5" y="578.0" width="0.5" height="0.5" fill="#4a5cc0" opacity="0.55"/><rect x="76.3" y="581.8" width="0.5" height="0.5" fill="#4a5cc0" opacity="0.55"/><rect x="92.6" y="588.4" width="0.5" height="0.5" fill="#4a5cc0" opacity="0.55"/><rect x="73.1" y="611.8" width="0.5" height="0.5" fill="#4a5cc0" opacity="0.55"/><rect x="76.4" y="586.1" width="0.5" height="0.5" fill="#4a5cc0" opacity="0.55"/><rect x="85.3" y="592.3" width="0.5" height="0.5" fill="#4a5cc0" opacity="0.55"/><rect x="82.2" y="589.4" width="0.5" height="0.5" fill="#4a5cc0" opacity="0.55"/><rect x="103.2" y="585.9" width="0.5" height="0.5" fill="#4a5cc0" opacity="0.55"/><rect x="75.6" y="588.2" width="0.5" height="0.5" fill="#4a5cc0" opacity="0.55"/><rect x="78.1" y="581.4" width="0.5" height="0.5" fill="#4a5cc0" opacity="0.55"/><rect x="86.6" y="588.2" width="0.5" height="0.5" fill="#4a5cc0" opacity="0.55"/><rect x="82.5" y="593.1" width="0.5" height="0.5" fill="#4a5cc0" opacity="0.55"/><rect x="83.3" y="572.5" width="0.5" height="0.5" fill="#4a5cc0" opacity="0.55"/><rect x="92.6" y="581.5" width="0.5" height="0.5" fill="#4a5cc0" opacity="0.55"/><rect x="95.5" y="578.7" width="0.5" height="0.5" fill="#4a5cc0" opacity="0.55"/><rect x="89.9" y="588.0" width="0.5" height="0.5" fill="#4a5cc0" opacity="0.55"/><rect x="61.7" y="570.7" width="0.5" height="0.5" fill="#4a5cc0" opacity="0.55"/><rect x="75.3" y="598.5" width="0.5" height="0.5" fill="#4a5cc0" opacity="0.55"/><rect x="68.7" y="593.8" width="0.5" height="0.5" fill="#4a5cc0" opacity="0.55"/>
</svg>
<rect x="37.00" y="538.40" width="78.00" height="76.60" fill="none" stroke="#111" stroke-width="1.2"/>
<line x1="42.50" y1="615.00" x2="42.50" y2="613.80" stroke="#1c1c1c" stroke-width="0.4"/>
<line x1="37.00" y1="609.50" x2="38.20" y2="609.50" stroke="#1c1c1c" stroke-width="0.4"/>
<line x1="46.50" y1="615.00" x2="46.50" y2="613.80" stroke="#1c1c1c" stroke-width="0.4"/>
<line x1="37.00" y1="605.50" x2="38.20" y2="605.50" stroke="#1c1c1c" stroke-width="0.4"/>
<line x1="48.50" y1="615.00" x2="48.50" y2="613.80" stroke="#1c1c1c" stroke-width="0.4"/>
<line x1="37.00" y1="603.50" x2="38.20" y2="603.50" stroke="#1c1c1c" stroke-width="0.4"/>
<line x1="50.50" y1="615.00" x2="50.50" y2="613.80" stroke="#1c1c1c" stroke-width="0.4"/>
<line x1="37.00" y1="601.50" x2="38.20" y2="601.50" stroke="#1c1c1c" stroke-width="0.4"/>
<line x1="52.50" y1="615.00" x2="52.50" y2="613.80" stroke="#1c1c1c" stroke-width="0.4"/>
<line x1="37.00" y1="600.50" x2="38.20" y2="600.50" stroke="#1c1c1c" stroke-width="0.4"/>
<line x1="53.50" y1="615.00" x2="53.50" y2="613.80" stroke="#1c1c1c" stroke-width="0.4"/>
<line x1="37.00" y1="598.50" x2="38.20" y2="598.50" stroke="#1c1c1c" stroke-width="0.4"/>
<line x1="54.50" y1="615.00" x2="54.50" y2="613.80" stroke="#1c1c1c" stroke-width="0.4"/>
<line x1="37.00" y1="597.50" x2="38.20" y2="597.50" stroke="#1c1c1c" stroke-width="0.4"/>
<line x1="55.50" y1="615.00" x2="55.50" y2="613.80" stroke="#1c1c1c" stroke-width="0.4"/>
<line x1="37.00" y1="596.50" x2="38.20" y2="596.50" stroke="#1c1c1c" stroke-width="0.4"/>
<line x1="62.50" y1="615.00" x2="62.50" y2="613.80" stroke="#1c1c1c" stroke-width="0.4"/>
<line x1="37.00" y1="590.50" x2="38.20" y2="590.50" stroke="#1c1c1c" stroke-width="0.4"/>
<line x1="65.50" y1="615.00" x2="65.50" y2="613.80" stroke="#1c1c1c" stroke-width="0.4"/>
<line x1="37.00" y1="586.50" x2="38.20" y2="586.50" stroke="#1c1c1c" stroke-width="0.4"/>
<line x1="68.50" y1="615.00" x2="68.50" y2="613.80" stroke="#1c1c1c" stroke-width="0.4"/>
<line x1="37.00" y1="584.50" x2="38.20" y2="584.50" stroke="#1c1c1c" stroke-width="0.4"/>
<line x1="70.50" y1="615.00" x2="70.50" y2="613.80" stroke="#1c1c1c" stroke-width="0.4"/>
<line x1="37.00" y1="582.50" x2="38.20" y2="582.50" stroke="#1c1c1c" stroke-width="0.4"/>
<line x1="71.50" y1="615.00" x2="71.50" y2="613.80" stroke="#1c1c1c" stroke-width="0.4"/>
<line x1="37.00" y1="580.50" x2="38.20" y2="580.50" stroke="#1c1c1c" stroke-width="0.4"/>
<line x1="72.50" y1="615.00" x2="72.50" y2="613.80" stroke="#1c1c1c" stroke-width="0.4"/>
<line x1="37.00" y1="579.50" x2="38.20" y2="579.50" stroke="#1c1c1c" stroke-width="0.4"/>
<line x1="74.50" y1="615.00" x2="74.50" y2="613.80" stroke="#1c1c1c" stroke-width="0.4"/>
<line x1="37.00" y1="578.50" x2="38.20" y2="578.50" stroke="#1c1c1c" stroke-width="0.4"/>
<line x1="75.50" y1="615.00" x2="75.50" y2="613.80" stroke="#1c1c1c" stroke-width="0.4"/>
<line x1="37.00" y1="577.50" x2="38.20" y2="577.50" stroke="#1c1c1c" stroke-width="0.4"/>
<line x1="81.50" y1="615.00" x2="81.50" y2="613.80" stroke="#1c1c1c" stroke-width="0.4"/>
<line x1="37.00" y1="570.50" x2="38.20" y2="570.50" stroke="#1c1c1c" stroke-width="0.4"/>
<line x1="85.50" y1="615.00" x2="85.50" y2="613.80" stroke="#1c1c1c" stroke-width="0.4"/>
<line x1="37.00" y1="567.50" x2="38.20" y2="567.50" stroke="#1c1c1c" stroke-width="0.4"/>
<line x1="87.50" y1="615.00" x2="87.50" y2="613.80" stroke="#1c1c1c" stroke-width="0.4"/>
<line x1="37.00" y1="565.50" x2="38.20" y2="565.50" stroke="#1c1c1c" stroke-width="0.4"/>
<line x1="89.50" y1="615.00" x2="89.50" y2="613.80" stroke="#1c1c1c" stroke-width="0.4"/>
<line x1="37.00" y1="563.50" x2="38.20" y2="563.50" stroke="#1c1c1c" stroke-width="0.4"/>
<line x1="91.50" y1="615.00" x2="91.50" y2="613.80" stroke="#1c1c1c" stroke-width="0.4"/>
<line x1="37.00" y1="561.50" x2="38.20" y2="561.50" stroke="#1c1c1c" stroke-width="0.4"/>
<line x1="92.50" y1="615.00" x2="92.50" y2="613.80" stroke="#1c1c1c" stroke-width="0.4"/>
<line x1="37.00" y1="560.50" x2="38.20" y2="560.50" stroke="#1c1c1c" stroke-width="0.4"/>
<line x1="93.50" y1="615.00" x2="93.50" y2="613.80" stroke="#1c1c1c" stroke-width="0.4"/>
<line x1="37.00" y1="559.50" x2="38.20" y2="559.50" stroke="#1c1c1c" stroke-width="0.4"/>
<line x1="94.50" y1="615.00" x2="94.50" y2="613.80" stroke="#1c1c1c" stroke-width="0.4"/>
<line x1="37.00" y1="558.50" x2="38.20" y2="558.50" stroke="#1c1c1c" stroke-width="0.4"/>
<line x1="101.50" y1="615.00" x2="101.50" y2="613.80" stroke="#1c1c1c" stroke-width="0.4"/>
<line x1="37.00" y1="551.50" x2="38.20" y2="551.50" stroke="#1c1c1c" stroke-width="0.4"/>
<line x1="104.50" y1="615.00" x2="104.50" y2="613.80" stroke="#1c1c1c" stroke-width="0.4"/>
<line x1="37.00" y1="548.50" x2="38.20" y2="548.50" stroke="#1c1c1c" stroke-width="0.4"/>
<line x1="107.50" y1="615.00" x2="107.50" y2="613.80" stroke="#1c1c1c" stroke-width="0.4"/>
<line x1="37.00" y1="546.50" x2="38.20" y2="546.50" stroke="#1c1c1c" stroke-width="0.4"/>
<line x1="109.50" y1="615.00" x2="109.50" y2="613.80" stroke="#1c1c1c" stroke-width="0.4"/>
<line x1="37.00" y1="544.50" x2="38.20" y2="544.50" stroke="#1c1c1c" stroke-width="0.4"/>
<line x1="110.50" y1="615.00" x2="110.50" y2="613.80" stroke="#1c1c1c" stroke-width="0.4"/>
<line x1="37.00" y1="542.50" x2="38.20" y2="542.50" stroke="#1c1c1c" stroke-width="0.4"/>
<line x1="111.50" y1="615.00" x2="111.50" y2="613.80" stroke="#1c1c1c" stroke-width="0.4"/>
<line x1="37.00" y1="541.50" x2="38.20" y2="541.50" stroke="#1c1c1c" stroke-width="0.4"/>
<line x1="113.50" y1="615.00" x2="113.50" y2="613.80" stroke="#1c1c1c" stroke-width="0.4"/>
<line x1="37.00" y1="540.50" x2="38.20" y2="540.50" stroke="#1c1c1c" stroke-width="0.4"/>
<line x1="114.50" y1="615.00" x2="114.50" y2="613.80" stroke="#1c1c1c" stroke-width="0.4"/>
<line x1="37.00" y1="539.50" x2="38.20" y2="539.50" stroke="#1c1c1c" stroke-width="0.4"/>
<line x1="37.50" y1="615.00" x2="37.50" y2="616.50" stroke="#1c1c1c" stroke-width="0.6"/>
<line x1="35.50" y1="615.50" x2="37.00" y2="615.50" stroke="#1c1c1c" stroke-width="0.6"/>
<line x1="56.50" y1="615.00" x2="56.50" y2="616.50" stroke="#1c1c1c" stroke-width="0.6"/>
<line x1="35.50" y1="595.50" x2="37.00" y2="595.50" stroke="#1c1c1c" stroke-width="0.6"/>
<line x1="76.50" y1="615.00" x2="76.50" y2="616.50" stroke="#1c1c1c" stroke-width="0.6"/>
<line x1="35.50" y1="576.50" x2="37.00" y2="576.50" stroke="#1c1c1c" stroke-width="0.6"/>
<line x1="95.50" y1="615.00" x2="95.50" y2="616.50" stroke="#1c1c1c" stroke-width="0.6"/>
<line x1="35.50" y1="557.50" x2="37.00" y2="557.50" stroke="#1c1c1c" stroke-width="0.6"/>
<line x1="115.50" y1="615.00" x2="115.50" y2="616.50" stroke="#1c1c1c" stroke-width="0.6"/>
<line x1="35.50" y1="538.50" x2="37.00" y2="538.50" stroke="#1c1c1c" stroke-width="0.6"/>
<rect x="66.70" y="557.60" width="24.70" height="29.80" fill="none" stroke="#b8409c" stroke-width="0.7"/>
<rect x="53.30" y="589.00" width="38.20" height="26.00" fill="none" stroke="#b8409c" stroke-width="0.7"/>
<polyline points="78.50,557.50 78.50,526.50 136.50,526.50" fill="none" stroke="#1c1c1c" stroke-width="0.8"/>
<path d="M140.3 526.7 L135 524.6 L135 528.8 Z" fill="#111"/>
<line x1="83.50" y1="604.50" x2="128.00" y2="604.50" stroke="#1c1c1c" stroke-width="0.8"/>
<path d="M132.3 604 L127 601.9 L127 606.1 Z" fill="#111"/>
<text x="37.60" y="627.90" font-size="8" text-anchor="middle" fill="#1a1a1a" textLength="10.2" lengthAdjust="spacingAndGlyphs">10<tspan font-size="5.4" dy="-3">0</tspan></text>
<text x="26.40" y="617.80" font-size="8" text-anchor="middle" fill="#1a1a1a" textLength="10.2" lengthAdjust="spacingAndGlyphs">10<tspan font-size="5.4" dy="-3">0</tspan></text>
<text x="56.90" y="627.90" font-size="8" text-anchor="middle" fill="#1a1a1a" textLength="10.2" lengthAdjust="spacingAndGlyphs">10<tspan font-size="5.4" dy="-3">1</tspan></text>
<text x="26.40" y="598.65" font-size="8" text-anchor="middle" fill="#1a1a1a" textLength="10.2" lengthAdjust="spacingAndGlyphs">10<tspan font-size="5.4" dy="-3">1</tspan></text>
<text x="76.20" y="627.90" font-size="8" text-anchor="middle" fill="#1a1a1a" textLength="10.2" lengthAdjust="spacingAndGlyphs">10<tspan font-size="5.4" dy="-3">2</tspan></text>
<text x="26.40" y="579.50" font-size="8" text-anchor="middle" fill="#1a1a1a" textLength="10.2" lengthAdjust="spacingAndGlyphs">10<tspan font-size="5.4" dy="-3">2</tspan></text>
<text x="95.50" y="627.90" font-size="8" text-anchor="middle" fill="#1a1a1a" textLength="10.2" lengthAdjust="spacingAndGlyphs">10<tspan font-size="5.4" dy="-3">3</tspan></text>
<text x="26.40" y="560.35" font-size="8" text-anchor="middle" fill="#1a1a1a" textLength="10.2" lengthAdjust="spacingAndGlyphs">10<tspan font-size="5.4" dy="-3">3</tspan></text>
<text x="114.80" y="627.90" font-size="8" text-anchor="middle" fill="#1a1a1a" textLength="10.2" lengthAdjust="spacingAndGlyphs">10<tspan font-size="5.4" dy="-3">4</tspan></text>
<text x="26.40" y="541.20" font-size="8" text-anchor="middle" fill="#1a1a1a" textLength="10.2" lengthAdjust="spacingAndGlyphs">10<tspan font-size="5.4" dy="-3">4</tspan></text>
<text x="36.00" y="641.00" font-size="8.2" text-anchor="start" textLength="11.00" lengthAdjust="spacingAndGlyphs" fill="#111">Lin</text>
<line x1="49.00" y1="638.50" x2="77.00" y2="638.50" stroke="#1c1c1c" stroke-width="0.8"/>
<path d="M80.6 638 L75.6 636 L75.6 640 Z" fill="#111"/>
<text x="14.40" y="617.60" font-size="8.2" text-anchor="start" textLength="18.60" lengthAdjust="spacingAndGlyphs" fill="#111" transform="rotate(-90 14.40 617.60)">c-Kit</text>
<line x1="11.50" y1="597.50" x2="11.50" y2="556.00" stroke="#1c1c1c" stroke-width="0.8"/>
<path d="M11.6 552 L9.6 557 L13.6 557 Z" fill="#111"/>
<text x="120" y="540.6" font-size="7.8" fill="#1a1a1a" textLength="40.2" lengthAdjust="spacingAndGlyphs">Lin<tspan font-size="5.6" dy="-2.7">-/low</tspan><tspan font-size="7.8" dy="2.7">c-Kit</tspan><tspan font-size="5.6" dy="-3">+</tspan></text>
<text x="140.30" y="550.40" font-size="7.8" text-anchor="middle" textLength="10.80" lengthAdjust="spacingAndGlyphs" fill="#111">MP</text>
<text x="120" y="615.4" font-size="7.8" fill="#1a1a1a" textLength="40.2" lengthAdjust="spacingAndGlyphs">Lin<tspan font-size="5.6" dy="-2.7">-/low</tspan><tspan font-size="7.8" dy="2.7">c-Kit</tspan><tspan font-size="5.6" dy="-3">-</tspan></text>
<text x="139.80" y="625.30" font-size="7.8" text-anchor="middle" textLength="17.00" lengthAdjust="spacingAndGlyphs" fill="#111">MPre</text>
<line x1="193.50" y1="470.50" x2="193.50" y2="533.65" stroke="#1c1c1c" stroke-width="0.9"/>
<line x1="191.30" y1="533.50" x2="193.30" y2="533.50" stroke="#1c1c1c" stroke-width="0.8"/>
<text x="187.50" y="536.13" font-size="8.1" text-anchor="end" textLength="4.05" lengthAdjust="spacingAndGlyphs" fill="#111">0</text>
<line x1="191.30" y1="518.50" x2="193.30" y2="518.50" stroke="#1c1c1c" stroke-width="0.8"/>
<text x="187.50" y="520.93" font-size="8.1" text-anchor="end" textLength="4.05" lengthAdjust="spacingAndGlyphs" fill="#111">2</text>
<line x1="191.30" y1="502.50" x2="193.30" y2="502.50" stroke="#1c1c1c" stroke-width="0.8"/>
<text x="187.50" y="505.73" font-size="8.1" text-anchor="end" textLength="4.05" lengthAdjust="spacingAndGlyphs" fill="#111">4</text>
<line x1="191.30" y1="487.50" x2="193.30" y2="487.50" stroke="#1c1c1c" stroke-width="0.8"/>
<text x="187.50" y="490.53" font-size="8.1" text-anchor="end" textLength="4.05" lengthAdjust="spacingAndGlyphs" fill="#111">6</text>
<line x1="191.30" y1="472.50" x2="193.30" y2="472.50" stroke="#1c1c1c" stroke-width="0.8"/>
<text x="187.50" y="475.33" font-size="8.1" text-anchor="end" textLength="4.05" lengthAdjust="spacingAndGlyphs" fill="#111">8</text>
<line x1="192.90" y1="533.50" x2="248.80" y2="533.50" stroke="#1c1c1c" stroke-width="0.9"/>
<line x1="200.50" y1="526.00" x2="200.50" y2="524.20" stroke="#1c1c1c" stroke-width="0.9"/>
<line x1="198.65" y1="524.50" x2="202.65" y2="524.50" stroke="#1c1c1c" stroke-width="0.9"/>
<rect x="196.30" y="525.50" width="8.70" height="7.75" fill="#3c7458"/>
<line x1="214.50" y1="526.00" x2="214.50" y2="523.70" stroke="#1c1c1c" stroke-width="0.9"/>
<line x1="212.65" y1="523.50" x2="216.65" y2="523.50" stroke="#1c1c1c" stroke-width="0.9"/>
<rect x="210.00" y="525.50" width="9.30" height="7.75" fill="#2a4b87"/>
<line x1="228.50" y1="491.30" x2="228.50" y2="488.70" stroke="#1c1c1c" stroke-width="0.9"/>
<line x1="226.65" y1="488.50" x2="230.65" y2="488.50" stroke="#1c1c1c" stroke-width="0.9"/>
<rect x="224.30" y="490.80" width="8.70" height="42.45" fill="#55266a"/>
<line x1="242.50" y1="509.80" x2="242.50" y2="506.30" stroke="#1c1c1c" stroke-width="0.9"/>
<line x1="240.50" y1="506.50" x2="244.50" y2="506.50" stroke="#1c1c1c" stroke-width="0.9"/>
<rect x="238.00" y="509.30" width="9.00" height="23.95" fill="#b0002d"/>
<text x="177.50" y="532.80" font-size="8.7" text-anchor="start" textLength="41.40" lengthAdjust="spacingAndGlyphs" fill="#111" transform="rotate(-90 177.50 532.80)">Normalized</text>
<text x="177.50" y="487.20" font-size="8.7" text-anchor="start" textLength="16.20" lengthAdjust="spacingAndGlyphs" fill="#111" transform="rotate(-90 177.50 487.20)">MFI</text>
<polyline points="207.50,519.50 207.50,478.50 238.50,478.50 238.50,480.50" fill="none" stroke="#1c1c1c" stroke-width="1.0"/>
<line x1="200.50" y1="519.50" x2="214.50" y2="519.50" stroke="#1c1c1c" stroke-width="1.0"/>
<line x1="228.80" y1="480.50" x2="242.00" y2="480.50" stroke="#1c1c1c" stroke-width="1.0"/>
<text x="222.30" y="478.40" font-size="6" text-anchor="middle" textLength="5.60" lengthAdjust="spacingAndGlyphs" fill="#111">**</text>
<polyline points="228.50,488.50 228.50,485.50 242.50,485.50 242.50,496.50" fill="none" stroke="#1c1c1c" stroke-width="1.0"/>
<text x="235.60" y="486.20" font-size="6" text-anchor="middle" textLength="5.60" lengthAdjust="spacingAndGlyphs" fill="#111">**</text>
<line x1="193.50" y1="553.70" x2="193.50" y2="615.40" stroke="#1c1c1c" stroke-width="0.9"/>
<line x1="191.30" y1="615.50" x2="193.30" y2="615.50" stroke="#1c1c1c" stroke-width="0.8"/>
<text x="187.50" y="617.88" font-size="8.1" text-anchor="end" textLength="4.05" lengthAdjust="spacingAndGlyphs" fill="#111">0</text>
<line x1="191.30" y1="603.50" x2="193.30" y2="603.50" stroke="#1c1c1c" stroke-width="0.8"/>
<text x="187.50" y="605.93" font-size="8.1" text-anchor="end" textLength="4.05" lengthAdjust="spacingAndGlyphs" fill="#111">1</text>
<line x1="191.30" y1="591.50" x2="193.30" y2="591.50" stroke="#1c1c1c" stroke-width="0.8"/>
<text x="187.50" y="593.98" font-size="8.1" text-anchor="end" textLength="4.05" lengthAdjust="spacingAndGlyphs" fill="#111">2</text>
<line x1="191.30" y1="579.50" x2="193.30" y2="579.50" stroke="#1c1c1c" stroke-width="0.8"/>
<text x="187.50" y="582.03" font-size="8.1" text-anchor="end" textLength="4.05" lengthAdjust="spacingAndGlyphs" fill="#111">3</text>
<line x1="191.30" y1="567.50" x2="193.30" y2="567.50" stroke="#1c1c1c" stroke-width="0.8"/>
<text x="187.50" y="570.08" font-size="8.1" text-anchor="end" textLength="4.05" lengthAdjust="spacingAndGlyphs" fill="#111">4</text>
<line x1="191.30" y1="555.50" x2="193.30" y2="555.50" stroke="#1c1c1c" stroke-width="0.8"/>
<text x="187.50" y="558.13" font-size="8.1" text-anchor="end" textLength="4.05" lengthAdjust="spacingAndGlyphs" fill="#111">5</text>
<line x1="192.90" y1="615.50" x2="251.00" y2="615.50" stroke="#1c1c1c" stroke-width="0.9"/>
<line x1="200.50" y1="604.20" x2="200.50" y2="602.50" stroke="#1c1c1c" stroke-width="0.9"/>
<line x1="198.90" y1="602.50" x2="202.90" y2="602.50" stroke="#1c1c1c" stroke-width="0.9"/>
<rect x="196.30" y="603.70" width="9.20" height="11.30" fill="#3c7458"/>
<line x1="215.50" y1="603.50" x2="215.50" y2="600.50" stroke="#1c1c1c" stroke-width="0.9"/>
<line x1="213.40" y1="600.50" x2="217.40" y2="600.50" stroke="#1c1c1c" stroke-width="0.9"/>
<rect x="210.80" y="603.00" width="9.20" height="12.00" fill="#2a4b87"/>
<line x1="230.50" y1="571.20" x2="230.50" y2="565.00" stroke="#1c1c1c" stroke-width="0.9"/>
<line x1="228.90" y1="565.50" x2="232.90" y2="565.50" stroke="#1c1c1c" stroke-width="0.9"/>
<rect x="226.30" y="570.70" width="9.20" height="44.30" fill="#55266a"/>
<line x1="245.50" y1="588.50" x2="245.50" y2="585.70" stroke="#1c1c1c" stroke-width="0.9"/>
<line x1="243.40" y1="585.50" x2="247.40" y2="585.50" stroke="#1c1c1c" stroke-width="0.9"/>
<rect x="240.80" y="588.00" width="9.20" height="27.00" fill="#b0002d"/>
<text x="177.50" y="614.60" font-size="8.7" text-anchor="start" textLength="41.40" lengthAdjust="spacingAndGlyphs" fill="#111" transform="rotate(-90 177.50 614.60)">Normalized</text>
<text x="177.50" y="569.00" font-size="8.7" text-anchor="start" textLength="16.20" lengthAdjust="spacingAndGlyphs" fill="#111" transform="rotate(-90 177.50 569.00)">MFI</text>
<polyline points="207.50,595.50 207.50,553.50 240.50,553.50 240.50,555.50" fill="none" stroke="#1c1c1c" stroke-width="1.0"/>
<line x1="200.50" y1="595.50" x2="215.50" y2="595.50" stroke="#1c1c1c" stroke-width="1.0"/>
<line x1="231.30" y1="555.50" x2="245.00" y2="555.50" stroke="#1c1c1c" stroke-width="1.0"/>
<text x="223.80" y="553.80" font-size="6" text-anchor="middle" textLength="5.60" lengthAdjust="spacingAndGlyphs" fill="#111">**</text>
<polyline points="230.50,563.50 230.50,560.50 245.50,560.50 245.50,572.50" fill="none" stroke="#1c1c1c" stroke-width="1.0"/>
<text x="237.70" y="561.70" font-size="6" text-anchor="middle" textLength="5.60" lengthAdjust="spacingAndGlyphs" fill="#111">**</text>
<text x="223.40" y="626.20" font-size="7.8" text-anchor="middle" textLength="19.30" lengthAdjust="spacingAndGlyphs" fill="#111">p-ERK</text>
<line x1="283.50" y1="470.50" x2="283.50" y2="533.65" stroke="#1c1c1c" stroke-width="0.9"/>
<line x1="281.30" y1="533.50" x2="283.30" y2="533.50" stroke="#1c1c1c" stroke-width="0.8"/>
<text x="277.50" y="536.13" font-size="8.1" text-anchor="end" textLength="4.05" lengthAdjust="spacingAndGlyphs" fill="#111">0</text>
<line x1="281.30" y1="518.50" x2="283.30" y2="518.50" stroke="#1c1c1c" stroke-width="0.8"/>
<text x="277.50" y="520.93" font-size="8.1" text-anchor="end" textLength="4.05" lengthAdjust="spacingAndGlyphs" fill="#111">2</text>
<line x1="281.30" y1="502.50" x2="283.30" y2="502.50" stroke="#1c1c1c" stroke-width="0.8"/>
<text x="277.50" y="505.73" font-size="8.1" text-anchor="end" textLength="4.05" lengthAdjust="spacingAndGlyphs" fill="#111">4</text>
<line x1="281.30" y1="487.50" x2="283.30" y2="487.50" stroke="#1c1c1c" stroke-width="0.8"/>
<text x="277.50" y="490.53" font-size="8.1" text-anchor="end" textLength="4.05" lengthAdjust="spacingAndGlyphs" fill="#111">6</text>
<line x1="281.30" y1="472.50" x2="283.30" y2="472.50" stroke="#1c1c1c" stroke-width="0.8"/>
<text x="277.50" y="475.33" font-size="8.1" text-anchor="end" textLength="4.05" lengthAdjust="spacingAndGlyphs" fill="#111">8</text>
<line x1="282.90" y1="533.50" x2="347.00" y2="533.50" stroke="#1c1c1c" stroke-width="0.9"/>
<line x1="291.50" y1="526.20" x2="291.50" y2="524.50" stroke="#1c1c1c" stroke-width="0.9"/>
<line x1="289.55" y1="524.50" x2="293.55" y2="524.50" stroke="#1c1c1c" stroke-width="0.9"/>
<rect x="286.30" y="525.70" width="10.50" height="7.55" fill="#3c7458"/>
<line x1="307.50" y1="525.50" x2="307.50" y2="523.20" stroke="#1c1c1c" stroke-width="0.9"/>
<line x1="305.25" y1="523.50" x2="309.25" y2="523.50" stroke="#1c1c1c" stroke-width="0.9"/>
<rect x="302.00" y="525.00" width="10.50" height="8.25" fill="#2a4b87"/>
<line x1="323.50" y1="481.70" x2="323.50" y2="480.50" stroke="#1c1c1c" stroke-width="0.9"/>
<line x1="321.40" y1="480.50" x2="325.40" y2="480.50" stroke="#1c1c1c" stroke-width="0.9"/>
<rect x="318.00" y="481.20" width="10.80" height="52.05" fill="#55266a"/>
<line x1="339.50" y1="511.00" x2="339.50" y2="504.20" stroke="#1c1c1c" stroke-width="0.9"/>
<line x1="337.65" y1="504.50" x2="341.65" y2="504.50" stroke="#1c1c1c" stroke-width="0.9"/>
<rect x="334.30" y="510.50" width="10.70" height="22.75" fill="#b0002d"/>
<text x="267.00" y="532.80" font-size="8.7" text-anchor="start" textLength="41.40" lengthAdjust="spacingAndGlyphs" fill="#111" transform="rotate(-90 267.00 532.80)">Normalized</text>
<text x="267.00" y="487.20" font-size="8.7" text-anchor="start" textLength="16.20" lengthAdjust="spacingAndGlyphs" fill="#111" transform="rotate(-90 267.00 487.20)">MFI</text>
<polyline points="298.50,519.50 298.50,474.50 322.50,474.50 322.50,476.50 338.50,476.50 338.50,498.50" fill="none" stroke="#1c1c1c" stroke-width="1.0"/>
<line x1="291.00" y1="519.50" x2="305.80" y2="519.50" stroke="#1c1c1c" stroke-width="1.0"/>
<line x1="322.50" y1="474.20" x2="322.50" y2="477.80" stroke="#1c1c1c" stroke-width="1.0"/>
<text x="309.90" y="475.00" font-size="6" text-anchor="middle" textLength="8.40" lengthAdjust="spacingAndGlyphs" fill="#111">***</text>
<text x="329.80" y="475.70" font-size="6" text-anchor="middle" textLength="8.40" lengthAdjust="spacingAndGlyphs" fill="#111">***</text>
<line x1="283.50" y1="553.70" x2="283.50" y2="615.40" stroke="#1c1c1c" stroke-width="0.9"/>
<line x1="281.30" y1="615.50" x2="283.30" y2="615.50" stroke="#1c1c1c" stroke-width="0.8"/>
<text x="277.50" y="617.88" font-size="8.1" text-anchor="end" textLength="4.05" lengthAdjust="spacingAndGlyphs" fill="#111">0</text>
<line x1="281.30" y1="603.50" x2="283.30" y2="603.50" stroke="#1c1c1c" stroke-width="0.8"/>
<text x="277.50" y="605.93" font-size="8.1" text-anchor="end" textLength="4.05" lengthAdjust="spacingAndGlyphs" fill="#111">1</text>
<line x1="281.30" y1="591.50" x2="283.30" y2="591.50" stroke="#1c1c1c" stroke-width="0.8"/>
<text x="277.50" y="593.98" font-size="8.1" text-anchor="end" textLength="4.05" lengthAdjust="spacingAndGlyphs" fill="#111">2</text>
<line x1="281.30" y1="579.50" x2="283.30" y2="579.50" stroke="#1c1c1c" stroke-width="0.8"/>
<text x="277.50" y="582.03" font-size="8.1" text-anchor="end" textLength="4.05" lengthAdjust="spacingAndGlyphs" fill="#111">3</text>
<line x1="281.30" y1="567.50" x2="283.30" y2="567.50" stroke="#1c1c1c" stroke-width="0.8"/>
<text x="277.50" y="570.08" font-size="8.1" text-anchor="end" textLength="4.05" lengthAdjust="spacingAndGlyphs" fill="#111">4</text>
<line x1="281.30" y1="555.50" x2="283.30" y2="555.50" stroke="#1c1c1c" stroke-width="0.8"/>
<text x="277.50" y="558.13" font-size="8.1" text-anchor="end" textLength="4.05" lengthAdjust="spacingAndGlyphs" fill="#111">5</text>
<line x1="282.90" y1="615.50" x2="347.50" y2="615.50" stroke="#1c1c1c" stroke-width="0.9"/>
<line x1="291.50" y1="604.70" x2="291.50" y2="603.50" stroke="#1c1c1c" stroke-width="0.9"/>
<line x1="289.55" y1="603.50" x2="293.55" y2="603.50" stroke="#1c1c1c" stroke-width="0.9"/>
<rect x="286.30" y="604.20" width="10.50" height="10.80" fill="#3c7458"/>
<line x1="307.50" y1="603.00" x2="307.50" y2="600.70" stroke="#1c1c1c" stroke-width="0.9"/>
<line x1="305.50" y1="600.50" x2="309.50" y2="600.50" stroke="#1c1c1c" stroke-width="0.9"/>
<rect x="302.00" y="602.50" width="11.00" height="12.50" fill="#2a4b87"/>
<line x1="323.50" y1="576.00" x2="323.50" y2="564.20" stroke="#1c1c1c" stroke-width="0.9"/>
<line x1="321.65" y1="564.50" x2="325.65" y2="564.50" stroke="#1c1c1c" stroke-width="0.9"/>
<rect x="318.00" y="575.50" width="11.30" height="39.50" fill="#55266a"/>
<line x1="340.50" y1="601.00" x2="340.50" y2="595.50" stroke="#1c1c1c" stroke-width="0.9"/>
<line x1="338.00" y1="595.50" x2="342.00" y2="595.50" stroke="#1c1c1c" stroke-width="0.9"/>
<rect x="334.50" y="600.50" width="11.00" height="14.50" fill="#b0002d"/>
<text x="267.00" y="614.60" font-size="8.7" text-anchor="start" textLength="41.40" lengthAdjust="spacingAndGlyphs" fill="#111" transform="rotate(-90 267.00 614.60)">Normalized</text>
<text x="267.00" y="569.00" font-size="8.7" text-anchor="start" textLength="16.20" lengthAdjust="spacingAndGlyphs" fill="#111" transform="rotate(-90 267.00 569.00)">MFI</text>
<polyline points="299.50,596.50 299.50,556.50 339.50,556.50 339.50,590.50" fill="none" stroke="#1c1c1c" stroke-width="1.0"/>
<line x1="291.40" y1="596.50" x2="307.00" y2="596.50" stroke="#1c1c1c" stroke-width="1.0"/>
<line x1="322.50" y1="556.70" x2="322.50" y2="560.90" stroke="#1c1c1c" stroke-width="1.0"/>
<text x="308.20" y="557.00" font-size="6" text-anchor="middle" textLength="8.40" lengthAdjust="spacingAndGlyphs" fill="#111">***</text>
<text x="331.10" y="557.00" font-size="6" text-anchor="middle" textLength="8.40" lengthAdjust="spacingAndGlyphs" fill="#111">***</text>
<text x="315.70" y="626.20" font-size="7.8" text-anchor="middle" textLength="23.70" lengthAdjust="spacingAndGlyphs" fill="#111">p-Stat5</text>
<line x1="378.50" y1="468.70" x2="378.50" y2="533.65" stroke="#1c1c1c" stroke-width="0.9"/>
<line x1="376.30" y1="533.50" x2="378.30" y2="533.50" stroke="#1c1c1c" stroke-width="0.8"/>
<text x="372.50" y="536.13" font-size="8.1" text-anchor="end" textLength="4.05" lengthAdjust="spacingAndGlyphs" fill="#111">0</text>
<line x1="376.30" y1="517.50" x2="378.30" y2="517.50" stroke="#1c1c1c" stroke-width="0.8"/>
<text x="372.50" y="520.63" font-size="8.1" text-anchor="end" textLength="4.05" lengthAdjust="spacingAndGlyphs" fill="#111">1</text>
<line x1="376.30" y1="502.50" x2="378.30" y2="502.50" stroke="#1c1c1c" stroke-width="0.8"/>
<text x="372.50" y="505.13" font-size="8.1" text-anchor="end" textLength="4.05" lengthAdjust="spacingAndGlyphs" fill="#111">2</text>
<line x1="376.30" y1="486.50" x2="378.30" y2="486.50" stroke="#1c1c1c" stroke-width="0.8"/>
<text x="372.50" y="489.63" font-size="8.1" text-anchor="end" textLength="4.05" lengthAdjust="spacingAndGlyphs" fill="#111">3</text>
<line x1="376.30" y1="471.50" x2="378.30" y2="471.50" stroke="#1c1c1c" stroke-width="0.8"/>
<text x="372.50" y="474.13" font-size="8.1" text-anchor="end" textLength="4.05" lengthAdjust="spacingAndGlyphs" fill="#111">4</text>
<line x1="377.90" y1="533.50" x2="427.50" y2="533.50" stroke="#1c1c1c" stroke-width="0.9"/>
<line x1="386.50" y1="518.50" x2="386.50" y2="515.00" stroke="#1c1c1c" stroke-width="0.9"/>
<line x1="384.40" y1="515.50" x2="388.90" y2="515.50" stroke="#1c1c1c" stroke-width="0.9"/>
<rect x="381.30" y="518.00" width="10.70" height="15.25" fill="#3a6b52"/>
<line x1="403.50" y1="480.50" x2="403.50" y2="478.00" stroke="#1c1c1c" stroke-width="0.9"/>
<line x1="401.15" y1="478.50" x2="405.65" y2="478.50" stroke="#1c1c1c" stroke-width="0.9"/>
<rect x="398.00" y="480.00" width="10.80" height="53.25" fill="#6aaa45"/>
<line x1="420.50" y1="486.00" x2="420.50" y2="476.30" stroke="#1c1c1c" stroke-width="0.9"/>
<line x1="417.75" y1="476.50" x2="422.25" y2="476.50" stroke="#1c1c1c" stroke-width="0.9"/>
<rect x="414.50" y="485.50" width="11.00" height="47.75" fill="#e08f1a"/>
<text x="362.00" y="532.80" font-size="8.7" text-anchor="start" textLength="41.40" lengthAdjust="spacingAndGlyphs" fill="#111" transform="rotate(-90 362.00 532.80)">Normalized</text>
<text x="362.00" y="487.20" font-size="8.7" text-anchor="start" textLength="16.20" lengthAdjust="spacingAndGlyphs" fill="#111" transform="rotate(-90 362.00 487.20)">MFI</text>
<polyline points="386.50,513.50 386.50,470.50 412.50,470.50 412.50,474.50" fill="none" stroke="#1c1c1c" stroke-width="1.0"/>
<line x1="403.80" y1="474.50" x2="419.50" y2="474.50" stroke="#1c1c1c" stroke-width="1.0"/>
<text x="399.00" y="468.90" font-size="6" text-anchor="middle" textLength="5.60" lengthAdjust="spacingAndGlyphs" fill="#111">**</text>
<line x1="378.50" y1="552.00" x2="378.50" y2="615.40" stroke="#1c1c1c" stroke-width="0.9"/>
<line x1="376.30" y1="615.50" x2="378.30" y2="615.50" stroke="#1c1c1c" stroke-width="0.8"/>
<text x="372.50" y="617.88" font-size="8.1" text-anchor="end" textLength="4.05" lengthAdjust="spacingAndGlyphs" fill="#111">0</text>
<line x1="376.30" y1="594.50" x2="378.30" y2="594.50" stroke="#1c1c1c" stroke-width="0.8"/>
<text x="372.50" y="597.48" font-size="8.1" text-anchor="end" textLength="4.05" lengthAdjust="spacingAndGlyphs" fill="#111">2</text>
<line x1="376.30" y1="574.50" x2="378.30" y2="574.50" stroke="#1c1c1c" stroke-width="0.8"/>
<text x="372.50" y="577.08" font-size="8.1" text-anchor="end" textLength="4.05" lengthAdjust="spacingAndGlyphs" fill="#111">4</text>
<line x1="376.30" y1="553.50" x2="378.30" y2="553.50" stroke="#1c1c1c" stroke-width="0.8"/>
<text x="372.50" y="556.68" font-size="8.1" text-anchor="end" textLength="4.05" lengthAdjust="spacingAndGlyphs" fill="#111">6</text>
<line x1="377.90" y1="615.50" x2="428.50" y2="615.50" stroke="#1c1c1c" stroke-width="0.9"/>
<line x1="386.50" y1="606.00" x2="386.50" y2="602.50" stroke="#1c1c1c" stroke-width="0.9"/>
<line x1="383.90" y1="602.50" x2="388.40" y2="602.50" stroke="#1c1c1c" stroke-width="0.9"/>
<rect x="380.50" y="605.50" width="11.30" height="9.50" fill="#3a6b52"/>
<line x1="403.50" y1="571.20" x2="403.50" y2="565.00" stroke="#1c1c1c" stroke-width="0.9"/>
<line x1="401.50" y1="565.50" x2="406.00" y2="565.50" stroke="#1c1c1c" stroke-width="0.9"/>
<rect x="398.00" y="570.70" width="11.50" height="44.30" fill="#6aaa45"/>
<line x1="421.50" y1="574.80" x2="421.50" y2="567.50" stroke="#1c1c1c" stroke-width="0.9"/>
<line x1="419.15" y1="567.50" x2="423.65" y2="567.50" stroke="#1c1c1c" stroke-width="0.9"/>
<rect x="415.80" y="574.30" width="11.20" height="40.70" fill="#e08f1a"/>
<text x="362.00" y="614.60" font-size="8.7" text-anchor="start" textLength="41.40" lengthAdjust="spacingAndGlyphs" fill="#111" transform="rotate(-90 362.00 614.60)">Normalized</text>
<text x="362.00" y="569.00" font-size="8.7" text-anchor="start" textLength="16.20" lengthAdjust="spacingAndGlyphs" fill="#111" transform="rotate(-90 362.00 569.00)">MFI</text>
<polyline points="386.50,601.50 386.50,555.50 412.50,555.50 412.50,560.50" fill="none" stroke="#1c1c1c" stroke-width="1.0"/>
<line x1="404.30" y1="560.50" x2="420.80" y2="560.50" stroke="#1c1c1c" stroke-width="1.0"/>
<text x="399.20" y="555.00" font-size="6" text-anchor="middle" textLength="5.60" lengthAdjust="spacingAndGlyphs" fill="#111">**</text>
<text x="404.20" y="626.20" font-size="7.8" text-anchor="middle" textLength="19.30" lengthAdjust="spacingAndGlyphs" fill="#111">p-ERK</text>
<line x1="460.50" y1="468.70" x2="460.50" y2="533.65" stroke="#1c1c1c" stroke-width="0.9"/>
<line x1="458.80" y1="533.50" x2="460.80" y2="533.50" stroke="#1c1c1c" stroke-width="0.8"/>
<text x="455.10" y="536.13" font-size="8.1" text-anchor="end" textLength="4.05" lengthAdjust="spacingAndGlyphs" fill="#111">0</text>
<line x1="458.80" y1="517.50" x2="460.80" y2="517.50" stroke="#1c1c1c" stroke-width="0.8"/>
<text x="455.10" y="520.63" font-size="8.1" text-anchor="end" textLength="4.05" lengthAdjust="spacingAndGlyphs" fill="#111">1</text>
<line x1="458.80" y1="502.50" x2="460.80" y2="502.50" stroke="#1c1c1c" stroke-width="0.8"/>
<text x="455.10" y="505.13" font-size="8.1" text-anchor="end" textLength="4.05" lengthAdjust="spacingAndGlyphs" fill="#111">2</text>
<line x1="458.80" y1="486.50" x2="460.80" y2="486.50" stroke="#1c1c1c" stroke-width="0.8"/>
<text x="455.10" y="489.63" font-size="8.1" text-anchor="end" textLength="4.05" lengthAdjust="spacingAndGlyphs" fill="#111">3</text>
<line x1="458.80" y1="471.50" x2="460.80" y2="471.50" stroke="#1c1c1c" stroke-width="0.8"/>
<text x="455.10" y="474.13" font-size="8.1" text-anchor="end" textLength="4.05" lengthAdjust="spacingAndGlyphs" fill="#111">4</text>
<line x1="460.40" y1="533.50" x2="510.00" y2="533.50" stroke="#1c1c1c" stroke-width="0.9"/>
<line x1="468.50" y1="518.50" x2="468.50" y2="517.30" stroke="#1c1c1c" stroke-width="0.9"/>
<line x1="466.65" y1="517.50" x2="471.15" y2="517.50" stroke="#1c1c1c" stroke-width="0.9"/>
<rect x="463.30" y="518.00" width="11.20" height="15.25" fill="#3a6b52"/>
<line x1="485.50" y1="491.80" x2="485.50" y2="488.30" stroke="#1c1c1c" stroke-width="0.9"/>
<line x1="483.40" y1="488.50" x2="487.90" y2="488.50" stroke="#1c1c1c" stroke-width="0.9"/>
<rect x="480.00" y="491.30" width="11.30" height="41.95" fill="#6aaa45"/>
<line x1="502.50" y1="493.00" x2="502.50" y2="485.00" stroke="#1c1c1c" stroke-width="0.9"/>
<line x1="500.15" y1="485.50" x2="504.65" y2="485.50" stroke="#1c1c1c" stroke-width="0.9"/>
<rect x="496.80" y="492.50" width="11.20" height="40.75" fill="#e08f1a"/>
<text x="444.50" y="532.80" font-size="8.7" text-anchor="start" textLength="41.40" lengthAdjust="spacingAndGlyphs" fill="#111" transform="rotate(-90 444.50 532.80)">Normalized</text>
<text x="444.50" y="487.20" font-size="8.7" text-anchor="start" textLength="16.20" lengthAdjust="spacingAndGlyphs" fill="#111" transform="rotate(-90 444.50 487.20)">MFI</text>
<polyline points="471.50,512.50 471.50,477.50 494.50,477.50 494.50,481.50" fill="none" stroke="#1c1c1c" stroke-width="1.0"/>
<line x1="486.30" y1="481.50" x2="502.50" y2="481.50" stroke="#1c1c1c" stroke-width="1.0"/>
<text x="483.40" y="475.60" font-size="6" text-anchor="middle" textLength="5.60" lengthAdjust="spacingAndGlyphs" fill="#111">**</text>
<line x1="460.50" y1="552.00" x2="460.50" y2="615.40" stroke="#1c1c1c" stroke-width="0.9"/>
<line x1="458.80" y1="615.50" x2="460.80" y2="615.50" stroke="#1c1c1c" stroke-width="0.8"/>
<text x="455.10" y="617.88" font-size="8.1" text-anchor="end" textLength="4.05" lengthAdjust="spacingAndGlyphs" fill="#111">0</text>
<line x1="458.80" y1="594.50" x2="460.80" y2="594.50" stroke="#1c1c1c" stroke-width="0.8"/>
<text x="455.10" y="597.48" font-size="8.1" text-anchor="end" textLength="4.05" lengthAdjust="spacingAndGlyphs" fill="#111">2</text>
<line x1="458.80" y1="574.50" x2="460.80" y2="574.50" stroke="#1c1c1c" stroke-width="0.8"/>
<text x="455.10" y="577.08" font-size="8.1" text-anchor="end" textLength="4.05" lengthAdjust="spacingAndGlyphs" fill="#111">4</text>
<line x1="458.80" y1="553.50" x2="460.80" y2="553.50" stroke="#1c1c1c" stroke-width="0.8"/>
<text x="455.10" y="556.68" font-size="8.1" text-anchor="end" textLength="4.05" lengthAdjust="spacingAndGlyphs" fill="#111">6</text>
<line x1="460.40" y1="615.50" x2="511.00" y2="615.50" stroke="#1c1c1c" stroke-width="0.9"/>
<line x1="469.50" y1="606.00" x2="469.50" y2="605.00" stroke="#1c1c1c" stroke-width="0.9"/>
<line x1="466.90" y1="605.50" x2="471.40" y2="605.50" stroke="#1c1c1c" stroke-width="0.9"/>
<rect x="463.30" y="605.50" width="11.70" height="9.50" fill="#3a6b52"/>
<line x1="486.50" y1="566.30" x2="486.50" y2="562.50" stroke="#1c1c1c" stroke-width="0.9"/>
<line x1="484.40" y1="562.50" x2="488.90" y2="562.50" stroke="#1c1c1c" stroke-width="0.9"/>
<rect x="480.80" y="565.80" width="11.70" height="49.20" fill="#6aaa45"/>
<line x1="503.50" y1="574.30" x2="503.50" y2="568.30" stroke="#1c1c1c" stroke-width="0.9"/>
<line x1="501.50" y1="568.50" x2="506.00" y2="568.50" stroke="#1c1c1c" stroke-width="0.9"/>
<rect x="498.00" y="573.80" width="11.50" height="41.20" fill="#e08f1a"/>
<text x="444.50" y="614.60" font-size="8.7" text-anchor="start" textLength="41.40" lengthAdjust="spacingAndGlyphs" fill="#111" transform="rotate(-90 444.50 614.60)">Normalized</text>
<text x="444.50" y="569.00" font-size="8.7" text-anchor="start" textLength="16.20" lengthAdjust="spacingAndGlyphs" fill="#111" transform="rotate(-90 444.50 569.00)">MFI</text>
<polyline points="468.50,596.50 468.50,555.50 496.50,555.50 496.50,560.50" fill="none" stroke="#1c1c1c" stroke-width="1.0"/>
<line x1="487.50" y1="560.50" x2="504.30" y2="560.50" stroke="#1c1c1c" stroke-width="1.0"/>
<text x="482.50" y="556.00" font-size="6" text-anchor="middle" textLength="5.60" lengthAdjust="spacingAndGlyphs" fill="#111">**</text>
<text x="486.60" y="626.20" font-size="7.8" text-anchor="middle" textLength="23.70" lengthAdjust="spacingAndGlyphs" fill="#111">p-Stat5</text>
<rect x="0" y="0" width="520" height="1" fill="#111"/>
<rect x="0" y="0" width="1.3" height="650" fill="#222"/>
<rect x="518.5" y="0" width="1.5" height="650" fill="#222"/>
<rect x="0" y="648.5" width="520" height="1.5" fill="#222"/>
</svg></body></html>
